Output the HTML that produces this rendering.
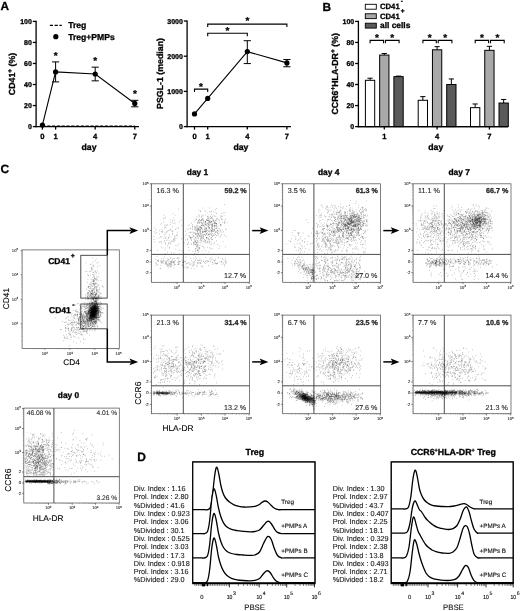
<!DOCTYPE html>
<html><head><meta charset="utf-8"><title>Figure</title>
<style>
html,body{margin:0;padding:0;background:#fff;}
svg{display:block;will-change:transform;filter:blur(0.3px);text-rendering:geometricPrecision;font-family:"Liberation Sans",sans-serif;}
</style></head>
<body>
<svg width="520" height="611" viewBox="0 0 520 611">
<defs>
<filter id="b1" x="-50%" y="-50%" width="200%" height="200%"><feGaussianBlur stdDeviation="1.1"/></filter>
<filter id="b2" x="-50%" y="-300%" width="200%" height="700%"><feGaussianBlur stdDeviation="0.6"/></filter>
<filter id="b3" x="-50%" y="-50%" width="200%" height="200%"><feGaussianBlur stdDeviation="2.2"/></filter>
</defs>
<rect width="520" height="611" fill="#fff"/>
<text x="0.60" y="10.40" font-size="11.8" text-anchor="start" fill="#000" font-weight="bold" stroke="#000" stroke-width="0.3" >A</text>
<text x="322.40" y="10.60" font-size="11.8" text-anchor="start" fill="#000" font-weight="bold" stroke="#000" stroke-width="0.3" >B</text>
<text x="0.60" y="173.20" font-size="12" text-anchor="start" fill="#000" font-weight="bold" stroke="#000" stroke-width="0.3" >C</text>
<text x="137.30" y="461.00" font-size="12" text-anchor="start" fill="#000" font-weight="bold" stroke="#000" stroke-width="0.3" >D</text>
<line x1="36.10" y1="20.80" x2="36.10" y2="127.25" stroke="#000" stroke-width="1.3" />
<line x1="35.45" y1="126.60" x2="139.00" y2="126.60" stroke="#000" stroke-width="1.3" />
<line x1="32.80" y1="126.60" x2="36.10" y2="126.60" stroke="#000" stroke-width="1.3" />
<text x="31.90" y="129.10" font-size="7" text-anchor="end" fill="#000" font-weight="bold" stroke="#000" stroke-width="0.3" >0</text>
<line x1="32.80" y1="105.56" x2="36.10" y2="105.56" stroke="#000" stroke-width="1.3" />
<text x="31.90" y="108.06" font-size="7" text-anchor="end" fill="#000" font-weight="bold" stroke="#000" stroke-width="0.3" >20</text>
<line x1="32.80" y1="84.52" x2="36.10" y2="84.52" stroke="#000" stroke-width="1.3" />
<text x="31.90" y="87.02" font-size="7" text-anchor="end" fill="#000" font-weight="bold" stroke="#000" stroke-width="0.3" >40</text>
<line x1="32.80" y1="63.48" x2="36.10" y2="63.48" stroke="#000" stroke-width="1.3" />
<text x="31.90" y="65.98" font-size="7" text-anchor="end" fill="#000" font-weight="bold" stroke="#000" stroke-width="0.3" >60</text>
<line x1="32.80" y1="42.44" x2="36.10" y2="42.44" stroke="#000" stroke-width="1.3" />
<text x="31.90" y="44.94" font-size="7" text-anchor="end" fill="#000" font-weight="bold" stroke="#000" stroke-width="0.3" >80</text>
<line x1="32.80" y1="21.40" x2="36.10" y2="21.40" stroke="#000" stroke-width="1.3" />
<text x="31.90" y="23.90" font-size="7" text-anchor="end" fill="#000" font-weight="bold" stroke="#000" stroke-width="0.3" >100</text>
<line x1="42.40" y1="126.60" x2="42.40" y2="129.60" stroke="#000" stroke-width="1.3" />
<text x="42.40" y="138.70" font-size="7.6" text-anchor="middle" fill="#000" font-weight="bold" stroke="#000" stroke-width="0.3" >0</text>
<line x1="55.60" y1="126.60" x2="55.60" y2="129.60" stroke="#000" stroke-width="1.3" />
<text x="55.60" y="138.70" font-size="7.6" text-anchor="middle" fill="#000" font-weight="bold" stroke="#000" stroke-width="0.3" >1</text>
<line x1="95.20" y1="126.60" x2="95.20" y2="129.60" stroke="#000" stroke-width="1.3" />
<text x="95.20" y="138.70" font-size="7.6" text-anchor="middle" fill="#000" font-weight="bold" stroke="#000" stroke-width="0.3" >4</text>
<line x1="134.80" y1="126.60" x2="134.80" y2="129.60" stroke="#000" stroke-width="1.3" />
<text x="134.80" y="138.70" font-size="7.6" text-anchor="middle" fill="#000" font-weight="bold" stroke="#000" stroke-width="0.3" >7</text>
<text x="89.00" y="149.80" font-size="8.7" text-anchor="middle" fill="#000" font-weight="bold" stroke="#000" stroke-width="0.3" >day</text>
<text transform="translate(14.90,74.00) rotate(-90)" font-size="8.8" text-anchor="middle" fill="#000" font-weight="bold" stroke="#000" stroke-width="0.3">CD41<tspan dy="-3" font-size="6.5">+</tspan><tspan dy="3"> (%)</tspan></text>
<line x1="42.40" y1="126.00" x2="134.80" y2="126.00" stroke="#000" stroke-width="1.2" stroke-dasharray="3.2 1.6"/>
<polyline fill="none" stroke="#000" stroke-width="1.1" points="42.40,125.02 55.60,71.90 95.20,74.00 134.80,103.46"/>
<circle cx="42.40" cy="125.02" r="2.6" fill="#000"/>
<line x1="55.60" y1="61.90" x2="55.60" y2="81.89" stroke="#000" stroke-width="1.0" />
<line x1="52.00" y1="61.90" x2="59.20" y2="61.90" stroke="#000" stroke-width="1.0" />
<line x1="52.00" y1="81.89" x2="59.20" y2="81.89" stroke="#000" stroke-width="1.0" />
<circle cx="55.60" cy="71.90" r="2.6" fill="#000"/>
<line x1="95.20" y1="67.16" x2="95.20" y2="80.84" stroke="#000" stroke-width="1.0" />
<line x1="91.60" y1="67.16" x2="98.80" y2="67.16" stroke="#000" stroke-width="1.0" />
<line x1="91.60" y1="80.84" x2="98.80" y2="80.84" stroke="#000" stroke-width="1.0" />
<circle cx="95.20" cy="74.00" r="2.6" fill="#000"/>
<line x1="134.80" y1="100.30" x2="134.80" y2="106.82" stroke="#000" stroke-width="1.0" />
<line x1="131.20" y1="100.30" x2="138.40" y2="100.30" stroke="#000" stroke-width="1.0" />
<line x1="131.20" y1="106.82" x2="138.40" y2="106.82" stroke="#000" stroke-width="1.0" />
<circle cx="134.80" cy="103.46" r="2.6" fill="#000"/>
<text x="55.60" y="58.80" font-size="10" text-anchor="middle" fill="#000" font-weight="bold" stroke="#000" stroke-width="0.3" >*</text>
<text x="95.20" y="64.30" font-size="10" text-anchor="middle" fill="#000" font-weight="bold" stroke="#000" stroke-width="0.3" >*</text>
<text x="134.90" y="97.00" font-size="10" text-anchor="middle" fill="#000" font-weight="bold" stroke="#000" stroke-width="0.3" >*</text>
<line x1="49.80" y1="25.40" x2="61.80" y2="25.40" stroke="#000" stroke-width="1.2" stroke-dasharray="3.2 1.6"/>
<text x="68.20" y="28.30" font-size="8.6" text-anchor="start" fill="#000" font-weight="bold" stroke="#000" stroke-width="0.3" >Treg</text>
<circle cx="55.8" cy="36.7" r="2.6" fill="#000"/>
<text x="68.20" y="39.60" font-size="8.6" text-anchor="start" fill="#000" font-weight="bold" stroke="#000" stroke-width="0.3" >Treg+PMPs</text>
<line x1="187.10" y1="20.40" x2="187.10" y2="127.25" stroke="#000" stroke-width="1.3" />
<line x1="186.45" y1="126.60" x2="291.00" y2="126.60" stroke="#000" stroke-width="1.3" />
<line x1="183.80" y1="126.60" x2="187.10" y2="126.60" stroke="#000" stroke-width="1.3" />
<text x="182.90" y="129.10" font-size="7" text-anchor="end" fill="#000" font-weight="bold" stroke="#000" stroke-width="0.3" >0</text>
<line x1="183.80" y1="91.40" x2="187.10" y2="91.40" stroke="#000" stroke-width="1.3" />
<text x="182.90" y="93.90" font-size="7" text-anchor="end" fill="#000" font-weight="bold" stroke="#000" stroke-width="0.3" >1000</text>
<line x1="183.80" y1="56.20" x2="187.10" y2="56.20" stroke="#000" stroke-width="1.3" />
<text x="182.90" y="58.70" font-size="7" text-anchor="end" fill="#000" font-weight="bold" stroke="#000" stroke-width="0.3" >2000</text>
<line x1="183.80" y1="21.00" x2="187.10" y2="21.00" stroke="#000" stroke-width="1.3" />
<text x="182.90" y="23.50" font-size="7" text-anchor="end" fill="#000" font-weight="bold" stroke="#000" stroke-width="0.3" >3000</text>
<line x1="194.50" y1="126.60" x2="194.50" y2="129.60" stroke="#000" stroke-width="1.3" />
<text x="194.50" y="138.70" font-size="7.6" text-anchor="middle" fill="#000" font-weight="bold" stroke="#000" stroke-width="0.3" >0</text>
<line x1="207.70" y1="126.60" x2="207.70" y2="129.60" stroke="#000" stroke-width="1.3" />
<text x="207.70" y="138.70" font-size="7.6" text-anchor="middle" fill="#000" font-weight="bold" stroke="#000" stroke-width="0.3" >1</text>
<line x1="247.30" y1="126.60" x2="247.30" y2="129.60" stroke="#000" stroke-width="1.3" />
<text x="247.30" y="138.70" font-size="7.6" text-anchor="middle" fill="#000" font-weight="bold" stroke="#000" stroke-width="0.3" >4</text>
<line x1="286.90" y1="126.60" x2="286.90" y2="129.60" stroke="#000" stroke-width="1.3" />
<text x="286.90" y="138.70" font-size="7.6" text-anchor="middle" fill="#000" font-weight="bold" stroke="#000" stroke-width="0.3" >7</text>
<text x="240.90" y="149.80" font-size="8.7" text-anchor="middle" fill="#000" font-weight="bold" stroke="#000" stroke-width="0.3" >day</text>
<text transform="translate(163.30,73.50) rotate(-90)" font-size="8.8" text-anchor="middle" fill="#000" font-weight="bold" stroke="#000" stroke-width="0.3">PSGL-1 (median)</text>
<polyline fill="none" stroke="#000" stroke-width="1.1" points="194.50,113.93 207.70,98.44 247.30,51.62 286.90,62.89"/>
<circle cx="194.50" cy="113.93" r="2.6" fill="#000"/>
<circle cx="207.70" cy="98.44" r="2.6" fill="#000"/>
<line x1="247.30" y1="40.71" x2="247.30" y2="63.59" stroke="#000" stroke-width="1.0" />
<line x1="243.70" y1="40.71" x2="250.90" y2="40.71" stroke="#000" stroke-width="1.0" />
<line x1="243.70" y1="63.59" x2="250.90" y2="63.59" stroke="#000" stroke-width="1.0" />
<circle cx="247.30" cy="51.62" r="2.6" fill="#000"/>
<line x1="286.90" y1="59.54" x2="286.90" y2="66.76" stroke="#000" stroke-width="1.0" />
<line x1="283.30" y1="59.54" x2="290.50" y2="59.54" stroke="#000" stroke-width="1.0" />
<line x1="283.30" y1="66.76" x2="290.50" y2="66.76" stroke="#000" stroke-width="1.0" />
<circle cx="286.90" cy="62.89" r="2.6" fill="#000"/>
<polyline fill="none" stroke="#000" stroke-width="1.1" points="207.70,27.10 207.70,24.10 286.90,24.10 286.90,27.10"/>
<text x="247.50" y="23.90" font-size="10" text-anchor="middle" fill="#000" font-weight="bold" stroke="#000" stroke-width="0.3" >*</text>
<polyline fill="none" stroke="#000" stroke-width="1.1" points="207.70,36.30 207.70,33.30 247.30,33.30 247.30,36.30"/>
<text x="227.50" y="33.90" font-size="10" text-anchor="middle" fill="#000" font-weight="bold" stroke="#000" stroke-width="0.3" >*</text>
<polyline fill="none" stroke="#000" stroke-width="1.1" points="194.50,91.90 194.50,89.10 207.70,89.10 207.70,91.90"/>
<text x="200.90" y="89.50" font-size="10" text-anchor="middle" fill="#000" font-weight="bold" stroke="#000" stroke-width="0.3" >*</text>
<line x1="358.40" y1="20.80" x2="358.40" y2="127.25" stroke="#000" stroke-width="1.3" />
<line x1="357.75" y1="126.60" x2="508.00" y2="126.60" stroke="#000" stroke-width="1.3" />
<line x1="355.10" y1="126.60" x2="358.40" y2="126.60" stroke="#000" stroke-width="1.3" />
<text x="354.20" y="129.10" font-size="7" text-anchor="end" fill="#000" font-weight="bold" stroke="#000" stroke-width="0.3" >0</text>
<line x1="355.10" y1="105.56" x2="358.40" y2="105.56" stroke="#000" stroke-width="1.3" />
<text x="354.20" y="108.06" font-size="7" text-anchor="end" fill="#000" font-weight="bold" stroke="#000" stroke-width="0.3" >20</text>
<line x1="355.10" y1="84.52" x2="358.40" y2="84.52" stroke="#000" stroke-width="1.3" />
<text x="354.20" y="87.02" font-size="7" text-anchor="end" fill="#000" font-weight="bold" stroke="#000" stroke-width="0.3" >40</text>
<line x1="355.10" y1="63.48" x2="358.40" y2="63.48" stroke="#000" stroke-width="1.3" />
<text x="354.20" y="65.98" font-size="7" text-anchor="end" fill="#000" font-weight="bold" stroke="#000" stroke-width="0.3" >60</text>
<line x1="355.10" y1="42.44" x2="358.40" y2="42.44" stroke="#000" stroke-width="1.3" />
<text x="354.20" y="44.94" font-size="7" text-anchor="end" fill="#000" font-weight="bold" stroke="#000" stroke-width="0.3" >80</text>
<line x1="355.10" y1="21.40" x2="358.40" y2="21.40" stroke="#000" stroke-width="1.3" />
<text x="354.20" y="23.90" font-size="7" text-anchor="end" fill="#000" font-weight="bold" stroke="#000" stroke-width="0.3" >100</text>
<text transform="translate(337.80,73.80) rotate(-90)" font-size="8.8" text-anchor="middle" fill="#000" font-weight="bold" stroke="#000" stroke-width="0.3">CCR6<tspan dy="-3" font-size="6.5">+</tspan><tspan dy="3">HLA-DR</tspan><tspan dy="-3" font-size="6.5">+</tspan><tspan dy="3"> (%)</tspan></text>
<line x1="370.05" y1="78.21" x2="370.05" y2="80.31" stroke="#000" stroke-width="1.0" />
<line x1="367.45" y1="78.21" x2="372.65" y2="78.21" stroke="#000" stroke-width="1.0" />
<rect x="365.40" y="80.31" width="9.3" height="46.29" fill="#ffffff" stroke="#000" stroke-width="1.0"/>
<line x1="384.30" y1="53.49" x2="384.30" y2="55.06" stroke="#000" stroke-width="1.0" />
<line x1="381.70" y1="53.49" x2="386.90" y2="53.49" stroke="#000" stroke-width="1.0" />
<rect x="379.65" y="55.06" width="9.3" height="71.54" fill="#a9a9a9" stroke="#000" stroke-width="1.0"/>
<line x1="398.55" y1="76.10" x2="398.55" y2="76.63" stroke="#000" stroke-width="1.0" />
<line x1="395.95" y1="76.10" x2="401.15" y2="76.10" stroke="#000" stroke-width="1.0" />
<rect x="393.90" y="76.63" width="9.3" height="49.97" fill="#5a5a5a" stroke="#000" stroke-width="1.0"/>
<line x1="384.30" y1="126.60" x2="384.30" y2="129.60" stroke="#000" stroke-width="1.3" />
<text x="384.30" y="138.70" font-size="7.6" text-anchor="middle" fill="#000" font-weight="bold" stroke="#000" stroke-width="0.3" >1</text>
<polyline fill="none" stroke="#000" stroke-width="1.1" points="370.10,43.20 370.10,40.40 383.50,40.40 383.50,43.20"/>
<polyline fill="none" stroke="#000" stroke-width="1.1" points="385.40,43.20 385.40,40.40 399.10,40.40 399.10,43.20"/>
<text x="376.90" y="40.90" font-size="10" text-anchor="middle" fill="#000" font-weight="bold" stroke="#000" stroke-width="0.3" >*</text>
<text x="392.30" y="40.90" font-size="10" text-anchor="middle" fill="#000" font-weight="bold" stroke="#000" stroke-width="0.3" >*</text>
<line x1="422.85" y1="96.62" x2="422.85" y2="100.30" stroke="#000" stroke-width="1.0" />
<line x1="420.25" y1="96.62" x2="425.45" y2="96.62" stroke="#000" stroke-width="1.0" />
<rect x="418.20" y="100.30" width="9.3" height="26.30" fill="#ffffff" stroke="#000" stroke-width="1.0"/>
<line x1="437.10" y1="46.65" x2="437.10" y2="49.80" stroke="#000" stroke-width="1.0" />
<line x1="434.50" y1="46.65" x2="439.70" y2="46.65" stroke="#000" stroke-width="1.0" />
<rect x="432.45" y="49.80" width="9.3" height="76.80" fill="#a9a9a9" stroke="#000" stroke-width="1.0"/>
<line x1="451.35" y1="78.94" x2="451.35" y2="84.52" stroke="#000" stroke-width="1.0" />
<line x1="448.75" y1="78.94" x2="453.95" y2="78.94" stroke="#000" stroke-width="1.0" />
<rect x="446.70" y="84.52" width="9.3" height="42.08" fill="#5a5a5a" stroke="#000" stroke-width="1.0"/>
<line x1="437.10" y1="126.60" x2="437.10" y2="129.60" stroke="#000" stroke-width="1.3" />
<text x="437.10" y="138.70" font-size="7.6" text-anchor="middle" fill="#000" font-weight="bold" stroke="#000" stroke-width="0.3" >4</text>
<polyline fill="none" stroke="#000" stroke-width="1.1" points="422.90,43.20 422.90,40.40 436.30,40.40 436.30,43.20"/>
<polyline fill="none" stroke="#000" stroke-width="1.1" points="438.20,43.20 438.20,40.40 451.90,40.40 451.90,43.20"/>
<text x="429.70" y="40.90" font-size="10" text-anchor="middle" fill="#000" font-weight="bold" stroke="#000" stroke-width="0.3" >*</text>
<text x="445.10" y="40.90" font-size="10" text-anchor="middle" fill="#000" font-weight="bold" stroke="#000" stroke-width="0.3" >*</text>
<line x1="475.15" y1="103.98" x2="475.15" y2="107.66" stroke="#000" stroke-width="1.0" />
<line x1="472.55" y1="103.98" x2="477.75" y2="103.98" stroke="#000" stroke-width="1.0" />
<rect x="470.50" y="107.66" width="9.3" height="18.94" fill="#ffffff" stroke="#000" stroke-width="1.0"/>
<line x1="489.40" y1="46.33" x2="489.40" y2="50.33" stroke="#000" stroke-width="1.0" />
<line x1="486.80" y1="46.33" x2="492.00" y2="46.33" stroke="#000" stroke-width="1.0" />
<rect x="484.75" y="50.33" width="9.3" height="76.27" fill="#a9a9a9" stroke="#000" stroke-width="1.0"/>
<line x1="503.65" y1="99.46" x2="503.65" y2="103.04" stroke="#000" stroke-width="1.0" />
<line x1="501.05" y1="99.46" x2="506.25" y2="99.46" stroke="#000" stroke-width="1.0" />
<rect x="499.00" y="103.04" width="9.3" height="23.56" fill="#5a5a5a" stroke="#000" stroke-width="1.0"/>
<line x1="489.40" y1="126.60" x2="489.40" y2="129.60" stroke="#000" stroke-width="1.3" />
<text x="489.40" y="138.70" font-size="7.6" text-anchor="middle" fill="#000" font-weight="bold" stroke="#000" stroke-width="0.3" >7</text>
<polyline fill="none" stroke="#000" stroke-width="1.1" points="475.20,43.20 475.20,40.40 488.60,40.40 488.60,43.20"/>
<polyline fill="none" stroke="#000" stroke-width="1.1" points="490.50,43.20 490.50,40.40 504.20,40.40 504.20,43.20"/>
<text x="482.00" y="40.90" font-size="10" text-anchor="middle" fill="#000" font-weight="bold" stroke="#000" stroke-width="0.3" >*</text>
<text x="497.40" y="40.90" font-size="10" text-anchor="middle" fill="#000" font-weight="bold" stroke="#000" stroke-width="0.3" >*</text>
<line x1="357.75" y1="126.60" x2="508.00" y2="126.60" stroke="#000" stroke-width="1.3" />
<text x="435.80" y="149.90" font-size="8.7" text-anchor="middle" fill="#000" font-weight="bold" stroke="#000" stroke-width="0.3" >day</text>
<rect x="365.3" y="4.30" width="11" height="4.9" fill="#ffffff" stroke="#000" stroke-width="0.9"/>
<text x="380.00" y="9.30" font-size="7.7" text-anchor="start" fill="#000" font-weight="bold" stroke="#000" stroke-width="0.3" >CD41<tspan dx="1.2" dy="-6.0" font-size="6.5">-</tspan></text>
<rect x="365.3" y="13.75" width="11" height="4.9" fill="#a9a9a9" stroke="#000" stroke-width="0.9"/>
<text x="380.00" y="18.75" font-size="7.7" text-anchor="start" fill="#000" font-weight="bold" stroke="#000" stroke-width="0.3" >CD41<tspan dx="1.2" dy="-6.0" font-size="6.5">+</tspan></text>
<rect x="365.3" y="23.20" width="11" height="4.9" fill="#5a5a5a" stroke="#000" stroke-width="0.9"/>
<text x="380.00" y="28.20" font-size="8.2" text-anchor="start" fill="#000" font-weight="bold" stroke="#000" stroke-width="0.3" textLength="30.3" lengthAdjust="spacingAndGlyphs">all cells</text>
<rect x="22.1" y="249.9" width="97.20" height="98.50" fill="none" stroke="#555" stroke-width="0.75"/>
<line x1="20.50" y1="250.40" x2="22.10" y2="250.40" stroke="#444" stroke-width="0.5" />
<text x="18.10" y="251.60" font-size="4.1" text-anchor="end" fill="#222" stroke="#222" stroke-width="0.1">10<tspan dy="-1.4" font-size="3.0">5</tspan></text>
<line x1="21.20" y1="267.45" x2="22.10" y2="267.45" stroke="#777" stroke-width="0.35" />
<line x1="21.20" y1="263.16" x2="22.10" y2="263.16" stroke="#777" stroke-width="0.35" />
<line x1="21.20" y1="260.11" x2="22.10" y2="260.11" stroke="#777" stroke-width="0.35" />
<line x1="21.20" y1="257.75" x2="22.10" y2="257.75" stroke="#777" stroke-width="0.35" />
<line x1="21.20" y1="255.81" x2="22.10" y2="255.81" stroke="#777" stroke-width="0.35" />
<line x1="21.20" y1="254.18" x2="22.10" y2="254.18" stroke="#777" stroke-width="0.35" />
<line x1="21.20" y1="252.76" x2="22.10" y2="252.76" stroke="#777" stroke-width="0.35" />
<line x1="21.20" y1="251.52" x2="22.10" y2="251.52" stroke="#777" stroke-width="0.35" />
<line x1="20.50" y1="274.70" x2="22.10" y2="274.70" stroke="#444" stroke-width="0.5" />
<text x="18.10" y="275.90" font-size="4.1" text-anchor="end" fill="#222" stroke="#222" stroke-width="0.1">10<tspan dy="-1.4" font-size="3.0">4</tspan></text>
<line x1="21.20" y1="291.75" x2="22.10" y2="291.75" stroke="#777" stroke-width="0.35" />
<line x1="21.20" y1="287.46" x2="22.10" y2="287.46" stroke="#777" stroke-width="0.35" />
<line x1="21.20" y1="284.41" x2="22.10" y2="284.41" stroke="#777" stroke-width="0.35" />
<line x1="21.20" y1="282.05" x2="22.10" y2="282.05" stroke="#777" stroke-width="0.35" />
<line x1="21.20" y1="280.11" x2="22.10" y2="280.11" stroke="#777" stroke-width="0.35" />
<line x1="21.20" y1="278.48" x2="22.10" y2="278.48" stroke="#777" stroke-width="0.35" />
<line x1="21.20" y1="277.06" x2="22.10" y2="277.06" stroke="#777" stroke-width="0.35" />
<line x1="21.20" y1="275.82" x2="22.10" y2="275.82" stroke="#777" stroke-width="0.35" />
<line x1="20.50" y1="299.30" x2="22.10" y2="299.30" stroke="#444" stroke-width="0.5" />
<text x="18.10" y="300.50" font-size="4.1" text-anchor="end" fill="#222" stroke="#222" stroke-width="0.1">10<tspan dy="-1.4" font-size="3.0">3</tspan></text>
<line x1="21.20" y1="316.35" x2="22.10" y2="316.35" stroke="#777" stroke-width="0.35" />
<line x1="21.20" y1="312.06" x2="22.10" y2="312.06" stroke="#777" stroke-width="0.35" />
<line x1="21.20" y1="309.01" x2="22.10" y2="309.01" stroke="#777" stroke-width="0.35" />
<line x1="21.20" y1="306.65" x2="22.10" y2="306.65" stroke="#777" stroke-width="0.35" />
<line x1="21.20" y1="304.71" x2="22.10" y2="304.71" stroke="#777" stroke-width="0.35" />
<line x1="21.20" y1="303.08" x2="22.10" y2="303.08" stroke="#777" stroke-width="0.35" />
<line x1="21.20" y1="301.66" x2="22.10" y2="301.66" stroke="#777" stroke-width="0.35" />
<line x1="21.20" y1="300.42" x2="22.10" y2="300.42" stroke="#777" stroke-width="0.35" />
<line x1="20.50" y1="323.70" x2="22.10" y2="323.70" stroke="#444" stroke-width="0.5" />
<text x="18.10" y="324.90" font-size="4.1" text-anchor="end" fill="#222" stroke="#222" stroke-width="0.1">10<tspan dy="-1.4" font-size="3.0">2</tspan></text>
<line x1="21.20" y1="340.75" x2="22.10" y2="340.75" stroke="#777" stroke-width="0.35" />
<line x1="21.20" y1="336.46" x2="22.10" y2="336.46" stroke="#777" stroke-width="0.35" />
<line x1="21.20" y1="333.41" x2="22.10" y2="333.41" stroke="#777" stroke-width="0.35" />
<line x1="21.20" y1="331.05" x2="22.10" y2="331.05" stroke="#777" stroke-width="0.35" />
<line x1="21.20" y1="329.11" x2="22.10" y2="329.11" stroke="#777" stroke-width="0.35" />
<line x1="21.20" y1="327.48" x2="22.10" y2="327.48" stroke="#777" stroke-width="0.35" />
<line x1="21.20" y1="326.06" x2="22.10" y2="326.06" stroke="#777" stroke-width="0.35" />
<line x1="21.20" y1="324.82" x2="22.10" y2="324.82" stroke="#777" stroke-width="0.35" />
<line x1="45.00" y1="348.40" x2="45.00" y2="350.00" stroke="#444" stroke-width="0.5" />
<text x="44.80" y="355.00" font-size="4.1" text-anchor="middle" fill="#222" stroke="#222" stroke-width="0.1">10<tspan dy="-1.4" font-size="3.0">2</tspan></text>
<line x1="27.88" y1="348.40" x2="27.88" y2="349.30" stroke="#777" stroke-width="0.35" />
<line x1="32.19" y1="348.40" x2="32.19" y2="349.30" stroke="#777" stroke-width="0.35" />
<line x1="35.25" y1="348.40" x2="35.25" y2="349.30" stroke="#777" stroke-width="0.35" />
<line x1="37.62" y1="348.40" x2="37.62" y2="349.30" stroke="#777" stroke-width="0.35" />
<line x1="39.56" y1="348.40" x2="39.56" y2="349.30" stroke="#777" stroke-width="0.35" />
<line x1="41.20" y1="348.40" x2="41.20" y2="349.30" stroke="#777" stroke-width="0.35" />
<line x1="42.63" y1="348.40" x2="42.63" y2="349.30" stroke="#777" stroke-width="0.35" />
<line x1="43.88" y1="348.40" x2="43.88" y2="349.30" stroke="#777" stroke-width="0.35" />
<line x1="70.00" y1="348.40" x2="70.00" y2="350.00" stroke="#444" stroke-width="0.5" />
<text x="69.80" y="355.00" font-size="4.1" text-anchor="middle" fill="#222" stroke="#222" stroke-width="0.1">10<tspan dy="-1.4" font-size="3.0">3</tspan></text>
<line x1="52.88" y1="348.40" x2="52.88" y2="349.30" stroke="#777" stroke-width="0.35" />
<line x1="57.19" y1="348.40" x2="57.19" y2="349.30" stroke="#777" stroke-width="0.35" />
<line x1="60.25" y1="348.40" x2="60.25" y2="349.30" stroke="#777" stroke-width="0.35" />
<line x1="62.62" y1="348.40" x2="62.62" y2="349.30" stroke="#777" stroke-width="0.35" />
<line x1="64.56" y1="348.40" x2="64.56" y2="349.30" stroke="#777" stroke-width="0.35" />
<line x1="66.20" y1="348.40" x2="66.20" y2="349.30" stroke="#777" stroke-width="0.35" />
<line x1="67.63" y1="348.40" x2="67.63" y2="349.30" stroke="#777" stroke-width="0.35" />
<line x1="68.88" y1="348.40" x2="68.88" y2="349.30" stroke="#777" stroke-width="0.35" />
<line x1="94.80" y1="348.40" x2="94.80" y2="350.00" stroke="#444" stroke-width="0.5" />
<text x="94.60" y="355.00" font-size="4.1" text-anchor="middle" fill="#222" stroke="#222" stroke-width="0.1">10<tspan dy="-1.4" font-size="3.0">4</tspan></text>
<line x1="77.68" y1="348.40" x2="77.68" y2="349.30" stroke="#777" stroke-width="0.35" />
<line x1="81.99" y1="348.40" x2="81.99" y2="349.30" stroke="#777" stroke-width="0.35" />
<line x1="85.05" y1="348.40" x2="85.05" y2="349.30" stroke="#777" stroke-width="0.35" />
<line x1="87.42" y1="348.40" x2="87.42" y2="349.30" stroke="#777" stroke-width="0.35" />
<line x1="89.36" y1="348.40" x2="89.36" y2="349.30" stroke="#777" stroke-width="0.35" />
<line x1="91.00" y1="348.40" x2="91.00" y2="349.30" stroke="#777" stroke-width="0.35" />
<line x1="92.43" y1="348.40" x2="92.43" y2="349.30" stroke="#777" stroke-width="0.35" />
<line x1="93.68" y1="348.40" x2="93.68" y2="349.30" stroke="#777" stroke-width="0.35" />
<line x1="118.80" y1="348.40" x2="118.80" y2="350.00" stroke="#444" stroke-width="0.5" />
<text x="118.60" y="355.00" font-size="4.1" text-anchor="middle" fill="#222" stroke="#222" stroke-width="0.1">10<tspan dy="-1.4" font-size="3.0">5</tspan></text>
<line x1="101.68" y1="348.40" x2="101.68" y2="349.30" stroke="#777" stroke-width="0.35" />
<line x1="105.99" y1="348.40" x2="105.99" y2="349.30" stroke="#777" stroke-width="0.35" />
<line x1="109.05" y1="348.40" x2="109.05" y2="349.30" stroke="#777" stroke-width="0.35" />
<line x1="111.42" y1="348.40" x2="111.42" y2="349.30" stroke="#777" stroke-width="0.35" />
<line x1="113.36" y1="348.40" x2="113.36" y2="349.30" stroke="#777" stroke-width="0.35" />
<line x1="115.00" y1="348.40" x2="115.00" y2="349.30" stroke="#777" stroke-width="0.35" />
<line x1="116.43" y1="348.40" x2="116.43" y2="349.30" stroke="#777" stroke-width="0.35" />
<line x1="117.68" y1="348.40" x2="117.68" y2="349.30" stroke="#777" stroke-width="0.35" />
<rect x="80.8" y="255.3" width="26.4" height="42.8" fill="none" stroke="#3a3a3a" stroke-width="0.9"/>
<rect x="80.8" y="304.0" width="26.4" height="24.8" fill="none" stroke="#3a3a3a" stroke-width="0.9"/>
<text x="48.20" y="264.00" font-size="8.5" text-anchor="start" fill="#000" font-weight="bold" stroke="#000" stroke-width="0.3" >CD41</text>
<text x="70.80" y="258.00" font-size="7" text-anchor="start" fill="#000" font-weight="bold" stroke="#000" stroke-width="0.3" >+</text>
<text x="49.00" y="312.50" font-size="8.5" text-anchor="start" fill="#000" font-weight="bold" stroke="#000" stroke-width="0.3" >CD41</text>
<text x="72.20" y="306.60" font-size="7" text-anchor="start" fill="#000" font-weight="bold" stroke="#000" stroke-width="0.3" >-</text>
<text transform="translate(9.40,298.60) rotate(-90)" font-size="8.3" text-anchor="middle" fill="#000" stroke="#000" stroke-width="0.12">CD41</text>
<text x="71.50" y="365.40" font-size="8.3" text-anchor="middle" fill="#000" stroke="#000" stroke-width="0.12" >CD4</text>
<polyline fill="none" stroke="#000" stroke-width="1.5" stroke-linejoin="miter" points="107.30,255.30 107.30,230.60 131.00,230.60"/>
<path d="M138.20,230.60 L129.40,227.20 L131.40,230.60 L129.40,234.00 Z" fill="#000"/>
<polyline fill="none" stroke="#000" stroke-width="1.5" stroke-linejoin="miter" points="107.30,328.80 107.30,361.90 131.00,361.90"/>
<path d="M138.20,361.90 L129.40,358.50 L131.40,361.90 L129.40,365.30 Z" fill="#000"/>
<ellipse cx="93.60" cy="311.50" rx="2.7" ry="6.2" transform="rotate(12 93.60 311.50)" fill="#000" fill-opacity="0.97" filter="url(#b1)"/>
<rect x="151.50" y="183.80" width="97.90" height="98.50" fill="none" stroke="#555" stroke-width="0.75"/>
<line x1="183.30" y1="183.80" x2="183.30" y2="282.30" stroke="#3a3a3a" stroke-width="0.9" />
<line x1="151.50" y1="254.40" x2="249.40" y2="254.40" stroke="#3a3a3a" stroke-width="0.9" />
<line x1="149.70" y1="183.80" x2="151.50" y2="183.80" stroke="#333" stroke-width="0.6" />
<text x="148.70" y="185.10" font-size="4.1" text-anchor="end" fill="#222" stroke="#222" stroke-width="0.1">10<tspan dy="-1.4" font-size="3.0">5</tspan></text>
<line x1="149.70" y1="206.00" x2="151.50" y2="206.00" stroke="#333" stroke-width="0.6" />
<text x="148.70" y="207.30" font-size="4.1" text-anchor="end" fill="#222" stroke="#222" stroke-width="0.1">10<tspan dy="-1.4" font-size="3.0">4</tspan></text>
<line x1="149.70" y1="230.40" x2="151.50" y2="230.40" stroke="#333" stroke-width="0.6" />
<text x="148.70" y="231.70" font-size="4.1" text-anchor="end" fill="#222" stroke="#222" stroke-width="0.1">10<tspan dy="-1.4" font-size="3.0">3</tspan></text>
<line x1="149.70" y1="250.60" x2="151.50" y2="250.60" stroke="#333" stroke-width="0.6" />
<text x="148.70" y="251.90" font-size="4.2" text-anchor="end" fill="#222" stroke="#222" stroke-width="0.1">2</text>
<line x1="149.70" y1="262.00" x2="151.50" y2="262.00" stroke="#333" stroke-width="0.6" />
<text x="148.70" y="263.30" font-size="4.2" text-anchor="end" fill="#222" stroke="#222" stroke-width="0.1">0</text>
<line x1="149.70" y1="272.70" x2="151.50" y2="272.70" stroke="#333" stroke-width="0.6" />
<text x="148.70" y="274.00" font-size="4.2" text-anchor="end" fill="#222" stroke="#222" stroke-width="0.1">-2</text>
<line x1="150.50" y1="199.32" x2="151.50" y2="199.32" stroke="#666" stroke-width="0.4" />
<line x1="150.50" y1="195.41" x2="151.50" y2="195.41" stroke="#666" stroke-width="0.4" />
<line x1="150.50" y1="192.63" x2="151.50" y2="192.63" stroke="#666" stroke-width="0.4" />
<line x1="150.50" y1="190.48" x2="151.50" y2="190.48" stroke="#666" stroke-width="0.4" />
<line x1="150.50" y1="188.73" x2="151.50" y2="188.73" stroke="#666" stroke-width="0.4" />
<line x1="150.50" y1="187.24" x2="151.50" y2="187.24" stroke="#666" stroke-width="0.4" />
<line x1="150.50" y1="185.95" x2="151.50" y2="185.95" stroke="#666" stroke-width="0.4" />
<line x1="150.50" y1="184.82" x2="151.50" y2="184.82" stroke="#666" stroke-width="0.4" />
<line x1="150.50" y1="223.05" x2="151.50" y2="223.05" stroke="#666" stroke-width="0.4" />
<line x1="150.50" y1="218.76" x2="151.50" y2="218.76" stroke="#666" stroke-width="0.4" />
<line x1="150.50" y1="215.71" x2="151.50" y2="215.71" stroke="#666" stroke-width="0.4" />
<line x1="150.50" y1="213.35" x2="151.50" y2="213.35" stroke="#666" stroke-width="0.4" />
<line x1="150.50" y1="211.41" x2="151.50" y2="211.41" stroke="#666" stroke-width="0.4" />
<line x1="150.50" y1="209.78" x2="151.50" y2="209.78" stroke="#666" stroke-width="0.4" />
<line x1="150.50" y1="208.36" x2="151.50" y2="208.36" stroke="#666" stroke-width="0.4" />
<line x1="150.50" y1="207.12" x2="151.50" y2="207.12" stroke="#666" stroke-width="0.4" />
<line x1="150.50" y1="233.40" x2="151.50" y2="233.40" stroke="#666" stroke-width="0.4" />
<line x1="150.50" y1="236.00" x2="151.50" y2="236.00" stroke="#666" stroke-width="0.4" />
<line x1="150.50" y1="238.60" x2="151.50" y2="238.60" stroke="#666" stroke-width="0.4" />
<line x1="150.50" y1="241.20" x2="151.50" y2="241.20" stroke="#666" stroke-width="0.4" />
<line x1="150.50" y1="243.80" x2="151.50" y2="243.80" stroke="#666" stroke-width="0.4" />
<line x1="150.50" y1="246.40" x2="151.50" y2="246.40" stroke="#666" stroke-width="0.4" />
<line x1="150.50" y1="249.00" x2="151.50" y2="249.00" stroke="#666" stroke-width="0.4" />
<line x1="150.50" y1="254.20" x2="151.50" y2="254.20" stroke="#666" stroke-width="0.4" />
<line x1="150.50" y1="256.80" x2="151.50" y2="256.80" stroke="#666" stroke-width="0.4" />
<line x1="150.50" y1="259.40" x2="151.50" y2="259.40" stroke="#666" stroke-width="0.4" />
<line x1="150.50" y1="264.60" x2="151.50" y2="264.60" stroke="#666" stroke-width="0.4" />
<line x1="150.50" y1="267.20" x2="151.50" y2="267.20" stroke="#666" stroke-width="0.4" />
<line x1="150.50" y1="269.80" x2="151.50" y2="269.80" stroke="#666" stroke-width="0.4" />
<line x1="150.50" y1="275.00" x2="151.50" y2="275.00" stroke="#666" stroke-width="0.4" />
<line x1="150.50" y1="277.60" x2="151.50" y2="277.60" stroke="#666" stroke-width="0.4" />
<line x1="150.50" y1="280.20" x2="151.50" y2="280.20" stroke="#666" stroke-width="0.4" />
<line x1="177.10" y1="282.30" x2="177.10" y2="284.10" stroke="#333" stroke-width="0.6" />
<text x="176.90" y="288.70" font-size="4.1" text-anchor="middle" fill="#222" stroke="#222" stroke-width="0.1">10<tspan dy="-1.4" font-size="3.0">2</tspan></text>
<line x1="201.40" y1="282.30" x2="201.40" y2="284.10" stroke="#333" stroke-width="0.6" />
<text x="201.20" y="288.70" font-size="4.1" text-anchor="middle" fill="#222" stroke="#222" stroke-width="0.1">10<tspan dy="-1.4" font-size="3.0">3</tspan></text>
<line x1="225.00" y1="282.30" x2="225.00" y2="284.10" stroke="#333" stroke-width="0.6" />
<text x="224.80" y="288.70" font-size="4.1" text-anchor="middle" fill="#222" stroke="#222" stroke-width="0.1">10<tspan dy="-1.4" font-size="3.0">4</tspan></text>
<line x1="249.10" y1="282.30" x2="249.10" y2="284.10" stroke="#333" stroke-width="0.6" />
<text x="248.90" y="288.70" font-size="4.1" text-anchor="middle" fill="#222" stroke="#222" stroke-width="0.1">10<tspan dy="-1.4" font-size="3.0">5</tspan></text>
<line x1="160.12" y1="282.30" x2="160.12" y2="283.30" stroke="#666" stroke-width="0.4" />
<line x1="164.39" y1="282.30" x2="164.39" y2="283.30" stroke="#666" stroke-width="0.4" />
<line x1="167.43" y1="282.30" x2="167.43" y2="283.30" stroke="#666" stroke-width="0.4" />
<line x1="169.78" y1="282.30" x2="169.78" y2="283.30" stroke="#666" stroke-width="0.4" />
<line x1="171.71" y1="282.30" x2="171.71" y2="283.30" stroke="#666" stroke-width="0.4" />
<line x1="173.34" y1="282.30" x2="173.34" y2="283.30" stroke="#666" stroke-width="0.4" />
<line x1="174.75" y1="282.30" x2="174.75" y2="283.30" stroke="#666" stroke-width="0.4" />
<line x1="175.99" y1="282.30" x2="175.99" y2="283.30" stroke="#666" stroke-width="0.4" />
<line x1="184.42" y1="282.30" x2="184.42" y2="283.30" stroke="#666" stroke-width="0.4" />
<line x1="188.69" y1="282.30" x2="188.69" y2="283.30" stroke="#666" stroke-width="0.4" />
<line x1="191.73" y1="282.30" x2="191.73" y2="283.30" stroke="#666" stroke-width="0.4" />
<line x1="194.08" y1="282.30" x2="194.08" y2="283.30" stroke="#666" stroke-width="0.4" />
<line x1="196.01" y1="282.30" x2="196.01" y2="283.30" stroke="#666" stroke-width="0.4" />
<line x1="197.64" y1="282.30" x2="197.64" y2="283.30" stroke="#666" stroke-width="0.4" />
<line x1="199.05" y1="282.30" x2="199.05" y2="283.30" stroke="#666" stroke-width="0.4" />
<line x1="200.29" y1="282.30" x2="200.29" y2="283.30" stroke="#666" stroke-width="0.4" />
<line x1="208.02" y1="282.30" x2="208.02" y2="283.30" stroke="#666" stroke-width="0.4" />
<line x1="212.29" y1="282.30" x2="212.29" y2="283.30" stroke="#666" stroke-width="0.4" />
<line x1="215.33" y1="282.30" x2="215.33" y2="283.30" stroke="#666" stroke-width="0.4" />
<line x1="217.68" y1="282.30" x2="217.68" y2="283.30" stroke="#666" stroke-width="0.4" />
<line x1="219.61" y1="282.30" x2="219.61" y2="283.30" stroke="#666" stroke-width="0.4" />
<line x1="221.24" y1="282.30" x2="221.24" y2="283.30" stroke="#666" stroke-width="0.4" />
<line x1="222.65" y1="282.30" x2="222.65" y2="283.30" stroke="#666" stroke-width="0.4" />
<line x1="223.89" y1="282.30" x2="223.89" y2="283.30" stroke="#666" stroke-width="0.4" />
<line x1="232.12" y1="282.30" x2="232.12" y2="283.30" stroke="#666" stroke-width="0.4" />
<line x1="236.39" y1="282.30" x2="236.39" y2="283.30" stroke="#666" stroke-width="0.4" />
<line x1="239.43" y1="282.30" x2="239.43" y2="283.30" stroke="#666" stroke-width="0.4" />
<line x1="241.78" y1="282.30" x2="241.78" y2="283.30" stroke="#666" stroke-width="0.4" />
<line x1="243.71" y1="282.30" x2="243.71" y2="283.30" stroke="#666" stroke-width="0.4" />
<line x1="245.34" y1="282.30" x2="245.34" y2="283.30" stroke="#666" stroke-width="0.4" />
<line x1="246.75" y1="282.30" x2="246.75" y2="283.30" stroke="#666" stroke-width="0.4" />
<line x1="247.99" y1="282.30" x2="247.99" y2="283.30" stroke="#666" stroke-width="0.4" />
<text x="197.50" y="175.20" font-size="8.4" text-anchor="middle" fill="#000" font-weight="bold" stroke="#000" stroke-width="0.3" >day 1</text>
<text x="156.50" y="193.15" font-size="7.15" text-anchor="start" fill="#2a2a2a" stroke="#2a2a2a" stroke-width="0.12" >16.3 %</text>
<text x="246.70" y="193.15" font-size="7.15" text-anchor="end" fill="#2a2a2a" font-weight="bold" stroke="#2a2a2a" stroke-width="0.3" >59.2 %</text>
<text x="246.20" y="278.10" font-size="7.15" text-anchor="end" fill="#2a2a2a" stroke="#2a2a2a" stroke-width="0.12" >12.7 %</text>
<rect x="282.70" y="183.80" width="97.90" height="98.50" fill="none" stroke="#555" stroke-width="0.75"/>
<line x1="313.90" y1="183.80" x2="313.90" y2="282.30" stroke="#3a3a3a" stroke-width="0.9" />
<line x1="282.70" y1="254.40" x2="380.60" y2="254.40" stroke="#3a3a3a" stroke-width="0.9" />
<line x1="280.90" y1="183.80" x2="282.70" y2="183.80" stroke="#333" stroke-width="0.6" />
<text x="279.90" y="185.10" font-size="4.1" text-anchor="end" fill="#222" stroke="#222" stroke-width="0.1">10<tspan dy="-1.4" font-size="3.0">5</tspan></text>
<line x1="280.90" y1="206.00" x2="282.70" y2="206.00" stroke="#333" stroke-width="0.6" />
<text x="279.90" y="207.30" font-size="4.1" text-anchor="end" fill="#222" stroke="#222" stroke-width="0.1">10<tspan dy="-1.4" font-size="3.0">4</tspan></text>
<line x1="280.90" y1="230.40" x2="282.70" y2="230.40" stroke="#333" stroke-width="0.6" />
<text x="279.90" y="231.70" font-size="4.1" text-anchor="end" fill="#222" stroke="#222" stroke-width="0.1">10<tspan dy="-1.4" font-size="3.0">3</tspan></text>
<line x1="280.90" y1="250.60" x2="282.70" y2="250.60" stroke="#333" stroke-width="0.6" />
<text x="279.90" y="251.90" font-size="4.2" text-anchor="end" fill="#222" stroke="#222" stroke-width="0.1">2</text>
<line x1="280.90" y1="262.00" x2="282.70" y2="262.00" stroke="#333" stroke-width="0.6" />
<text x="279.90" y="263.30" font-size="4.2" text-anchor="end" fill="#222" stroke="#222" stroke-width="0.1">0</text>
<line x1="280.90" y1="272.70" x2="282.70" y2="272.70" stroke="#333" stroke-width="0.6" />
<text x="279.90" y="274.00" font-size="4.2" text-anchor="end" fill="#222" stroke="#222" stroke-width="0.1">-2</text>
<line x1="281.70" y1="199.32" x2="282.70" y2="199.32" stroke="#666" stroke-width="0.4" />
<line x1="281.70" y1="195.41" x2="282.70" y2="195.41" stroke="#666" stroke-width="0.4" />
<line x1="281.70" y1="192.63" x2="282.70" y2="192.63" stroke="#666" stroke-width="0.4" />
<line x1="281.70" y1="190.48" x2="282.70" y2="190.48" stroke="#666" stroke-width="0.4" />
<line x1="281.70" y1="188.73" x2="282.70" y2="188.73" stroke="#666" stroke-width="0.4" />
<line x1="281.70" y1="187.24" x2="282.70" y2="187.24" stroke="#666" stroke-width="0.4" />
<line x1="281.70" y1="185.95" x2="282.70" y2="185.95" stroke="#666" stroke-width="0.4" />
<line x1="281.70" y1="184.82" x2="282.70" y2="184.82" stroke="#666" stroke-width="0.4" />
<line x1="281.70" y1="223.05" x2="282.70" y2="223.05" stroke="#666" stroke-width="0.4" />
<line x1="281.70" y1="218.76" x2="282.70" y2="218.76" stroke="#666" stroke-width="0.4" />
<line x1="281.70" y1="215.71" x2="282.70" y2="215.71" stroke="#666" stroke-width="0.4" />
<line x1="281.70" y1="213.35" x2="282.70" y2="213.35" stroke="#666" stroke-width="0.4" />
<line x1="281.70" y1="211.41" x2="282.70" y2="211.41" stroke="#666" stroke-width="0.4" />
<line x1="281.70" y1="209.78" x2="282.70" y2="209.78" stroke="#666" stroke-width="0.4" />
<line x1="281.70" y1="208.36" x2="282.70" y2="208.36" stroke="#666" stroke-width="0.4" />
<line x1="281.70" y1="207.12" x2="282.70" y2="207.12" stroke="#666" stroke-width="0.4" />
<line x1="281.70" y1="233.40" x2="282.70" y2="233.40" stroke="#666" stroke-width="0.4" />
<line x1="281.70" y1="236.00" x2="282.70" y2="236.00" stroke="#666" stroke-width="0.4" />
<line x1="281.70" y1="238.60" x2="282.70" y2="238.60" stroke="#666" stroke-width="0.4" />
<line x1="281.70" y1="241.20" x2="282.70" y2="241.20" stroke="#666" stroke-width="0.4" />
<line x1="281.70" y1="243.80" x2="282.70" y2="243.80" stroke="#666" stroke-width="0.4" />
<line x1="281.70" y1="246.40" x2="282.70" y2="246.40" stroke="#666" stroke-width="0.4" />
<line x1="281.70" y1="249.00" x2="282.70" y2="249.00" stroke="#666" stroke-width="0.4" />
<line x1="281.70" y1="254.20" x2="282.70" y2="254.20" stroke="#666" stroke-width="0.4" />
<line x1="281.70" y1="256.80" x2="282.70" y2="256.80" stroke="#666" stroke-width="0.4" />
<line x1="281.70" y1="259.40" x2="282.70" y2="259.40" stroke="#666" stroke-width="0.4" />
<line x1="281.70" y1="264.60" x2="282.70" y2="264.60" stroke="#666" stroke-width="0.4" />
<line x1="281.70" y1="267.20" x2="282.70" y2="267.20" stroke="#666" stroke-width="0.4" />
<line x1="281.70" y1="269.80" x2="282.70" y2="269.80" stroke="#666" stroke-width="0.4" />
<line x1="281.70" y1="275.00" x2="282.70" y2="275.00" stroke="#666" stroke-width="0.4" />
<line x1="281.70" y1="277.60" x2="282.70" y2="277.60" stroke="#666" stroke-width="0.4" />
<line x1="281.70" y1="280.20" x2="282.70" y2="280.20" stroke="#666" stroke-width="0.4" />
<line x1="308.30" y1="282.30" x2="308.30" y2="284.10" stroke="#333" stroke-width="0.6" />
<text x="308.10" y="288.70" font-size="4.1" text-anchor="middle" fill="#222" stroke="#222" stroke-width="0.1">10<tspan dy="-1.4" font-size="3.0">2</tspan></text>
<line x1="332.60" y1="282.30" x2="332.60" y2="284.10" stroke="#333" stroke-width="0.6" />
<text x="332.40" y="288.70" font-size="4.1" text-anchor="middle" fill="#222" stroke="#222" stroke-width="0.1">10<tspan dy="-1.4" font-size="3.0">3</tspan></text>
<line x1="356.20" y1="282.30" x2="356.20" y2="284.10" stroke="#333" stroke-width="0.6" />
<text x="356.00" y="288.70" font-size="4.1" text-anchor="middle" fill="#222" stroke="#222" stroke-width="0.1">10<tspan dy="-1.4" font-size="3.0">4</tspan></text>
<line x1="380.30" y1="282.30" x2="380.30" y2="284.10" stroke="#333" stroke-width="0.6" />
<text x="380.10" y="288.70" font-size="4.1" text-anchor="middle" fill="#222" stroke="#222" stroke-width="0.1">10<tspan dy="-1.4" font-size="3.0">5</tspan></text>
<line x1="291.32" y1="282.30" x2="291.32" y2="283.30" stroke="#666" stroke-width="0.4" />
<line x1="295.59" y1="282.30" x2="295.59" y2="283.30" stroke="#666" stroke-width="0.4" />
<line x1="298.63" y1="282.30" x2="298.63" y2="283.30" stroke="#666" stroke-width="0.4" />
<line x1="300.98" y1="282.30" x2="300.98" y2="283.30" stroke="#666" stroke-width="0.4" />
<line x1="302.91" y1="282.30" x2="302.91" y2="283.30" stroke="#666" stroke-width="0.4" />
<line x1="304.54" y1="282.30" x2="304.54" y2="283.30" stroke="#666" stroke-width="0.4" />
<line x1="305.95" y1="282.30" x2="305.95" y2="283.30" stroke="#666" stroke-width="0.4" />
<line x1="307.19" y1="282.30" x2="307.19" y2="283.30" stroke="#666" stroke-width="0.4" />
<line x1="315.62" y1="282.30" x2="315.62" y2="283.30" stroke="#666" stroke-width="0.4" />
<line x1="319.89" y1="282.30" x2="319.89" y2="283.30" stroke="#666" stroke-width="0.4" />
<line x1="322.93" y1="282.30" x2="322.93" y2="283.30" stroke="#666" stroke-width="0.4" />
<line x1="325.28" y1="282.30" x2="325.28" y2="283.30" stroke="#666" stroke-width="0.4" />
<line x1="327.21" y1="282.30" x2="327.21" y2="283.30" stroke="#666" stroke-width="0.4" />
<line x1="328.84" y1="282.30" x2="328.84" y2="283.30" stroke="#666" stroke-width="0.4" />
<line x1="330.25" y1="282.30" x2="330.25" y2="283.30" stroke="#666" stroke-width="0.4" />
<line x1="331.49" y1="282.30" x2="331.49" y2="283.30" stroke="#666" stroke-width="0.4" />
<line x1="339.22" y1="282.30" x2="339.22" y2="283.30" stroke="#666" stroke-width="0.4" />
<line x1="343.49" y1="282.30" x2="343.49" y2="283.30" stroke="#666" stroke-width="0.4" />
<line x1="346.53" y1="282.30" x2="346.53" y2="283.30" stroke="#666" stroke-width="0.4" />
<line x1="348.88" y1="282.30" x2="348.88" y2="283.30" stroke="#666" stroke-width="0.4" />
<line x1="350.81" y1="282.30" x2="350.81" y2="283.30" stroke="#666" stroke-width="0.4" />
<line x1="352.44" y1="282.30" x2="352.44" y2="283.30" stroke="#666" stroke-width="0.4" />
<line x1="353.85" y1="282.30" x2="353.85" y2="283.30" stroke="#666" stroke-width="0.4" />
<line x1="355.09" y1="282.30" x2="355.09" y2="283.30" stroke="#666" stroke-width="0.4" />
<line x1="363.32" y1="282.30" x2="363.32" y2="283.30" stroke="#666" stroke-width="0.4" />
<line x1="367.59" y1="282.30" x2="367.59" y2="283.30" stroke="#666" stroke-width="0.4" />
<line x1="370.63" y1="282.30" x2="370.63" y2="283.30" stroke="#666" stroke-width="0.4" />
<line x1="372.98" y1="282.30" x2="372.98" y2="283.30" stroke="#666" stroke-width="0.4" />
<line x1="374.91" y1="282.30" x2="374.91" y2="283.30" stroke="#666" stroke-width="0.4" />
<line x1="376.54" y1="282.30" x2="376.54" y2="283.30" stroke="#666" stroke-width="0.4" />
<line x1="377.95" y1="282.30" x2="377.95" y2="283.30" stroke="#666" stroke-width="0.4" />
<line x1="379.19" y1="282.30" x2="379.19" y2="283.30" stroke="#666" stroke-width="0.4" />
<text x="328.70" y="175.20" font-size="8.4" text-anchor="middle" fill="#000" font-weight="bold" stroke="#000" stroke-width="0.3" >day 4</text>
<text x="287.70" y="193.15" font-size="7.15" text-anchor="start" fill="#2a2a2a" stroke="#2a2a2a" stroke-width="0.12" >3.5 %</text>
<text x="377.90" y="193.15" font-size="7.15" text-anchor="end" fill="#2a2a2a" font-weight="bold" stroke="#2a2a2a" stroke-width="0.3" >61.3 %</text>
<text x="377.40" y="278.10" font-size="7.15" text-anchor="end" fill="#2a2a2a" stroke="#2a2a2a" stroke-width="0.12" >27.0 %</text>
<rect x="413.10" y="183.80" width="97.90" height="98.50" fill="none" stroke="#555" stroke-width="0.75"/>
<line x1="444.30" y1="183.80" x2="444.30" y2="282.30" stroke="#3a3a3a" stroke-width="0.9" />
<line x1="413.10" y1="254.40" x2="511.00" y2="254.40" stroke="#3a3a3a" stroke-width="0.9" />
<line x1="411.30" y1="183.80" x2="413.10" y2="183.80" stroke="#333" stroke-width="0.6" />
<text x="410.30" y="185.10" font-size="4.1" text-anchor="end" fill="#222" stroke="#222" stroke-width="0.1">10<tspan dy="-1.4" font-size="3.0">5</tspan></text>
<line x1="411.30" y1="206.00" x2="413.10" y2="206.00" stroke="#333" stroke-width="0.6" />
<text x="410.30" y="207.30" font-size="4.1" text-anchor="end" fill="#222" stroke="#222" stroke-width="0.1">10<tspan dy="-1.4" font-size="3.0">4</tspan></text>
<line x1="411.30" y1="230.40" x2="413.10" y2="230.40" stroke="#333" stroke-width="0.6" />
<text x="410.30" y="231.70" font-size="4.1" text-anchor="end" fill="#222" stroke="#222" stroke-width="0.1">10<tspan dy="-1.4" font-size="3.0">3</tspan></text>
<line x1="411.30" y1="250.60" x2="413.10" y2="250.60" stroke="#333" stroke-width="0.6" />
<text x="410.30" y="251.90" font-size="4.2" text-anchor="end" fill="#222" stroke="#222" stroke-width="0.1">2</text>
<line x1="411.30" y1="262.00" x2="413.10" y2="262.00" stroke="#333" stroke-width="0.6" />
<text x="410.30" y="263.30" font-size="4.2" text-anchor="end" fill="#222" stroke="#222" stroke-width="0.1">0</text>
<line x1="411.30" y1="272.70" x2="413.10" y2="272.70" stroke="#333" stroke-width="0.6" />
<text x="410.30" y="274.00" font-size="4.2" text-anchor="end" fill="#222" stroke="#222" stroke-width="0.1">-2</text>
<line x1="412.10" y1="199.32" x2="413.10" y2="199.32" stroke="#666" stroke-width="0.4" />
<line x1="412.10" y1="195.41" x2="413.10" y2="195.41" stroke="#666" stroke-width="0.4" />
<line x1="412.10" y1="192.63" x2="413.10" y2="192.63" stroke="#666" stroke-width="0.4" />
<line x1="412.10" y1="190.48" x2="413.10" y2="190.48" stroke="#666" stroke-width="0.4" />
<line x1="412.10" y1="188.73" x2="413.10" y2="188.73" stroke="#666" stroke-width="0.4" />
<line x1="412.10" y1="187.24" x2="413.10" y2="187.24" stroke="#666" stroke-width="0.4" />
<line x1="412.10" y1="185.95" x2="413.10" y2="185.95" stroke="#666" stroke-width="0.4" />
<line x1="412.10" y1="184.82" x2="413.10" y2="184.82" stroke="#666" stroke-width="0.4" />
<line x1="412.10" y1="223.05" x2="413.10" y2="223.05" stroke="#666" stroke-width="0.4" />
<line x1="412.10" y1="218.76" x2="413.10" y2="218.76" stroke="#666" stroke-width="0.4" />
<line x1="412.10" y1="215.71" x2="413.10" y2="215.71" stroke="#666" stroke-width="0.4" />
<line x1="412.10" y1="213.35" x2="413.10" y2="213.35" stroke="#666" stroke-width="0.4" />
<line x1="412.10" y1="211.41" x2="413.10" y2="211.41" stroke="#666" stroke-width="0.4" />
<line x1="412.10" y1="209.78" x2="413.10" y2="209.78" stroke="#666" stroke-width="0.4" />
<line x1="412.10" y1="208.36" x2="413.10" y2="208.36" stroke="#666" stroke-width="0.4" />
<line x1="412.10" y1="207.12" x2="413.10" y2="207.12" stroke="#666" stroke-width="0.4" />
<line x1="412.10" y1="233.40" x2="413.10" y2="233.40" stroke="#666" stroke-width="0.4" />
<line x1="412.10" y1="236.00" x2="413.10" y2="236.00" stroke="#666" stroke-width="0.4" />
<line x1="412.10" y1="238.60" x2="413.10" y2="238.60" stroke="#666" stroke-width="0.4" />
<line x1="412.10" y1="241.20" x2="413.10" y2="241.20" stroke="#666" stroke-width="0.4" />
<line x1="412.10" y1="243.80" x2="413.10" y2="243.80" stroke="#666" stroke-width="0.4" />
<line x1="412.10" y1="246.40" x2="413.10" y2="246.40" stroke="#666" stroke-width="0.4" />
<line x1="412.10" y1="249.00" x2="413.10" y2="249.00" stroke="#666" stroke-width="0.4" />
<line x1="412.10" y1="254.20" x2="413.10" y2="254.20" stroke="#666" stroke-width="0.4" />
<line x1="412.10" y1="256.80" x2="413.10" y2="256.80" stroke="#666" stroke-width="0.4" />
<line x1="412.10" y1="259.40" x2="413.10" y2="259.40" stroke="#666" stroke-width="0.4" />
<line x1="412.10" y1="264.60" x2="413.10" y2="264.60" stroke="#666" stroke-width="0.4" />
<line x1="412.10" y1="267.20" x2="413.10" y2="267.20" stroke="#666" stroke-width="0.4" />
<line x1="412.10" y1="269.80" x2="413.10" y2="269.80" stroke="#666" stroke-width="0.4" />
<line x1="412.10" y1="275.00" x2="413.10" y2="275.00" stroke="#666" stroke-width="0.4" />
<line x1="412.10" y1="277.60" x2="413.10" y2="277.60" stroke="#666" stroke-width="0.4" />
<line x1="412.10" y1="280.20" x2="413.10" y2="280.20" stroke="#666" stroke-width="0.4" />
<line x1="438.70" y1="282.30" x2="438.70" y2="284.10" stroke="#333" stroke-width="0.6" />
<text x="438.50" y="288.70" font-size="4.1" text-anchor="middle" fill="#222" stroke="#222" stroke-width="0.1">10<tspan dy="-1.4" font-size="3.0">2</tspan></text>
<line x1="463.00" y1="282.30" x2="463.00" y2="284.10" stroke="#333" stroke-width="0.6" />
<text x="462.80" y="288.70" font-size="4.1" text-anchor="middle" fill="#222" stroke="#222" stroke-width="0.1">10<tspan dy="-1.4" font-size="3.0">3</tspan></text>
<line x1="486.60" y1="282.30" x2="486.60" y2="284.10" stroke="#333" stroke-width="0.6" />
<text x="486.40" y="288.70" font-size="4.1" text-anchor="middle" fill="#222" stroke="#222" stroke-width="0.1">10<tspan dy="-1.4" font-size="3.0">4</tspan></text>
<line x1="510.70" y1="282.30" x2="510.70" y2="284.10" stroke="#333" stroke-width="0.6" />
<text x="510.50" y="288.70" font-size="4.1" text-anchor="middle" fill="#222" stroke="#222" stroke-width="0.1">10<tspan dy="-1.4" font-size="3.0">5</tspan></text>
<line x1="421.72" y1="282.30" x2="421.72" y2="283.30" stroke="#666" stroke-width="0.4" />
<line x1="425.99" y1="282.30" x2="425.99" y2="283.30" stroke="#666" stroke-width="0.4" />
<line x1="429.03" y1="282.30" x2="429.03" y2="283.30" stroke="#666" stroke-width="0.4" />
<line x1="431.38" y1="282.30" x2="431.38" y2="283.30" stroke="#666" stroke-width="0.4" />
<line x1="433.31" y1="282.30" x2="433.31" y2="283.30" stroke="#666" stroke-width="0.4" />
<line x1="434.94" y1="282.30" x2="434.94" y2="283.30" stroke="#666" stroke-width="0.4" />
<line x1="436.35" y1="282.30" x2="436.35" y2="283.30" stroke="#666" stroke-width="0.4" />
<line x1="437.59" y1="282.30" x2="437.59" y2="283.30" stroke="#666" stroke-width="0.4" />
<line x1="446.02" y1="282.30" x2="446.02" y2="283.30" stroke="#666" stroke-width="0.4" />
<line x1="450.29" y1="282.30" x2="450.29" y2="283.30" stroke="#666" stroke-width="0.4" />
<line x1="453.33" y1="282.30" x2="453.33" y2="283.30" stroke="#666" stroke-width="0.4" />
<line x1="455.68" y1="282.30" x2="455.68" y2="283.30" stroke="#666" stroke-width="0.4" />
<line x1="457.61" y1="282.30" x2="457.61" y2="283.30" stroke="#666" stroke-width="0.4" />
<line x1="459.24" y1="282.30" x2="459.24" y2="283.30" stroke="#666" stroke-width="0.4" />
<line x1="460.65" y1="282.30" x2="460.65" y2="283.30" stroke="#666" stroke-width="0.4" />
<line x1="461.89" y1="282.30" x2="461.89" y2="283.30" stroke="#666" stroke-width="0.4" />
<line x1="469.62" y1="282.30" x2="469.62" y2="283.30" stroke="#666" stroke-width="0.4" />
<line x1="473.89" y1="282.30" x2="473.89" y2="283.30" stroke="#666" stroke-width="0.4" />
<line x1="476.93" y1="282.30" x2="476.93" y2="283.30" stroke="#666" stroke-width="0.4" />
<line x1="479.28" y1="282.30" x2="479.28" y2="283.30" stroke="#666" stroke-width="0.4" />
<line x1="481.21" y1="282.30" x2="481.21" y2="283.30" stroke="#666" stroke-width="0.4" />
<line x1="482.84" y1="282.30" x2="482.84" y2="283.30" stroke="#666" stroke-width="0.4" />
<line x1="484.25" y1="282.30" x2="484.25" y2="283.30" stroke="#666" stroke-width="0.4" />
<line x1="485.49" y1="282.30" x2="485.49" y2="283.30" stroke="#666" stroke-width="0.4" />
<line x1="493.72" y1="282.30" x2="493.72" y2="283.30" stroke="#666" stroke-width="0.4" />
<line x1="497.99" y1="282.30" x2="497.99" y2="283.30" stroke="#666" stroke-width="0.4" />
<line x1="501.03" y1="282.30" x2="501.03" y2="283.30" stroke="#666" stroke-width="0.4" />
<line x1="503.38" y1="282.30" x2="503.38" y2="283.30" stroke="#666" stroke-width="0.4" />
<line x1="505.31" y1="282.30" x2="505.31" y2="283.30" stroke="#666" stroke-width="0.4" />
<line x1="506.94" y1="282.30" x2="506.94" y2="283.30" stroke="#666" stroke-width="0.4" />
<line x1="508.35" y1="282.30" x2="508.35" y2="283.30" stroke="#666" stroke-width="0.4" />
<line x1="509.59" y1="282.30" x2="509.59" y2="283.30" stroke="#666" stroke-width="0.4" />
<text x="459.10" y="175.20" font-size="8.4" text-anchor="middle" fill="#000" font-weight="bold" stroke="#000" stroke-width="0.3" >day 7</text>
<text x="418.10" y="193.15" font-size="7.15" text-anchor="start" fill="#2a2a2a" stroke="#2a2a2a" stroke-width="0.12" >11.1 %</text>
<text x="508.30" y="193.15" font-size="7.15" text-anchor="end" fill="#2a2a2a" font-weight="bold" stroke="#2a2a2a" stroke-width="0.3" >66.7 %</text>
<text x="507.80" y="278.10" font-size="7.15" text-anchor="end" fill="#2a2a2a" stroke="#2a2a2a" stroke-width="0.12" >14.4 %</text>
<rect x="151.50" y="315.10" width="97.90" height="98.60" fill="none" stroke="#555" stroke-width="0.75"/>
<line x1="183.30" y1="315.10" x2="183.30" y2="413.70" stroke="#3a3a3a" stroke-width="0.9" />
<line x1="151.50" y1="385.80" x2="249.40" y2="385.80" stroke="#3a3a3a" stroke-width="0.9" />
<line x1="149.70" y1="315.10" x2="151.50" y2="315.10" stroke="#333" stroke-width="0.6" />
<text x="148.70" y="316.40" font-size="4.1" text-anchor="end" fill="#222" stroke="#222" stroke-width="0.1">10<tspan dy="-1.4" font-size="3.0">5</tspan></text>
<line x1="149.70" y1="337.30" x2="151.50" y2="337.30" stroke="#333" stroke-width="0.6" />
<text x="148.70" y="338.60" font-size="4.1" text-anchor="end" fill="#222" stroke="#222" stroke-width="0.1">10<tspan dy="-1.4" font-size="3.0">4</tspan></text>
<line x1="149.70" y1="361.70" x2="151.50" y2="361.70" stroke="#333" stroke-width="0.6" />
<text x="148.70" y="363.00" font-size="4.1" text-anchor="end" fill="#222" stroke="#222" stroke-width="0.1">10<tspan dy="-1.4" font-size="3.0">3</tspan></text>
<line x1="149.70" y1="382.00" x2="151.50" y2="382.00" stroke="#333" stroke-width="0.6" />
<text x="148.70" y="383.30" font-size="4.2" text-anchor="end" fill="#222" stroke="#222" stroke-width="0.1">2</text>
<line x1="149.70" y1="393.10" x2="151.50" y2="393.10" stroke="#333" stroke-width="0.6" />
<text x="148.70" y="394.40" font-size="4.2" text-anchor="end" fill="#222" stroke="#222" stroke-width="0.1">0</text>
<line x1="149.70" y1="404.30" x2="151.50" y2="404.30" stroke="#333" stroke-width="0.6" />
<text x="148.70" y="405.60" font-size="4.2" text-anchor="end" fill="#222" stroke="#222" stroke-width="0.1">-2</text>
<line x1="150.50" y1="330.62" x2="151.50" y2="330.62" stroke="#666" stroke-width="0.4" />
<line x1="150.50" y1="326.71" x2="151.50" y2="326.71" stroke="#666" stroke-width="0.4" />
<line x1="150.50" y1="323.93" x2="151.50" y2="323.93" stroke="#666" stroke-width="0.4" />
<line x1="150.50" y1="321.78" x2="151.50" y2="321.78" stroke="#666" stroke-width="0.4" />
<line x1="150.50" y1="320.03" x2="151.50" y2="320.03" stroke="#666" stroke-width="0.4" />
<line x1="150.50" y1="318.54" x2="151.50" y2="318.54" stroke="#666" stroke-width="0.4" />
<line x1="150.50" y1="317.25" x2="151.50" y2="317.25" stroke="#666" stroke-width="0.4" />
<line x1="150.50" y1="316.12" x2="151.50" y2="316.12" stroke="#666" stroke-width="0.4" />
<line x1="150.50" y1="354.35" x2="151.50" y2="354.35" stroke="#666" stroke-width="0.4" />
<line x1="150.50" y1="350.06" x2="151.50" y2="350.06" stroke="#666" stroke-width="0.4" />
<line x1="150.50" y1="347.01" x2="151.50" y2="347.01" stroke="#666" stroke-width="0.4" />
<line x1="150.50" y1="344.65" x2="151.50" y2="344.65" stroke="#666" stroke-width="0.4" />
<line x1="150.50" y1="342.71" x2="151.50" y2="342.71" stroke="#666" stroke-width="0.4" />
<line x1="150.50" y1="341.08" x2="151.50" y2="341.08" stroke="#666" stroke-width="0.4" />
<line x1="150.50" y1="339.66" x2="151.50" y2="339.66" stroke="#666" stroke-width="0.4" />
<line x1="150.50" y1="338.42" x2="151.50" y2="338.42" stroke="#666" stroke-width="0.4" />
<line x1="150.50" y1="364.70" x2="151.50" y2="364.70" stroke="#666" stroke-width="0.4" />
<line x1="150.50" y1="367.30" x2="151.50" y2="367.30" stroke="#666" stroke-width="0.4" />
<line x1="150.50" y1="369.90" x2="151.50" y2="369.90" stroke="#666" stroke-width="0.4" />
<line x1="150.50" y1="372.50" x2="151.50" y2="372.50" stroke="#666" stroke-width="0.4" />
<line x1="150.50" y1="375.10" x2="151.50" y2="375.10" stroke="#666" stroke-width="0.4" />
<line x1="150.50" y1="377.70" x2="151.50" y2="377.70" stroke="#666" stroke-width="0.4" />
<line x1="150.50" y1="380.30" x2="151.50" y2="380.30" stroke="#666" stroke-width="0.4" />
<line x1="150.50" y1="385.50" x2="151.50" y2="385.50" stroke="#666" stroke-width="0.4" />
<line x1="150.50" y1="388.10" x2="151.50" y2="388.10" stroke="#666" stroke-width="0.4" />
<line x1="150.50" y1="390.70" x2="151.50" y2="390.70" stroke="#666" stroke-width="0.4" />
<line x1="150.50" y1="395.90" x2="151.50" y2="395.90" stroke="#666" stroke-width="0.4" />
<line x1="150.50" y1="398.50" x2="151.50" y2="398.50" stroke="#666" stroke-width="0.4" />
<line x1="150.50" y1="401.10" x2="151.50" y2="401.10" stroke="#666" stroke-width="0.4" />
<line x1="150.50" y1="406.30" x2="151.50" y2="406.30" stroke="#666" stroke-width="0.4" />
<line x1="150.50" y1="408.90" x2="151.50" y2="408.90" stroke="#666" stroke-width="0.4" />
<line x1="150.50" y1="411.50" x2="151.50" y2="411.50" stroke="#666" stroke-width="0.4" />
<line x1="177.10" y1="413.70" x2="177.10" y2="415.50" stroke="#333" stroke-width="0.6" />
<text x="176.90" y="420.10" font-size="4.1" text-anchor="middle" fill="#222" stroke="#222" stroke-width="0.1">10<tspan dy="-1.4" font-size="3.0">2</tspan></text>
<line x1="201.40" y1="413.70" x2="201.40" y2="415.50" stroke="#333" stroke-width="0.6" />
<text x="201.20" y="420.10" font-size="4.1" text-anchor="middle" fill="#222" stroke="#222" stroke-width="0.1">10<tspan dy="-1.4" font-size="3.0">3</tspan></text>
<line x1="225.00" y1="413.70" x2="225.00" y2="415.50" stroke="#333" stroke-width="0.6" />
<text x="224.80" y="420.10" font-size="4.1" text-anchor="middle" fill="#222" stroke="#222" stroke-width="0.1">10<tspan dy="-1.4" font-size="3.0">4</tspan></text>
<line x1="249.10" y1="413.70" x2="249.10" y2="415.50" stroke="#333" stroke-width="0.6" />
<text x="248.90" y="420.10" font-size="4.1" text-anchor="middle" fill="#222" stroke="#222" stroke-width="0.1">10<tspan dy="-1.4" font-size="3.0">5</tspan></text>
<line x1="160.12" y1="413.70" x2="160.12" y2="414.70" stroke="#666" stroke-width="0.4" />
<line x1="164.39" y1="413.70" x2="164.39" y2="414.70" stroke="#666" stroke-width="0.4" />
<line x1="167.43" y1="413.70" x2="167.43" y2="414.70" stroke="#666" stroke-width="0.4" />
<line x1="169.78" y1="413.70" x2="169.78" y2="414.70" stroke="#666" stroke-width="0.4" />
<line x1="171.71" y1="413.70" x2="171.71" y2="414.70" stroke="#666" stroke-width="0.4" />
<line x1="173.34" y1="413.70" x2="173.34" y2="414.70" stroke="#666" stroke-width="0.4" />
<line x1="174.75" y1="413.70" x2="174.75" y2="414.70" stroke="#666" stroke-width="0.4" />
<line x1="175.99" y1="413.70" x2="175.99" y2="414.70" stroke="#666" stroke-width="0.4" />
<line x1="184.42" y1="413.70" x2="184.42" y2="414.70" stroke="#666" stroke-width="0.4" />
<line x1="188.69" y1="413.70" x2="188.69" y2="414.70" stroke="#666" stroke-width="0.4" />
<line x1="191.73" y1="413.70" x2="191.73" y2="414.70" stroke="#666" stroke-width="0.4" />
<line x1="194.08" y1="413.70" x2="194.08" y2="414.70" stroke="#666" stroke-width="0.4" />
<line x1="196.01" y1="413.70" x2="196.01" y2="414.70" stroke="#666" stroke-width="0.4" />
<line x1="197.64" y1="413.70" x2="197.64" y2="414.70" stroke="#666" stroke-width="0.4" />
<line x1="199.05" y1="413.70" x2="199.05" y2="414.70" stroke="#666" stroke-width="0.4" />
<line x1="200.29" y1="413.70" x2="200.29" y2="414.70" stroke="#666" stroke-width="0.4" />
<line x1="208.02" y1="413.70" x2="208.02" y2="414.70" stroke="#666" stroke-width="0.4" />
<line x1="212.29" y1="413.70" x2="212.29" y2="414.70" stroke="#666" stroke-width="0.4" />
<line x1="215.33" y1="413.70" x2="215.33" y2="414.70" stroke="#666" stroke-width="0.4" />
<line x1="217.68" y1="413.70" x2="217.68" y2="414.70" stroke="#666" stroke-width="0.4" />
<line x1="219.61" y1="413.70" x2="219.61" y2="414.70" stroke="#666" stroke-width="0.4" />
<line x1="221.24" y1="413.70" x2="221.24" y2="414.70" stroke="#666" stroke-width="0.4" />
<line x1="222.65" y1="413.70" x2="222.65" y2="414.70" stroke="#666" stroke-width="0.4" />
<line x1="223.89" y1="413.70" x2="223.89" y2="414.70" stroke="#666" stroke-width="0.4" />
<line x1="232.12" y1="413.70" x2="232.12" y2="414.70" stroke="#666" stroke-width="0.4" />
<line x1="236.39" y1="413.70" x2="236.39" y2="414.70" stroke="#666" stroke-width="0.4" />
<line x1="239.43" y1="413.70" x2="239.43" y2="414.70" stroke="#666" stroke-width="0.4" />
<line x1="241.78" y1="413.70" x2="241.78" y2="414.70" stroke="#666" stroke-width="0.4" />
<line x1="243.71" y1="413.70" x2="243.71" y2="414.70" stroke="#666" stroke-width="0.4" />
<line x1="245.34" y1="413.70" x2="245.34" y2="414.70" stroke="#666" stroke-width="0.4" />
<line x1="246.75" y1="413.70" x2="246.75" y2="414.70" stroke="#666" stroke-width="0.4" />
<line x1="247.99" y1="413.70" x2="247.99" y2="414.70" stroke="#666" stroke-width="0.4" />
<text x="156.50" y="324.55" font-size="7.15" text-anchor="start" fill="#2a2a2a" stroke="#2a2a2a" stroke-width="0.12" >21.3 %</text>
<text x="246.70" y="324.55" font-size="7.15" text-anchor="end" fill="#2a2a2a" font-weight="bold" stroke="#2a2a2a" stroke-width="0.3" >31.4 %</text>
<text x="246.20" y="409.60" font-size="7.15" text-anchor="end" fill="#2a2a2a" stroke="#2a2a2a" stroke-width="0.12" >13.2 %</text>
<rect x="282.70" y="315.10" width="97.90" height="98.60" fill="none" stroke="#555" stroke-width="0.75"/>
<line x1="313.90" y1="315.10" x2="313.90" y2="413.70" stroke="#3a3a3a" stroke-width="0.9" />
<line x1="282.70" y1="385.80" x2="380.60" y2="385.80" stroke="#3a3a3a" stroke-width="0.9" />
<line x1="280.90" y1="315.10" x2="282.70" y2="315.10" stroke="#333" stroke-width="0.6" />
<text x="279.90" y="316.40" font-size="4.1" text-anchor="end" fill="#222" stroke="#222" stroke-width="0.1">10<tspan dy="-1.4" font-size="3.0">5</tspan></text>
<line x1="280.90" y1="337.30" x2="282.70" y2="337.30" stroke="#333" stroke-width="0.6" />
<text x="279.90" y="338.60" font-size="4.1" text-anchor="end" fill="#222" stroke="#222" stroke-width="0.1">10<tspan dy="-1.4" font-size="3.0">4</tspan></text>
<line x1="280.90" y1="361.70" x2="282.70" y2="361.70" stroke="#333" stroke-width="0.6" />
<text x="279.90" y="363.00" font-size="4.1" text-anchor="end" fill="#222" stroke="#222" stroke-width="0.1">10<tspan dy="-1.4" font-size="3.0">3</tspan></text>
<line x1="280.90" y1="382.00" x2="282.70" y2="382.00" stroke="#333" stroke-width="0.6" />
<text x="279.90" y="383.30" font-size="4.2" text-anchor="end" fill="#222" stroke="#222" stroke-width="0.1">2</text>
<line x1="280.90" y1="393.10" x2="282.70" y2="393.10" stroke="#333" stroke-width="0.6" />
<text x="279.90" y="394.40" font-size="4.2" text-anchor="end" fill="#222" stroke="#222" stroke-width="0.1">0</text>
<line x1="280.90" y1="404.30" x2="282.70" y2="404.30" stroke="#333" stroke-width="0.6" />
<text x="279.90" y="405.60" font-size="4.2" text-anchor="end" fill="#222" stroke="#222" stroke-width="0.1">-2</text>
<line x1="281.70" y1="330.62" x2="282.70" y2="330.62" stroke="#666" stroke-width="0.4" />
<line x1="281.70" y1="326.71" x2="282.70" y2="326.71" stroke="#666" stroke-width="0.4" />
<line x1="281.70" y1="323.93" x2="282.70" y2="323.93" stroke="#666" stroke-width="0.4" />
<line x1="281.70" y1="321.78" x2="282.70" y2="321.78" stroke="#666" stroke-width="0.4" />
<line x1="281.70" y1="320.03" x2="282.70" y2="320.03" stroke="#666" stroke-width="0.4" />
<line x1="281.70" y1="318.54" x2="282.70" y2="318.54" stroke="#666" stroke-width="0.4" />
<line x1="281.70" y1="317.25" x2="282.70" y2="317.25" stroke="#666" stroke-width="0.4" />
<line x1="281.70" y1="316.12" x2="282.70" y2="316.12" stroke="#666" stroke-width="0.4" />
<line x1="281.70" y1="354.35" x2="282.70" y2="354.35" stroke="#666" stroke-width="0.4" />
<line x1="281.70" y1="350.06" x2="282.70" y2="350.06" stroke="#666" stroke-width="0.4" />
<line x1="281.70" y1="347.01" x2="282.70" y2="347.01" stroke="#666" stroke-width="0.4" />
<line x1="281.70" y1="344.65" x2="282.70" y2="344.65" stroke="#666" stroke-width="0.4" />
<line x1="281.70" y1="342.71" x2="282.70" y2="342.71" stroke="#666" stroke-width="0.4" />
<line x1="281.70" y1="341.08" x2="282.70" y2="341.08" stroke="#666" stroke-width="0.4" />
<line x1="281.70" y1="339.66" x2="282.70" y2="339.66" stroke="#666" stroke-width="0.4" />
<line x1="281.70" y1="338.42" x2="282.70" y2="338.42" stroke="#666" stroke-width="0.4" />
<line x1="281.70" y1="364.70" x2="282.70" y2="364.70" stroke="#666" stroke-width="0.4" />
<line x1="281.70" y1="367.30" x2="282.70" y2="367.30" stroke="#666" stroke-width="0.4" />
<line x1="281.70" y1="369.90" x2="282.70" y2="369.90" stroke="#666" stroke-width="0.4" />
<line x1="281.70" y1="372.50" x2="282.70" y2="372.50" stroke="#666" stroke-width="0.4" />
<line x1="281.70" y1="375.10" x2="282.70" y2="375.10" stroke="#666" stroke-width="0.4" />
<line x1="281.70" y1="377.70" x2="282.70" y2="377.70" stroke="#666" stroke-width="0.4" />
<line x1="281.70" y1="380.30" x2="282.70" y2="380.30" stroke="#666" stroke-width="0.4" />
<line x1="281.70" y1="385.50" x2="282.70" y2="385.50" stroke="#666" stroke-width="0.4" />
<line x1="281.70" y1="388.10" x2="282.70" y2="388.10" stroke="#666" stroke-width="0.4" />
<line x1="281.70" y1="390.70" x2="282.70" y2="390.70" stroke="#666" stroke-width="0.4" />
<line x1="281.70" y1="395.90" x2="282.70" y2="395.90" stroke="#666" stroke-width="0.4" />
<line x1="281.70" y1="398.50" x2="282.70" y2="398.50" stroke="#666" stroke-width="0.4" />
<line x1="281.70" y1="401.10" x2="282.70" y2="401.10" stroke="#666" stroke-width="0.4" />
<line x1="281.70" y1="406.30" x2="282.70" y2="406.30" stroke="#666" stroke-width="0.4" />
<line x1="281.70" y1="408.90" x2="282.70" y2="408.90" stroke="#666" stroke-width="0.4" />
<line x1="281.70" y1="411.50" x2="282.70" y2="411.50" stroke="#666" stroke-width="0.4" />
<line x1="308.30" y1="413.70" x2="308.30" y2="415.50" stroke="#333" stroke-width="0.6" />
<text x="308.10" y="420.10" font-size="4.1" text-anchor="middle" fill="#222" stroke="#222" stroke-width="0.1">10<tspan dy="-1.4" font-size="3.0">2</tspan></text>
<line x1="332.60" y1="413.70" x2="332.60" y2="415.50" stroke="#333" stroke-width="0.6" />
<text x="332.40" y="420.10" font-size="4.1" text-anchor="middle" fill="#222" stroke="#222" stroke-width="0.1">10<tspan dy="-1.4" font-size="3.0">3</tspan></text>
<line x1="356.20" y1="413.70" x2="356.20" y2="415.50" stroke="#333" stroke-width="0.6" />
<text x="356.00" y="420.10" font-size="4.1" text-anchor="middle" fill="#222" stroke="#222" stroke-width="0.1">10<tspan dy="-1.4" font-size="3.0">4</tspan></text>
<line x1="380.30" y1="413.70" x2="380.30" y2="415.50" stroke="#333" stroke-width="0.6" />
<text x="380.10" y="420.10" font-size="4.1" text-anchor="middle" fill="#222" stroke="#222" stroke-width="0.1">10<tspan dy="-1.4" font-size="3.0">5</tspan></text>
<line x1="291.32" y1="413.70" x2="291.32" y2="414.70" stroke="#666" stroke-width="0.4" />
<line x1="295.59" y1="413.70" x2="295.59" y2="414.70" stroke="#666" stroke-width="0.4" />
<line x1="298.63" y1="413.70" x2="298.63" y2="414.70" stroke="#666" stroke-width="0.4" />
<line x1="300.98" y1="413.70" x2="300.98" y2="414.70" stroke="#666" stroke-width="0.4" />
<line x1="302.91" y1="413.70" x2="302.91" y2="414.70" stroke="#666" stroke-width="0.4" />
<line x1="304.54" y1="413.70" x2="304.54" y2="414.70" stroke="#666" stroke-width="0.4" />
<line x1="305.95" y1="413.70" x2="305.95" y2="414.70" stroke="#666" stroke-width="0.4" />
<line x1="307.19" y1="413.70" x2="307.19" y2="414.70" stroke="#666" stroke-width="0.4" />
<line x1="315.62" y1="413.70" x2="315.62" y2="414.70" stroke="#666" stroke-width="0.4" />
<line x1="319.89" y1="413.70" x2="319.89" y2="414.70" stroke="#666" stroke-width="0.4" />
<line x1="322.93" y1="413.70" x2="322.93" y2="414.70" stroke="#666" stroke-width="0.4" />
<line x1="325.28" y1="413.70" x2="325.28" y2="414.70" stroke="#666" stroke-width="0.4" />
<line x1="327.21" y1="413.70" x2="327.21" y2="414.70" stroke="#666" stroke-width="0.4" />
<line x1="328.84" y1="413.70" x2="328.84" y2="414.70" stroke="#666" stroke-width="0.4" />
<line x1="330.25" y1="413.70" x2="330.25" y2="414.70" stroke="#666" stroke-width="0.4" />
<line x1="331.49" y1="413.70" x2="331.49" y2="414.70" stroke="#666" stroke-width="0.4" />
<line x1="339.22" y1="413.70" x2="339.22" y2="414.70" stroke="#666" stroke-width="0.4" />
<line x1="343.49" y1="413.70" x2="343.49" y2="414.70" stroke="#666" stroke-width="0.4" />
<line x1="346.53" y1="413.70" x2="346.53" y2="414.70" stroke="#666" stroke-width="0.4" />
<line x1="348.88" y1="413.70" x2="348.88" y2="414.70" stroke="#666" stroke-width="0.4" />
<line x1="350.81" y1="413.70" x2="350.81" y2="414.70" stroke="#666" stroke-width="0.4" />
<line x1="352.44" y1="413.70" x2="352.44" y2="414.70" stroke="#666" stroke-width="0.4" />
<line x1="353.85" y1="413.70" x2="353.85" y2="414.70" stroke="#666" stroke-width="0.4" />
<line x1="355.09" y1="413.70" x2="355.09" y2="414.70" stroke="#666" stroke-width="0.4" />
<line x1="363.32" y1="413.70" x2="363.32" y2="414.70" stroke="#666" stroke-width="0.4" />
<line x1="367.59" y1="413.70" x2="367.59" y2="414.70" stroke="#666" stroke-width="0.4" />
<line x1="370.63" y1="413.70" x2="370.63" y2="414.70" stroke="#666" stroke-width="0.4" />
<line x1="372.98" y1="413.70" x2="372.98" y2="414.70" stroke="#666" stroke-width="0.4" />
<line x1="374.91" y1="413.70" x2="374.91" y2="414.70" stroke="#666" stroke-width="0.4" />
<line x1="376.54" y1="413.70" x2="376.54" y2="414.70" stroke="#666" stroke-width="0.4" />
<line x1="377.95" y1="413.70" x2="377.95" y2="414.70" stroke="#666" stroke-width="0.4" />
<line x1="379.19" y1="413.70" x2="379.19" y2="414.70" stroke="#666" stroke-width="0.4" />
<text x="287.70" y="324.55" font-size="7.15" text-anchor="start" fill="#2a2a2a" stroke="#2a2a2a" stroke-width="0.12" >6.7 %</text>
<text x="377.90" y="324.55" font-size="7.15" text-anchor="end" fill="#2a2a2a" font-weight="bold" stroke="#2a2a2a" stroke-width="0.3" >23.5 %</text>
<text x="377.40" y="409.60" font-size="7.15" text-anchor="end" fill="#2a2a2a" stroke="#2a2a2a" stroke-width="0.12" >27.6 %</text>
<rect x="413.10" y="315.10" width="97.90" height="98.60" fill="none" stroke="#555" stroke-width="0.75"/>
<line x1="444.30" y1="315.10" x2="444.30" y2="413.70" stroke="#3a3a3a" stroke-width="0.9" />
<line x1="413.10" y1="385.80" x2="511.00" y2="385.80" stroke="#3a3a3a" stroke-width="0.9" />
<line x1="411.30" y1="315.10" x2="413.10" y2="315.10" stroke="#333" stroke-width="0.6" />
<text x="410.30" y="316.40" font-size="4.1" text-anchor="end" fill="#222" stroke="#222" stroke-width="0.1">10<tspan dy="-1.4" font-size="3.0">5</tspan></text>
<line x1="411.30" y1="337.30" x2="413.10" y2="337.30" stroke="#333" stroke-width="0.6" />
<text x="410.30" y="338.60" font-size="4.1" text-anchor="end" fill="#222" stroke="#222" stroke-width="0.1">10<tspan dy="-1.4" font-size="3.0">4</tspan></text>
<line x1="411.30" y1="361.70" x2="413.10" y2="361.70" stroke="#333" stroke-width="0.6" />
<text x="410.30" y="363.00" font-size="4.1" text-anchor="end" fill="#222" stroke="#222" stroke-width="0.1">10<tspan dy="-1.4" font-size="3.0">3</tspan></text>
<line x1="411.30" y1="382.00" x2="413.10" y2="382.00" stroke="#333" stroke-width="0.6" />
<text x="410.30" y="383.30" font-size="4.2" text-anchor="end" fill="#222" stroke="#222" stroke-width="0.1">2</text>
<line x1="411.30" y1="393.10" x2="413.10" y2="393.10" stroke="#333" stroke-width="0.6" />
<text x="410.30" y="394.40" font-size="4.2" text-anchor="end" fill="#222" stroke="#222" stroke-width="0.1">0</text>
<line x1="411.30" y1="404.30" x2="413.10" y2="404.30" stroke="#333" stroke-width="0.6" />
<text x="410.30" y="405.60" font-size="4.2" text-anchor="end" fill="#222" stroke="#222" stroke-width="0.1">-2</text>
<line x1="412.10" y1="330.62" x2="413.10" y2="330.62" stroke="#666" stroke-width="0.4" />
<line x1="412.10" y1="326.71" x2="413.10" y2="326.71" stroke="#666" stroke-width="0.4" />
<line x1="412.10" y1="323.93" x2="413.10" y2="323.93" stroke="#666" stroke-width="0.4" />
<line x1="412.10" y1="321.78" x2="413.10" y2="321.78" stroke="#666" stroke-width="0.4" />
<line x1="412.10" y1="320.03" x2="413.10" y2="320.03" stroke="#666" stroke-width="0.4" />
<line x1="412.10" y1="318.54" x2="413.10" y2="318.54" stroke="#666" stroke-width="0.4" />
<line x1="412.10" y1="317.25" x2="413.10" y2="317.25" stroke="#666" stroke-width="0.4" />
<line x1="412.10" y1="316.12" x2="413.10" y2="316.12" stroke="#666" stroke-width="0.4" />
<line x1="412.10" y1="354.35" x2="413.10" y2="354.35" stroke="#666" stroke-width="0.4" />
<line x1="412.10" y1="350.06" x2="413.10" y2="350.06" stroke="#666" stroke-width="0.4" />
<line x1="412.10" y1="347.01" x2="413.10" y2="347.01" stroke="#666" stroke-width="0.4" />
<line x1="412.10" y1="344.65" x2="413.10" y2="344.65" stroke="#666" stroke-width="0.4" />
<line x1="412.10" y1="342.71" x2="413.10" y2="342.71" stroke="#666" stroke-width="0.4" />
<line x1="412.10" y1="341.08" x2="413.10" y2="341.08" stroke="#666" stroke-width="0.4" />
<line x1="412.10" y1="339.66" x2="413.10" y2="339.66" stroke="#666" stroke-width="0.4" />
<line x1="412.10" y1="338.42" x2="413.10" y2="338.42" stroke="#666" stroke-width="0.4" />
<line x1="412.10" y1="364.70" x2="413.10" y2="364.70" stroke="#666" stroke-width="0.4" />
<line x1="412.10" y1="367.30" x2="413.10" y2="367.30" stroke="#666" stroke-width="0.4" />
<line x1="412.10" y1="369.90" x2="413.10" y2="369.90" stroke="#666" stroke-width="0.4" />
<line x1="412.10" y1="372.50" x2="413.10" y2="372.50" stroke="#666" stroke-width="0.4" />
<line x1="412.10" y1="375.10" x2="413.10" y2="375.10" stroke="#666" stroke-width="0.4" />
<line x1="412.10" y1="377.70" x2="413.10" y2="377.70" stroke="#666" stroke-width="0.4" />
<line x1="412.10" y1="380.30" x2="413.10" y2="380.30" stroke="#666" stroke-width="0.4" />
<line x1="412.10" y1="385.50" x2="413.10" y2="385.50" stroke="#666" stroke-width="0.4" />
<line x1="412.10" y1="388.10" x2="413.10" y2="388.10" stroke="#666" stroke-width="0.4" />
<line x1="412.10" y1="390.70" x2="413.10" y2="390.70" stroke="#666" stroke-width="0.4" />
<line x1="412.10" y1="395.90" x2="413.10" y2="395.90" stroke="#666" stroke-width="0.4" />
<line x1="412.10" y1="398.50" x2="413.10" y2="398.50" stroke="#666" stroke-width="0.4" />
<line x1="412.10" y1="401.10" x2="413.10" y2="401.10" stroke="#666" stroke-width="0.4" />
<line x1="412.10" y1="406.30" x2="413.10" y2="406.30" stroke="#666" stroke-width="0.4" />
<line x1="412.10" y1="408.90" x2="413.10" y2="408.90" stroke="#666" stroke-width="0.4" />
<line x1="412.10" y1="411.50" x2="413.10" y2="411.50" stroke="#666" stroke-width="0.4" />
<line x1="438.70" y1="413.70" x2="438.70" y2="415.50" stroke="#333" stroke-width="0.6" />
<text x="438.50" y="420.10" font-size="4.1" text-anchor="middle" fill="#222" stroke="#222" stroke-width="0.1">10<tspan dy="-1.4" font-size="3.0">2</tspan></text>
<line x1="463.00" y1="413.70" x2="463.00" y2="415.50" stroke="#333" stroke-width="0.6" />
<text x="462.80" y="420.10" font-size="4.1" text-anchor="middle" fill="#222" stroke="#222" stroke-width="0.1">10<tspan dy="-1.4" font-size="3.0">3</tspan></text>
<line x1="486.60" y1="413.70" x2="486.60" y2="415.50" stroke="#333" stroke-width="0.6" />
<text x="486.40" y="420.10" font-size="4.1" text-anchor="middle" fill="#222" stroke="#222" stroke-width="0.1">10<tspan dy="-1.4" font-size="3.0">4</tspan></text>
<line x1="510.70" y1="413.70" x2="510.70" y2="415.50" stroke="#333" stroke-width="0.6" />
<text x="510.50" y="420.10" font-size="4.1" text-anchor="middle" fill="#222" stroke="#222" stroke-width="0.1">10<tspan dy="-1.4" font-size="3.0">5</tspan></text>
<line x1="421.72" y1="413.70" x2="421.72" y2="414.70" stroke="#666" stroke-width="0.4" />
<line x1="425.99" y1="413.70" x2="425.99" y2="414.70" stroke="#666" stroke-width="0.4" />
<line x1="429.03" y1="413.70" x2="429.03" y2="414.70" stroke="#666" stroke-width="0.4" />
<line x1="431.38" y1="413.70" x2="431.38" y2="414.70" stroke="#666" stroke-width="0.4" />
<line x1="433.31" y1="413.70" x2="433.31" y2="414.70" stroke="#666" stroke-width="0.4" />
<line x1="434.94" y1="413.70" x2="434.94" y2="414.70" stroke="#666" stroke-width="0.4" />
<line x1="436.35" y1="413.70" x2="436.35" y2="414.70" stroke="#666" stroke-width="0.4" />
<line x1="437.59" y1="413.70" x2="437.59" y2="414.70" stroke="#666" stroke-width="0.4" />
<line x1="446.02" y1="413.70" x2="446.02" y2="414.70" stroke="#666" stroke-width="0.4" />
<line x1="450.29" y1="413.70" x2="450.29" y2="414.70" stroke="#666" stroke-width="0.4" />
<line x1="453.33" y1="413.70" x2="453.33" y2="414.70" stroke="#666" stroke-width="0.4" />
<line x1="455.68" y1="413.70" x2="455.68" y2="414.70" stroke="#666" stroke-width="0.4" />
<line x1="457.61" y1="413.70" x2="457.61" y2="414.70" stroke="#666" stroke-width="0.4" />
<line x1="459.24" y1="413.70" x2="459.24" y2="414.70" stroke="#666" stroke-width="0.4" />
<line x1="460.65" y1="413.70" x2="460.65" y2="414.70" stroke="#666" stroke-width="0.4" />
<line x1="461.89" y1="413.70" x2="461.89" y2="414.70" stroke="#666" stroke-width="0.4" />
<line x1="469.62" y1="413.70" x2="469.62" y2="414.70" stroke="#666" stroke-width="0.4" />
<line x1="473.89" y1="413.70" x2="473.89" y2="414.70" stroke="#666" stroke-width="0.4" />
<line x1="476.93" y1="413.70" x2="476.93" y2="414.70" stroke="#666" stroke-width="0.4" />
<line x1="479.28" y1="413.70" x2="479.28" y2="414.70" stroke="#666" stroke-width="0.4" />
<line x1="481.21" y1="413.70" x2="481.21" y2="414.70" stroke="#666" stroke-width="0.4" />
<line x1="482.84" y1="413.70" x2="482.84" y2="414.70" stroke="#666" stroke-width="0.4" />
<line x1="484.25" y1="413.70" x2="484.25" y2="414.70" stroke="#666" stroke-width="0.4" />
<line x1="485.49" y1="413.70" x2="485.49" y2="414.70" stroke="#666" stroke-width="0.4" />
<line x1="493.72" y1="413.70" x2="493.72" y2="414.70" stroke="#666" stroke-width="0.4" />
<line x1="497.99" y1="413.70" x2="497.99" y2="414.70" stroke="#666" stroke-width="0.4" />
<line x1="501.03" y1="413.70" x2="501.03" y2="414.70" stroke="#666" stroke-width="0.4" />
<line x1="503.38" y1="413.70" x2="503.38" y2="414.70" stroke="#666" stroke-width="0.4" />
<line x1="505.31" y1="413.70" x2="505.31" y2="414.70" stroke="#666" stroke-width="0.4" />
<line x1="506.94" y1="413.70" x2="506.94" y2="414.70" stroke="#666" stroke-width="0.4" />
<line x1="508.35" y1="413.70" x2="508.35" y2="414.70" stroke="#666" stroke-width="0.4" />
<line x1="509.59" y1="413.70" x2="509.59" y2="414.70" stroke="#666" stroke-width="0.4" />
<text x="418.10" y="324.55" font-size="7.15" text-anchor="start" fill="#2a2a2a" stroke="#2a2a2a" stroke-width="0.12" >7.7 %</text>
<text x="508.30" y="324.55" font-size="7.15" text-anchor="end" fill="#2a2a2a" font-weight="bold" stroke="#2a2a2a" stroke-width="0.3" >10.6 %</text>
<text x="507.80" y="409.60" font-size="7.15" text-anchor="end" fill="#2a2a2a" stroke="#2a2a2a" stroke-width="0.12" >21.3 %</text>
<text transform="translate(140.50,393.20) rotate(-90)" font-size="8.5" text-anchor="middle" fill="#000" stroke="#000" stroke-width="0.12">CCR6</text>
<text x="178.00" y="430.90" font-size="8.4" text-anchor="middle" fill="#000" stroke="#000" stroke-width="0.12" >HLA-DR</text>
<line x1="252.20" y1="230.60" x2="262.20" y2="230.60" stroke="#000" stroke-width="1.5" />
<path d="M268.40,230.60 L259.60,227.20 L261.60,230.60 L259.60,234.00 Z" fill="#000"/>
<line x1="383.30" y1="230.60" x2="393.30" y2="230.60" stroke="#000" stroke-width="1.5" />
<path d="M399.50,230.60 L390.70,227.20 L392.70,230.60 L390.70,234.00 Z" fill="#000"/>
<line x1="252.20" y1="361.90" x2="262.20" y2="361.90" stroke="#000" stroke-width="1.5" />
<path d="M268.40,361.90 L259.60,358.50 L261.60,361.90 L259.60,365.30 Z" fill="#000"/>
<line x1="383.30" y1="361.90" x2="393.30" y2="361.90" stroke="#000" stroke-width="1.5" />
<path d="M399.50,361.90 L390.70,358.50 L392.70,361.90 L390.70,365.30 Z" fill="#000"/>
<rect x="23.80" y="408.10" width="95.50" height="94.90" fill="none" stroke="#555" stroke-width="0.75"/>
<line x1="53.90" y1="408.10" x2="53.90" y2="503.00" stroke="#3a3a3a" stroke-width="0.9" />
<line x1="23.80" y1="476.70" x2="119.30" y2="476.70" stroke="#3a3a3a" stroke-width="0.9" />
<line x1="22.00" y1="408.50" x2="23.80" y2="408.50" stroke="#333" stroke-width="0.6" />
<text x="21.00" y="409.80" font-size="4.1" text-anchor="end" fill="#222" stroke="#222" stroke-width="0.1">10<tspan dy="-1.4" font-size="3.0">5</tspan></text>
<line x1="22.00" y1="428.50" x2="23.80" y2="428.50" stroke="#333" stroke-width="0.6" />
<text x="21.00" y="429.80" font-size="4.1" text-anchor="end" fill="#222" stroke="#222" stroke-width="0.1">10<tspan dy="-1.4" font-size="3.0">4</tspan></text>
<line x1="22.00" y1="452.50" x2="23.80" y2="452.50" stroke="#333" stroke-width="0.6" />
<text x="21.00" y="453.80" font-size="4.1" text-anchor="end" fill="#222" stroke="#222" stroke-width="0.1">10<tspan dy="-1.4" font-size="3.0">3</tspan></text>
<line x1="22.00" y1="472.00" x2="23.80" y2="472.00" stroke="#333" stroke-width="0.6" />
<text x="21.00" y="473.30" font-size="4.2" text-anchor="end" fill="#222" stroke="#222" stroke-width="0.1">2</text>
<line x1="22.00" y1="483.00" x2="23.80" y2="483.00" stroke="#333" stroke-width="0.6" />
<text x="21.00" y="484.30" font-size="4.2" text-anchor="end" fill="#222" stroke="#222" stroke-width="0.1">0</text>
<line x1="22.00" y1="493.70" x2="23.80" y2="493.70" stroke="#333" stroke-width="0.6" />
<text x="21.00" y="495.00" font-size="4.2" text-anchor="end" fill="#222" stroke="#222" stroke-width="0.1">-2</text>
<line x1="22.80" y1="422.48" x2="23.80" y2="422.48" stroke="#666" stroke-width="0.4" />
<line x1="22.80" y1="418.96" x2="23.80" y2="418.96" stroke="#666" stroke-width="0.4" />
<line x1="22.80" y1="416.46" x2="23.80" y2="416.46" stroke="#666" stroke-width="0.4" />
<line x1="22.80" y1="414.52" x2="23.80" y2="414.52" stroke="#666" stroke-width="0.4" />
<line x1="22.80" y1="412.94" x2="23.80" y2="412.94" stroke="#666" stroke-width="0.4" />
<line x1="22.80" y1="411.60" x2="23.80" y2="411.60" stroke="#666" stroke-width="0.4" />
<line x1="22.80" y1="410.44" x2="23.80" y2="410.44" stroke="#666" stroke-width="0.4" />
<line x1="22.80" y1="409.42" x2="23.80" y2="409.42" stroke="#666" stroke-width="0.4" />
<line x1="22.80" y1="445.28" x2="23.80" y2="445.28" stroke="#666" stroke-width="0.4" />
<line x1="22.80" y1="441.05" x2="23.80" y2="441.05" stroke="#666" stroke-width="0.4" />
<line x1="22.80" y1="438.05" x2="23.80" y2="438.05" stroke="#666" stroke-width="0.4" />
<line x1="22.80" y1="435.72" x2="23.80" y2="435.72" stroke="#666" stroke-width="0.4" />
<line x1="22.80" y1="433.82" x2="23.80" y2="433.82" stroke="#666" stroke-width="0.4" />
<line x1="22.80" y1="432.22" x2="23.80" y2="432.22" stroke="#666" stroke-width="0.4" />
<line x1="22.80" y1="430.83" x2="23.80" y2="430.83" stroke="#666" stroke-width="0.4" />
<line x1="22.80" y1="429.60" x2="23.80" y2="429.60" stroke="#666" stroke-width="0.4" />
<line x1="22.80" y1="455.50" x2="23.80" y2="455.50" stroke="#666" stroke-width="0.4" />
<line x1="22.80" y1="458.10" x2="23.80" y2="458.10" stroke="#666" stroke-width="0.4" />
<line x1="22.80" y1="460.70" x2="23.80" y2="460.70" stroke="#666" stroke-width="0.4" />
<line x1="22.80" y1="463.30" x2="23.80" y2="463.30" stroke="#666" stroke-width="0.4" />
<line x1="22.80" y1="465.90" x2="23.80" y2="465.90" stroke="#666" stroke-width="0.4" />
<line x1="22.80" y1="468.50" x2="23.80" y2="468.50" stroke="#666" stroke-width="0.4" />
<line x1="22.80" y1="473.70" x2="23.80" y2="473.70" stroke="#666" stroke-width="0.4" />
<line x1="22.80" y1="476.30" x2="23.80" y2="476.30" stroke="#666" stroke-width="0.4" />
<line x1="22.80" y1="478.90" x2="23.80" y2="478.90" stroke="#666" stroke-width="0.4" />
<line x1="22.80" y1="481.50" x2="23.80" y2="481.50" stroke="#666" stroke-width="0.4" />
<line x1="22.80" y1="484.10" x2="23.80" y2="484.10" stroke="#666" stroke-width="0.4" />
<line x1="22.80" y1="486.70" x2="23.80" y2="486.70" stroke="#666" stroke-width="0.4" />
<line x1="22.80" y1="489.30" x2="23.80" y2="489.30" stroke="#666" stroke-width="0.4" />
<line x1="22.80" y1="491.90" x2="23.80" y2="491.90" stroke="#666" stroke-width="0.4" />
<line x1="22.80" y1="497.10" x2="23.80" y2="497.10" stroke="#666" stroke-width="0.4" />
<line x1="22.80" y1="499.70" x2="23.80" y2="499.70" stroke="#666" stroke-width="0.4" />
<line x1="48.50" y1="503.00" x2="48.50" y2="504.80" stroke="#333" stroke-width="0.6" />
<text x="48.30" y="509.40" font-size="4.1" text-anchor="middle" fill="#222" stroke="#222" stroke-width="0.1">10<tspan dy="-1.4" font-size="3.0">2</tspan></text>
<line x1="72.20" y1="503.00" x2="72.20" y2="504.80" stroke="#333" stroke-width="0.6" />
<text x="72.00" y="509.40" font-size="4.1" text-anchor="middle" fill="#222" stroke="#222" stroke-width="0.1">10<tspan dy="-1.4" font-size="3.0">3</tspan></text>
<line x1="95.60" y1="503.00" x2="95.60" y2="504.80" stroke="#333" stroke-width="0.6" />
<text x="95.40" y="509.40" font-size="4.1" text-anchor="middle" fill="#222" stroke="#222" stroke-width="0.1">10<tspan dy="-1.4" font-size="3.0">4</tspan></text>
<line x1="119.00" y1="503.00" x2="119.00" y2="504.80" stroke="#333" stroke-width="0.6" />
<text x="118.80" y="509.40" font-size="4.1" text-anchor="middle" fill="#222" stroke="#222" stroke-width="0.1">10<tspan dy="-1.4" font-size="3.0">5</tspan></text>
<line x1="31.93" y1="503.00" x2="31.93" y2="504.00" stroke="#666" stroke-width="0.4" />
<line x1="36.11" y1="503.00" x2="36.11" y2="504.00" stroke="#666" stroke-width="0.4" />
<line x1="39.07" y1="503.00" x2="39.07" y2="504.00" stroke="#666" stroke-width="0.4" />
<line x1="41.37" y1="503.00" x2="41.37" y2="504.00" stroke="#666" stroke-width="0.4" />
<line x1="43.24" y1="503.00" x2="43.24" y2="504.00" stroke="#666" stroke-width="0.4" />
<line x1="44.83" y1="503.00" x2="44.83" y2="504.00" stroke="#666" stroke-width="0.4" />
<line x1="46.20" y1="503.00" x2="46.20" y2="504.00" stroke="#666" stroke-width="0.4" />
<line x1="47.42" y1="503.00" x2="47.42" y2="504.00" stroke="#666" stroke-width="0.4" />
<line x1="55.63" y1="503.00" x2="55.63" y2="504.00" stroke="#666" stroke-width="0.4" />
<line x1="59.81" y1="503.00" x2="59.81" y2="504.00" stroke="#666" stroke-width="0.4" />
<line x1="62.77" y1="503.00" x2="62.77" y2="504.00" stroke="#666" stroke-width="0.4" />
<line x1="65.07" y1="503.00" x2="65.07" y2="504.00" stroke="#666" stroke-width="0.4" />
<line x1="66.94" y1="503.00" x2="66.94" y2="504.00" stroke="#666" stroke-width="0.4" />
<line x1="68.53" y1="503.00" x2="68.53" y2="504.00" stroke="#666" stroke-width="0.4" />
<line x1="69.90" y1="503.00" x2="69.90" y2="504.00" stroke="#666" stroke-width="0.4" />
<line x1="71.12" y1="503.00" x2="71.12" y2="504.00" stroke="#666" stroke-width="0.4" />
<line x1="79.03" y1="503.00" x2="79.03" y2="504.00" stroke="#666" stroke-width="0.4" />
<line x1="83.21" y1="503.00" x2="83.21" y2="504.00" stroke="#666" stroke-width="0.4" />
<line x1="86.17" y1="503.00" x2="86.17" y2="504.00" stroke="#666" stroke-width="0.4" />
<line x1="88.47" y1="503.00" x2="88.47" y2="504.00" stroke="#666" stroke-width="0.4" />
<line x1="90.34" y1="503.00" x2="90.34" y2="504.00" stroke="#666" stroke-width="0.4" />
<line x1="91.93" y1="503.00" x2="91.93" y2="504.00" stroke="#666" stroke-width="0.4" />
<line x1="93.30" y1="503.00" x2="93.30" y2="504.00" stroke="#666" stroke-width="0.4" />
<line x1="94.52" y1="503.00" x2="94.52" y2="504.00" stroke="#666" stroke-width="0.4" />
<line x1="102.43" y1="503.00" x2="102.43" y2="504.00" stroke="#666" stroke-width="0.4" />
<line x1="106.61" y1="503.00" x2="106.61" y2="504.00" stroke="#666" stroke-width="0.4" />
<line x1="109.57" y1="503.00" x2="109.57" y2="504.00" stroke="#666" stroke-width="0.4" />
<line x1="111.87" y1="503.00" x2="111.87" y2="504.00" stroke="#666" stroke-width="0.4" />
<line x1="113.74" y1="503.00" x2="113.74" y2="504.00" stroke="#666" stroke-width="0.4" />
<line x1="115.33" y1="503.00" x2="115.33" y2="504.00" stroke="#666" stroke-width="0.4" />
<line x1="116.70" y1="503.00" x2="116.70" y2="504.00" stroke="#666" stroke-width="0.4" />
<line x1="117.92" y1="503.00" x2="117.92" y2="504.00" stroke="#666" stroke-width="0.4" />
<text x="68.50" y="397.60" font-size="8.4" text-anchor="middle" fill="#000" font-weight="bold" stroke="#000" stroke-width="0.3" >day 0</text>
<text x="26.80" y="414.90" font-size="6.65" text-anchor="start" fill="#2a2a2a" stroke="#2a2a2a" stroke-width="0.12" >46.08 %</text>
<text x="117.20" y="414.90" font-size="6.65" text-anchor="end" fill="#2a2a2a" stroke="#2a2a2a" stroke-width="0.12" >4.01 %</text>
<text x="117.20" y="500.40" font-size="6.65" text-anchor="end" fill="#2a2a2a" stroke="#2a2a2a" stroke-width="0.12" >3.26 %</text>
<text transform="translate(10.50,480.20) rotate(-90)" font-size="8.5" text-anchor="middle" fill="#000" stroke="#000" stroke-width="0.12">CCR6</text>
<text x="48.10" y="520.90" font-size="8.3" text-anchor="middle" fill="#000" stroke="#000" stroke-width="0.12" >HLA-DR</text>
<rect x="153.5" y="392.6" width="17" height="1.0" fill="#000" fill-opacity="0.55" filter="url(#b2)"/>
<ellipse cx="305.90" cy="398.00" rx="5.0" ry="1.9" transform="rotate(30 305.90 398.00)" fill="#000" fill-opacity="0.9" filter="url(#b1)"/>
<rect x="415.1" y="391.6" width="42" height="1.7" fill="#000" fill-opacity="0.5" filter="url(#b2)"/>
<rect x="415.1" y="391.4" width="32" height="2.3" fill="#000" fill-opacity="0.55" filter="url(#b2)"/>
<rect x="25.5" y="480.6" width="22.5" height="1.6" fill="#000" fill-opacity="0.9" filter="url(#b2)"/>
<path transform="scale(0.25)" d="m1400 802h3m62 2h3m-45 1h3m-529 13h3m459-3h3m60-1h3m406 5h3m53 0h3m3 0h3m6 0h3m8 4h3m-12 1h3m-13 3h3m-88-3h3m-67 0h3m-14 0h3m-303-3h3m-40-1h3m-4 2h3m-15 3h3m-34 1h3m-17-2h3m-4-3h3m-11 2h3m-9-3h3m-6 8h3m-15-2h3m-6-3h3m-23 0h3m-5-3h3m-575 16h3m95-4h3m24 0h3m25 2h3m422-5h3m8 4h3m0-4h3m3 1h3m15-1h3m3 4h3m3-2h3m2 2h3m13-4h3m2 0h3m1 5h3m0-6h3m6 8h3m11 0h3m0-5h3m5 2h3m23-2h3m10-2h3m-2 2h3m-1 0h3m-1 0h3m7 4h3m270-1h3m1 0h3m65-3h3m22-1h3m10 0h3m27 4h3m19-1h3m17-5h3m24 3h3m0 2h3m5 2h3m8 9h3m-28-7h3m-4 4h3m-5 0h3m-12 2h3m-4-1h3m-8 0h3m-11-5h3m-11 7h3m-7 0h3m-5-1h3m-17-7h3m-8 7h3m-3-4h3m-12-1h3m-5 2h3m-6 0h3m-24-2h3m-10 5h3m-7-6h3m-8 6h3m-11-6h3m-6 5h3m-13-3h3m-38 3h3m-54-2h3m-52 3h3m-213 0h3m-3-5h3m-5 6h3m-7-4h3m-3-3h3m-9 5h3m-6-5h3m-10 1h3m-5-1h3m-7 5h3m-16-3h3m-16 2h3m-4 2h3m-11 0h3m-4-5h3m-5 5h3m-6-2h3m-36 0h3m-3-2h3m-6 5h3m-7 0h3m-11-3h3m-13-2h3m-17 1h3m-7 1h3m-11 2h3m-4-4h3m-7-2h3m-34 0h3m-6 6h3m-416-5h3m-43 2h3m-22 4h3m-9-2h3m4 4h3m18 0h3m11 0h3m4 2h3m-1-3h3m5 2h3m6 2h3m26 3h3m5-2h3m372-1h3m32 2h3m-2-1h3m-1-5h3m18 2h3m-2 1h3m5 0h3m0 3h3m-2 1h3m-2-4h3m1 1h3m-3 2h3m1-1h3m-1-1h3m-2-2h3m2 1h3m11 3h3m-2-5h3m-1 3h3m-2 1h3m5-3h3m6-3h3m-2 3h3m4 5h3m0-3h3m-1 2h3m-1-5h3m-2 5h3m-1-2h3m4-1h3m10-2h3m2 4h3m-1 0h3m-2-2h3m2-3h3m-2 1h3m-2 1h3m-3 4h3m245-7h3m6 8h3m15-6h3m2-2h3m3 7h3m7-6h3m6 6h3m55-4h3m-2 4h3m6-3h3m12-1h3m18-1h3m-2 1h3m0 3h3m-1-3h3m-3 2h3m-2 0h3m4 3h3m1-6h3m-3 4h3m7-3h3m-3 1h3m-1-3h3m4 3h3m-3 4h3m-1-7h3m5 0h3m-2 3h3m-1-1h3m2 4h3m-1-5h3m1 5h3m2-2h3m-2 2h3m-2-3h3m-1 1h3m-2 3h3m-2-2h3m2-2h3m-2 0h3m-1 1h3m0 1h3m-1-1h3m0 2h3m4 1h3m1 5h3m-11 1h3m-7-3h3m-13 3h3m-5 0h3m-5-1h3m-6 3h3m-4-7h3m-4 6h3m-3-5h3m-5 3h3m-3-2h3m-7 4h3m-4-2h3m-5 2h3m-3-1h3m-5 1h3m-4-4h3m-4 4h3m-4-1h3m-3-5h3m-6 6h3m-3-3h3m-4 3h3m-4 0h3m-5-7h3m-7 7h3m-8 0h3m-5-4h3m-5 3h3m-3-1h3m-5-2h3m-6 4h3m-7-6h3m-5 1h3m-5 5h3m-8-6h3m-5 2h3m-12-1h3m-14 2h3m-7 3h3m-7-1h3m-6 1h3m-7 0h3m-7-2h3m-5-3h3m-4 3h3m-3-3h3m-5 0h3m-7-2h3m-5 6h3m-8-5h3m-7 5h3m-16 0h3m-35-4h3m-7 2h3m-14 3h3m-11-3h3m-3-2h3m-3-1h3m-11 7h3m-6-3h3m-11-5h3m-5 7h3m-6-5h3m-28-2h3m-14 3h3m-237 3h3m-12 0h3m-3-4h3m-6 1h3m-14 4h3m-3-5h3m-5-1h3m-4 6h3m-4-1h3m-7 1h3m-4-1h3m-7 1h3m-3-2h3m-6-3h3m-6 2h3m-7 1h3m-3-4h3m-7 4h3m-4-3h3m-8 1h3m-4 4h3m-10-7h3m-11 8h3m-3-3h3m-6-4h3m-5 0h3m-15 3h3m-4 1h3m-5 3h3m-5-4h3m-7 3h3m-4-7h3m-11 5h3m-4 0h3m-10 0h3m-7-1h3m-10 3h3m-3-3h3m-6 2h3m-10-1h3m-35-2h3m-9 3h3m-398-4h3m-22 0h3m-24 4h3m-17-5h3m-40 6h3m-106-4h3m-39 6h3m42 0h3m84 6h3m6 0h3m-2-4h3m5 1h3m-3 3h3m3-7h3m-2 4h3m7-4h3m4 5h3m-2 2h3m1-2h3m3-1h3m-1 3h3m5-1h3m2-5h3m1 4h3m1 0h3m17-2h3m-2 2h3m1 1h3m5-5h3m367 1h3m9 2h3m0-1h3m2 0h3m9 0h3m2 4h3m9 0h3m1 0h3m1-6h3m1 6h3m1-7h3m-1 7h3m0 0h3m13-3h3m-3 1h3m2-2h3m0 4h3m0-1h3m-2-3h3m-2 3h3m-2-2h3m-3 3h3m0-5h3m-1 5h3m0-4h3m-2 3h3m-2-5h3m-3 2h3m-2 2h3m1-4h3m-3 2h3m0 3h3m-2-5h3m-2 4h3m-1-3h3m-1-1h3m3 4h3m1 2h3m-3 1h3m-1-6h3m-2 0h3m-3 2h3m-2 2h3m-3 2h3m-1-6h3m-1 1h3m-2-1h3m-3 1h3m-1-3h3m-2 5h3m-3 2h3m-3 1h3m-2-5h3m-3 1h3m-2 2h3m-2 0h3m-2-6h3m-1 0h3m-3 4h3m-3 4h3m-2-6h3m-3 5h3m-2 0h3m-2-2h3m-3 3h3m0 0h3m-2-3h3m-2-2h3m-3 4h3m-1-6h3m-3 6h3m0 0h3m-1-2h3m-3 2h3m-2-5h3m-1 0h3m-1-1h3m-2 6h3m2-5h3m-1 4h3m4-5h3m-3 6h3m-2 1h3m1-6h3m-1-2h3m-1 1h3m2 5h3m-1-5h3m211 4h3m0-4h3m13 4h3m-2-1h3m4-1h3m-3 3h3m0-6h3m16 6h3m3-5h3m-1 0h3m-1 6h3m2 0h3m3-3h3m3 3h3m6-3h3m2 0h3m13-4h3m-1 5h3m2 1h3m0 2h3m5-5h3m1 3h3m1 0h3m2-5h3m4 0h3m8 5h3m-1 0h3m2-3h3m0-2h3m-3 4h3m-1-2h3m2 3h3m-2 1h3m1-2h3m-3 1h3m-3 1h3m0-4h3m-2 0h3m0 4h3m3-6h3m0 0h3m-3 3h3m-2 2h3m-2-3h3m-2 2h3m-2-3h3m-3 5h3m2-6h3m-3 6h3m0-6h3m-3 4h3m0-1h3m-3 2h3m1 1h3m-2-2h3m-3 2h3m-1-6h3m-3 2h3m-1 3h3m-2-5h3m-1 5h3m-2 0h3m-1 1h3m-2-7h3m-2 4h3m-2-3h3m-3 1h3m-3 1h3m-2 2h3m0-4h3m-3 1h3m-3 4h3m-3 1h3m-2-6h3m-1 5h3m-1-2h3m-2 1h3m-1 2h3m-1-4h3m-2 3h3m-2-2h3m0 0h3m-3 1h3m-2 0h3m1-2h3m-2 4h3m0-6h3m-3 4h3m-2 1h3m0-5h3m-2 0h3m-2 0h3m-2 2h3m-3 1h3m2-2h3m-1 4h3m4-2h3m1 0h3m1 8h3m-12 3h3m-5-7h3m-4 1h3m-5 0h3m-6 6h3m-8-3h3m-5 4h3m-3-4h3m-5 2h3m-5-1h3m-5 1h3m-4-3h3m-4 5h3m-3-3h3m-4 0h3m-4 3h3m-3-8h3m-4 7h3m-3-4h3m-6 5h3m-3-2h3m-4 2h3m-4-6h3m-4 0h3m-3-1h3m-6 6h3m-3-3h3m-3-4h3m-4 2h3m-4 4h3m-4 0h3m-3-2h3m-3-1h3m-3-1h3m-3-1h3m-4 5h3m-4 0h3m-3-2h3m-3-2h3m-4 6h3m-3-2h3m-4 2h3m-3-2h3m-3-1h3m-4 1h3m-4 1h3m-3-4h3m-4 1h3m-3-1h3m-4 1h3m-4 4h3m-4-1h3m-3-1h3m-4-2h3m-4 4h3m-3-1h3m-3-1h3m-3-5h3m-4 2h3m-3-2h3m-5 6h3m-4-6h3m-4 5h3m-3-3h3m-3-1h3m-4 6h3m-3-2h3m-3-5h3m-4 1h3m-5 4h3m-4 1h3m-3-3h3m-4-2h3m-7-1h3m-4 5h3m-4 1h3m-3-4h3m-4-1h3m-4 5h3m-6-2h3m-6-1h3m-3-2h3m-4 4h3m-3-1h3m-5-2h3m-4-3h3m-5 6h3m-3-3h3m-5 2h3m-5 0h3m-5 2h3m-3-2h3m-3-3h3m-3-1h3m-6 3h3m-9 0h3m-4 4h3m-4-4h3m-8-3h3m-4 7h3m-8 0h3m-7-1h3m-3-1h3m-4-4h3m-5-1h3m-4 0h3m-4 3h3m-4 4h3m-4-2h3m-7-4h3m-4 1h3m-5-1h3m-6 5h3m-7 0h3m-6-2h3m-4 3h3m-4-2h3m-18-2h3m-28 4h3m-10-3h3m-18-2h3m-4-3h3m-6 7h3m-7-4h3m-6 2h3m-4-4h3m-5 7h3m-8-2h3m-3-5h3m-5 3h3m-7 4h3m-5-2h3m-18-2h3m-5 4h3m-5-4h3m-9-1h3m-8 2h3m-19-3h3m-4 3h3m-228-2h3m-6 1h3m-9 1h3m-5-2h3m-5 4h3m-4-1h3m-4 1h3m-4 0h3m-5-2h3m-4-5h3m-4 1h3m-4 3h3m-4 4h3m-3-6h3m-4-1h3m-4 3h3m-5 1h3m-3-2h3m-4 1h3m-5 3h3m-4 0h3m-5 1h3m-4-8h3m-5 3h3m-3-2h3m-5-1h3m-4 8h3m-4-4h3m-4-3h3m-6 5h3m-4-4h3m-4 2h3m-5-2h3m-4 6h3m-3-2h3m-6-4h3m-4 6h3m-3-1h3m-3-6h3m-4 6h3m-3-7h3m-4 3h3m-3-1h3m-4 5h3m-3-1h3m-5 1h3m-4-1h3m-3-2h3m-6 3h3m-4 0h3m-5 0h3m-5-1h3m-3-1h3m-3-1h3m-3-3h3m-6 0h3m-5 2h3m-5-1h3m-4-1h3m-8 3h3m-5 0h3m-3-1h3m-4 3h3m-4-2h3m-4 4h3m-5-2h3m-7 2h3m-4-2h3m-4 0h3m-3-6h3m-5 4h3m-5-1h3m-6 2h3m-8-4h3m-4 1h3m-4 5h3m-3-4h3m-5 4h3m-10-5h3m-5 2h3m-4-1h3m-4 4h3m-5-7h3m-14 2h3m-28-2h3m-20 2h3m-11 2h3m-393 3h3m-5-5h3m-16 3h3m-8 3h3m-17-2h3m-7-1h3m-4-4h3m-4 3h3m-7 3h3m-3-2h3m-9-1h3m-4 1h3m-5 1h3m-5-1h3m-22 2h3m-6 1h3m-4-5h3m-26 5h3m-92-4h3m-37-1h3m-6 1h3m-7 2h3m26 5h3m4 2h3m5 1h3m25-2h3m51 0h3m3-3h3m4 5h3m-3 1h3m0-2h3m-2-2h3m-2-2h3m0 7h3m-1-2h3m-1-2h3m-2 0h3m-3 3h3m-1-4h3m1-1h3m-3 2h3m-2 4h3m-1 0h3m8-6h3m-3 2h3m-2 2h3m-2 0h3m-1-2h3m-3 2h3m-2-1h3m-1 0h3m-3 1h3m2-1h3m10-3h3m-2 4h3m-1-2h3m-3 4h3m3-3h3m-1 1h3m2-4h3m3 1h3m2 2h3m5-3h3m2-1h3m6 4h3m-2-4h3m321 2h3m55 3h3m5-4h3m15 1h3m1-1h3m0 0h3m2-1h3m3 6h3m-3 1h3m6-1h3m-1-1h3m0-4h3m-2 1h3m2 1h3m1-3h3m0 5h3m2-6h3m-2 1h3m-2 4h3m0 3h3m0-3h3m5-1h3m1-4h3m-3 5h3m-3 1h3m-2-6h3m-3 1h3m-3 3h3m-1-3h3m-3 2h3m-1 2h3m-2-5h3m-2 7h3m-2-1h3m-1-4h3m-1 4h3m-2-2h3m-1-4h3m-2 1h3m-2 1h3m-3 5h3m-1-7h3m-3 3h3m-3 2h3m-3 3h3m-2-6h3m-3 4h3m-2-5h3m-3 2h3m-3 4h3m-1 1h3m-2-2h3m-1-5h3m-2 1h3m-3 3h3m-3 1h3m-3 1h3m-3 1h3m-2-4h3m-3 2h3m-2-2h3m-1 4h3m-2-5h3m-1 2h3m-1 2h3m0-4h3m-3 4h3m-1-4h3m-2 4h3m-2-5h3m-1 2h3m-2 1h3m-1 0h3m-2-2h3m-2 2h3m-3 3h3m0-6h3m-3 1h3m-3 3h3m-1-3h3m-2 4h3m-2-2h3m-2-3h3m-2-2h3m-1 1h3m-3 4h3m-1 1h3m0-1h3m-1 3h3m5-2h3m-2-1h3m5-2h3m-2 0h3m3 0h3m201 3h3m2 0h3m0 1h3m2-3h3m4 3h3m1-1h3m1-1h3m10-4h3m4 2h3m0-3h3m0 7h3m-2 0h3m-1 0h3m-2-3h3m-2 3h3m1 0h3m1 1h3m1-5h3m-3 4h3m3 0h3m0-1h3m-1 0h3m5 1h3m-2 1h3m19-1h3m1-6h3m-2 6h3m2-5h3m-2 3h3m0-1h3m3-1h3m-3 3h3m5-6h3m-2 2h3m-2-2h3m0 2h3m-3 5h3m-1-3h3m-2 3h3m-2 0h3m-2-4h3m-1 5h3m0-6h3m-1 6h3m-2-4h3m-2 1h3m-3 1h3m1 0h3m-2-6h3m-1 0h3m-2 7h3m0-7h3m-3 6h3m-2-6h3m-3 5h3m1-3h3m-2 0h3m-3 1h3m-2 4h3m-1-6h3m-2 4h3m1-5h3m-2 7h3m2-6h3m0 2h3m-2 3h3m-2 0h3m0-3h3m-3 1h3m-2 4h3m-2-5h3m-1 2h3m-3 1h3m-2-6h3m-2 5h3m-1-5h3m-3 7h3m-2 0h3m0-5h3m-3 4h3m-3 2h3m-2-6h3m-2 0h3m-3 1h3m-3 1h3m-2-3h3m-3 2h3m-3 3h3m-2-2h3m-3 1h3m-2-2h3m-2-1h3m-3 1h3m-3 5h3m-2-3h3m0-5h3m-3 1h3m-3 6h3m-2-5h3m-3 4h3m-2-1h3m-1-4h3m-3 1h3m-3 2h3m-2-3h3m-3 7h3m-2-4h3m-3 1h3m-3 1h3m-3 1h3m-2-7h3m-3 6h3m-3 1h3m-2-2h3m-3 1h3m-2-6h3m-3 1h3m-2 1h3m-3 1h3m-3 5h3m-2-6h3m-3 5h3m-3 1h3m-2-4h3m-2-1h3m-3 3h3m-2-6h3m-3 5h3m-2-4h3m-3 1h3m-3 1h3m-3 1h3m-3 3h3m-2-4h3m-3 2h3m-2 0h3m-1-3h3m-3 5h3m-2-1h3m-2-6h3m-2 2h3m-3 1h3m-3 2h3m-3 3h3m-1-1h3m0-7h3m-3 3h3m-3 3h3m-2-3h3m-3 2h3m-3 2h3m-2-6h3m-3 2h3m-3 5h3m-2-7h3m-3 3h3m-2-3h3m-2 0h3m-1 7h3m-2-4h3m-3 4h3m-1-7h3m-3 3h3m-1-1h3m-3 2h3m-1-2h3m-2-3h3m-3 3h3m-2 1h3m-2-4h3m-3 2h3m-2-1h3m-2 3h3m-3 3h3m-2 0h3m0-6h3m-1 1h3m-3 1h3m4 1h3m-1 0h3m0-2h3m-2 4h3m-2-1h3m3 5h3m-7 1h3m-5-1h3m-6-1h3m-8 2h3m-4 5h3m-3-3h3m-9 0h3m-7-3h3m-4 3h3m-5-1h3m-3-3h3m-5 4h3m-3-2h3m-4 3h3m-3-3h3m-4-1h3m-5 2h3m-4-2h3m-5 0h3m-5 0h3m-5 3h3m-3-3h3m-4 6h3m-3-2h3m-3-1h3m-5 0h3m-4-2h3m-4 1h3m-3-2h3m-3-1h3m-4 5h3m-3-1h3m-3-2h3m-3-1h3m-4 5h3m-3-5h3m-4 1h3m-3-2h3m-4 0h3m-4 2h3m-3-1h3m-4 4h3m-3-2h3m-3-1h3m-4 1h3m-3-4h3m-4 3h3m-4 1h3m-3-2h3m-4 6h3m-3-8h3m-4 4h3m-4 1h3m-4 3h3m-3-1h3m-3-1h3m-3-3h3m-4 4h3m-3-6h3m-3-1h3m-4 6h3m-3-2h3m-4 2h3m-4-4h3m-4 2h3m-4 0h3m-4 1h3m-3-2h3m-4 3h3m-3-1h3m-4 1h3m-3-6h3m-5 3h3m-3-1h3m-4-1h3m-4 2h3m-3-2h3m-4 4h3m-5 3h3m-3-2h3m-3-6h3m-5 5h3m-3-1h3m-4 3h3m-3-5h3m-4 5h3m-3-4h3m-3-1h3m-4 6h3m-6-6h3m-4-1h3m-5 0h3m-4 5h3m-3-3h3m-3-1h3m-3-2h3m-5 3h3m-5 3h3m-3-4h3m-4 3h3m-4-1h3m-5-3h3m-4 0h3m-4 4h3m-4 1h3m-5-1h3m-3-2h3m-5-2h3m-4 0h3m-5 6h3m-3-4h3m-3-1h3m-4 2h3m-7-4h3m-5 6h3m-9 1h3m-3-1h3m-4-4h3m-5-1h3m-5 5h3m-4 0h3m-3-2h3m-5 2h3m-7-4h3m-5 1h3m-7-1h3m-5 2h3m-6 3h3m-3-4h3m-3-1h3m-4-2h3m-4 0h3m-6 8h3m-5-4h3m-6 4h3m-3-6h3m-5 5h3m-3-5h3m-4 6h3m-3-2h3m-3-4h3m-5 1h3m-6 0h3m-7 1h3m-10 2h3m-4 1h3m-5-4h3m-35 4h3m-4-5h3m-11 6h3m-4-2h3m-5 1h3m-3-6h3m-11 0h3m-6-1h3m-4 4h3m-11 1h3m-4 1h3m-5 2h3m-4-3h3m-6 1h3m-18 1h3m-4-1h3m-3-3h3m-11-1h3m-5-1h3m-7 5h3m-14-3h3m-218 1h3m-3-4h3m-5 2h3m-3-2h3m-12 2h3m-8 2h3m-4-2h3m-4 4h3m-9-6h3m-4 7h3m-3-2h3m-5 2h3m-4-1h3m-5-3h3m-3-3h3m-4 3h3m-4-1h3m-4 4h3m-3-5h3m-3-1h3m-6 5h3m-3-3h3m-6 1h3m-4-3h3m-5 1h3m-3-1h3m-4 1h3m-4 5h3m-5 2h3m-4-6h3m-4 6h3m-3-1h3m-4-2h3m-4 0h3m-4-4h3m-4 6h3m-3-6h3m-4-1h3m-4 3h3m-3-1h3m-4 5h3m-3-4h3m-4 3h3m-4 0h3m-3-5h3m-4 4h3m-3-1h3m-4 2h3m-3-4h3m-4 5h3m-3-4h3m-4 3h3m-4 2h3m-4 0h3m-3-2h3m-3-3h3m-3-3h3m-4 4h3m-3-1h3m-3-1h3m-4 1h3m-4 1h3m-3-1h3m-5 3h3m-3-5h3m-4 1h3m-6 4h3m-4 1h3m-4-2h3m-3-1h3m-3-4h3m-6 4h3m-4 4h3m-3-1h3m-4 1h3m-4-6h3m-4 1h3m-4 4h3m-5-2h3m-4 0h3m-8-2h3m-3-2h3m-6 6h3m-5-2h3m-3-2h3m-7 4h3m-5-2h3m-3-2h3m-3-2h3m-4 3h3m-3-3h3m-8-1h3m-5 6h3m-4-1h3m-4 0h3m-4 1h3m-4 0h3m-4 1h3m-5-5h3m-11 0h3m-7-1h3m-9 6h3m-28-6h3m-35 0h3m-48 5h3m-327 0h3m-11 2h3m-6-6h3m-4 5h3m-10-2h3m-25-5h3m-10 7h3m-3-4h3m-5 4h3m-3-1h3m-5-4h3m-8-2h3m-7 3h3m-4 1h3m-3-2h3m-4 2h3m-5-3h3m-4 4h3m-4 3h3m-3-4h3m-5-3h3m-4 4h3m-3-4h3m-5 6h3m-4-6h3m-3-1h3m-5 6h3m-13-1h3m-4-1h3m-4 1h3m-3-2h3m-3-1h3m-4 0h3m-8 4h3m-7 2h3m-9-3h3m-4 2h3m-8-2h3m-4 2h3m-6-1h3m-3-3h3m-7 3h3m-5-1h3m-14-1h3m-63 0h3m-31 1h3m-10 2h3m-31-2h3m-15 8h3m-1-4h3m15 7h3m4-1h3m8 0h3m11-5h3m2-2h3m63 1h3m0 5h3m18-4h3m3 0h3m5 5h3m1-7h3m-3 2h3m-1 2h3m5-1h3m-1 4h3m-1-3h3m-3 4h3m-2-3h3m-2-1h3m2-3h3m-2 1h3m-2 6h3m-1-5h3m-3 5h3m-2-1h3m-2-2h3m0-5h3m-1 6h3m1 2h3m0-3h3m-3 2h3m0-3h3m-3 3h3m-2-5h3m2 0h3m-2 3h3m-1-4h3m-2-1h3m-1 2h3m-1-1h3m-3 2h3m-2 0h3m-2-1h3m-2 6h3m7-8h3m1 6h3m-2 1h3m-1 0h3m10-7h3m365 2h3m0 3h3m3 2h3m7-7h3m5 7h3m2-7h3m5 7h3m-1-4h3m10 4h3m-2-2h3m-1-2h3m-3 2h3m-1 1h3m2-4h3m-1-1h3m-1 2h3m-1-1h3m1 6h3m-1-7h3m0 1h3m-3 2h3m0 3h3m-1-2h3m-2-1h3m-2 0h3m-2 0h3m-3 4h3m0-6h3m0 1h3m2-1h3m-2 6h3m-2-2h3m-1-4h3m-3 5h3m-2-4h3m1 1h3m-2-2h3m-3 4h3m-2-2h3m-2 1h3m-1 0h3m-2-2h3m-3 1h3m-3 4h3m-2-2h3m-3 1h3m-2 0h3m-2-5h3m-3 3h3m-2 1h3m-1 2h3m-2-3h3m-1-2h3m-2-2h3m-3 6h3m-1-7h3m-3 2h3m-3 2h3m-2 0h3m-2-2h3m-3 1h3m-3 1h3m-3 1h3m-3 1h3m-2-2h3m-2-2h3m-2 5h3m-2-2h3m-3 1h3m-2 0h3m-2-4h3m-3 3h3m-2-4h3m-3 2h3m-3 1h3m-2 2h3m-2-4h3m-2-1h3m-3 1h3m-3 1h3m0-2h3m-3 7h3m-1-5h3m0-2h3m-2 4h3m0-4h3m-2 3h3m-1 1h3m-3 1h3m-2 2h3m-2-3h3m-3 2h3m-1 0h3m-2-1h3m-2 0h3m-2-5h3m-2 3h3m-1-4h3m-2 6h3m-2-4h3m-2 2h3m-2 0h3m-2-2h3m-3 4h3m-2-1h3m-2 2h3m0-4h3m-3 2h3m-2 1h3m-2-2h3m-2-1h3m3 4h3m0-1h3m-2-6h3m-1 8h3m-2-7h3m-3 1h3m-2 0h3m-2-1h3m3 2h3m1 5h3m2-4h3m190-1h3m17 3h3m-1-4h3m-2 5h3m3-6h3m-3 6h3m4-6h3m12 2h3m-1 1h3m-2 0h3m1-4h3m-3 2h3m-1 3h3m-2-1h3m-2-2h3m-1 3h3m-3 1h3m6-4h3m-3 5h3m4-5h3m-1 5h3m2-4h3m0-1h3m-1 5h3m-2 1h3m-2-3h3m3-1h3m-2-2h3m-1 3h3m-2 0h3m7-4h3m-3 4h3m1-1h3m-2 2h3m-2-4h3m0 3h3m3-4h3m-3 1h3m1 0h3m0 2h3m-3 3h3m-2-6h3m-2 1h3m1 4h3m0-5h3m-1 4h3m1-4h3m0 0h3m1 6h3m-2-2h3m-2-4h3m-1 7h3m-1-2h3m0 0h3m-3 2h3m-1-7h3m-1 1h3m-2 2h3m0 4h3m-1-5h3m-2 3h3m1 0h3m-1-4h3m-2-1h3m-3 4h3m-1-4h3m-3 2h3m-2-1h3m-1 2h3m-1 0h3m-3 4h3m-2-6h3m-2 4h3m-3 1h3m-2 0h3m0-4h3m-2 2h3m-2 1h3m-3 1h3m-2-6h3m-1 1h3m-3 1h3m-3 3h3m-1-1h3m0-2h3m-2 2h3m3 2h3m-2-2h3m-1-3h3m-3 1h3m-1 0h3m-3 1h3m-2 3h3m-3 1h3m0-2h3m-3 1h3m-1-2h3m-2 0h3m-1-5h3m-3 2h3m-2-1h3m-3 1h3m-3 1h3m-3 3h3m-2 1h3m-1-4h3m-2-1h3m-3 4h3m-2-1h3m-3 1h3m-3 2h3m-2-2h3m-2-4h3m-3 5h3m-2-6h3m-2-1h3m-3 1h3m-2 0h3m-3 2h3m-3 4h3m-2-6h3m-3 2h3m-2 0h3m-2-2h3m-3 4h3m-3 2h3m-2-7h3m-3 5h3m-2-4h3m-2-1h3m-2 3h3m0 4h3m-2-4h3m-3 4h3m-1-7h3m-3 4h3m-2-4h3m-3 1h3m-3 5h3m-2-1h3m-2 0h3m-2-5h3m-3 1h3m-3 1h3m-3 2h3m-2-1h3m0 1h3m1-1h3m-2 3h3m-1-4h3m-3 2h3m-3 1h3m-1-3h3m-3 1h3m1-3h3m-2 3h3m-2-2h3m-3 1h3m-1 5h3m-2-6h3m-1 3h3m-2-2h3m-2 2h3m-2-4h3m0 5h3m-1-1h3m4-1h3m-2-3h3m-3 2h3m3 2h3m-2-3h3m-7 12h3m-8-1h3m-3-2h3m-5 5h3m-4-1h3m-6-2h3m-8 0h3m-11 3h3m-3-5h3m-7 3h3m-4-5h3m-6 1h3m-5 1h3m-8 4h3m-4-4h3m-4 2h3m-4 0h3m-3-2h3m-3-2h3m-4 6h3m-4 0h3m-3-5h3m-3-1h3m-4 8h3m-4-5h3m-4 4h3m-3-1h3m-3-4h3m-3-1h3m-4 4h3m-3-3h3m-3-1h3m-3-1h3m-4 3h3m-4 1h3m-4-2h3m-6 5h3m-3-5h3m-4 1h3m-3-2h3m-4 6h3m-3-5h3m-5 2h3m-4 0h3m-3-3h3m-5 3h3m-3-2h3m-5 3h3m-4 2h3m-3-7h3m-4 4h3m-5 3h3m-3-1h3m-3-2h3m-3-2h3m-4 6h3m-3-2h3m-3-5h3m-5 2h3m-5 3h3m-3-1h3m-3-5h3m-4 0h3m-4 2h3m-4 6h3m-3-3h3m-6 1h3m-4-1h3m-5-2h3m-7-2h3m-7 6h3m-3-7h3m-4 1h3m-8-1h3m-4 7h3m-3-1h3m-3-5h3m-6 7h3m-3-1h3m-3-4h3m-4-1h3m-8 2h3m-3-1h3m-6 4h3m-3-3h3m-3-2h3m-3-1h3m-6 0h3m-4 6h3m-3-5h3m-6 6h3m-4-2h3m-3-4h3m-5 1h3m-4 4h3m-3-2h3m-4 0h3m-5-5h3m-4 8h3m-5-5h3m-5-1h3m-4 6h3m-6-2h3m-4-5h3m-4 0h3m-4 3h3m-5-1h3m-3-1h3m-6-1h3m-5 7h3m-3-7h3m-8-1h3m-4 5h3m-3-3h3m-7 6h3m-9-5h3m-4-1h3m-4 2h3m-4 3h3m-16-6h3m-4 3h3m-6-1h3m-17 1h3m-3-3h3m-6 7h3m-9-6h3m-13-1h3m-10 1h3m-5 4h3m-6-5h3m-11 1h3m-8 5h3m-3-1h3m-3-2h3m-3-1h3m-4 3h3m-4-2h3m-6 4h3m-5-2h3m-3-1h3m-9-1h3m-7 0h3m-5 1h3m-13 1h3m-4 1h3m-6-4h3m-10 0h3m-5-3h3m-5 2h3m-24-1h3m-197 2h3m-8 1h3m-6-2h3m-10-2h3m-6 3h3m-3-2h3m-4 2h3m-6 2h3m-5 1h3m-4 0h3m-6 1h3m-3-5h3m-3-1h3m-9 0h3m-4 4h3m-6 2h3m-3-5h3m-4-2h3m-4 2h3m-4 4h3m-3-6h3m-5 7h3m-4 0h3m-3-6h3m-6 1h3m-4 4h3m-3-4h3m-4 2h3m-3-2h3m-3-1h3m-4 4h3m-4 2h3m-3-2h3m-3-1h3m-3-1h3m-5 3h3m-4-3h3m-3-1h3m-4 3h3m-4 2h3m-3-3h3m-3-3h3m-4 4h3m-3-3h3m-4 1h3m-4 0h3m-4 2h3m-4 2h3m-3-3h3m-6-3h3m-5-1h3m-4 4h3m-3-1h3m-3-2h3m-8 7h3m-3-7h3m-5 3h3m-4 2h3m-5 1h3m-5-2h3m-4 1h3m-3-2h3m-5-2h3m-3-2h3m-4 7h3m-3-5h3m-4 2h3m-4-3h3m-5 2h3m-4 2h3m-3-3h3m-3-1h3m-4 7h3m-3-3h3m-4 2h3m-3-5h3m-5 3h3m-3-3h3m-4 1h3m-4 2h3m-4 0h3m-5 0h3m-4 3h3m-5-6h3m-5 5h3m-7-4h3m-4 5h3m-10-7h3m-5 1h3m-6 1h3m-4 1h3m-5 4h3m-4-1h3m-3-4h3m-16 0h3m-7 1h3m-9 2h3m-11-2h3m-6 0h3m-5 0h3m-5 3h3m-3-4h3m-3-1h3m-4 3h3m-3-4h3m-5 3h3m-11 0h3m-7 2h3m-8-3h3m-9 4h3m-7-1h3m-13-1h3m-3-2h3m-388 0h3m-5-1h3m-14 5h3m-8-6h3m-4 6h3m-5 0h3m-3-5h3m-6 0h3m-6 3h3m-3-1h3m-3-2h3m-7 2h3m-6 2h3m-3-5h3m-4 1h3m-5-1h3m-4 4h3m-12-4h3m-6 6h3m-4 0h3m-5 0h3m-7-5h3m-4-2h3m-11 7h3m-6-2h3m-3-4h3m-5-1h3m-4 3h3m-5-3h3m-5 3h3m-4-1h3m-4 0h3m-7 6h3m-6-3h3m-11-1h3m-6 0h3m-4-3h3m-4 6h3m-7 0h3m-7-2h3m-11 2h3m-4-3h3m-14-3h3m-9 0h3m-28 0h3m-41 7h3m-26-6h3m-11-1h3m-42 11h3m36 0h3m-1-3h3m-1 2h3m39 4h3m4-3h3m0 0h3m31 4h3m11-3h3m-3 1h3m4-2h3m6-1h3m-2 0h3m0 4h3m-2-3h3m1 2h3m1-2h3m-3 1h3m0 2h3m-2-4h3m-2-3h3m0 0h3m-2 5h3m-1-5h3m-3 1h3m-1 5h3m-2 2h3m-2-6h3m-3 5h3m-2-4h3m-2 2h3m9-4h3m-2 6h3m-2 0h3m-1-4h3m-1 1h3m-3 2h3m6-1h3m-2-4h3m-3 4h3m-1-4h3m-3 2h3m-3 2h3m4-3h3m-3 5h3m0-7h3m-3 1h3m-3 5h3m7-5h3m-1 5h3m2-1h3m-1 0h3m2 0h3m4 3h3m20 0h3m344-2h3m17-4h3m18 6h3m0-2h3m0 1h3m-1-1h3m8-5h3m5 3h3m7 0h3m-1-1h3m4 3h3m-3 1h3m6-4h3m-2-1h3m-1 2h3m-2 0h3m-3 2h3m-2-6h3m0 2h3m-1 2h3m-1-2h3m-3 4h3m-1 2h3m-2-3h3m-1-4h3m3 6h3m0-3h3m-1-1h3m0 2h3m1 0h3m-2-1h3m-3 1h3m-2 2h3m1-2h3m-2 0h3m-3 3h3m-2-1h3m-1-4h3m-3 1h3m-3 3h3m-2-1h3m-2-1h3m-3 1h3m-3 1h3m-2-4h3m-3 1h3m-2-4h3m-3 3h3m-2 1h3m1-3h3m-2 1h3m-1 5h3m0-5h3m-3 2h3m-2 3h3m0-1h3m2 1h3m-2-3h3m-3 3h3m3-6h3m1-1h3m-3 5h3m-1 3h3m-1-1h3m0-4h3m-3 4h3m-2-4h3m-3 2h3m-3 3h3m-2-6h3m-2 4h3m2-4h3m-2 4h3m-2-1h3m-2 3h3m-1-4h3m222 1h3m16-2h3m2 5h3m-1-5h3m-2 2h3m2 2h3m-2-3h3m-1 3h3m-1-7h3m0 2h3m-1 4h3m1-4h3m-2 5h3m-1-6h3m3 2h3m-2-3h3m-1 6h3m-1-3h3m0-1h3m-2-2h3m-2 7h3m-1-4h3m-1-1h3m-3 6h3m-2-5h3m-2 3h3m5-4h3m-3 1h3m-2 2h3m-3 1h3m-2-5h3m0 2h3m1 4h3m-1-2h3m7-1h3m10 2h3m-1-2h3m-2 1h3m3-1h3m1 0h3m-3 3h3m-2-1h3m2 1h3m0-3h3m-3 3h3m1-4h3m0-2h3m-1 2h3m-2 0h3m1-1h3m0 0h3m1 1h3m-1 4h3m-1-1h3m1 0h3m-2 1h3m-2 0h3m-1-1h3m-1-2h3m-1 0h3m-3 1h3m0-2h3m-3 4h3m-1-6h3m-3 3h3m-3 2h3m-1-2h3m-3 2h3m-1-2h3m-2-1h3m-2 2h3m-2-2h3m3-1h3m-2-2h3m-3 1h3m-3 3h3m-3 4h3m-1-4h3m0-3h3m-1 6h3m-2-3h3m-2-4h3m-2 7h3m-3 1h3m-2-8h3m3 0h3m-3 5h3m-2-5h3m-3 4h3m-2-3h3m-2 6h3m-3 1h3m-2-3h3m-1-2h3m-3 3h3m-2-4h3m0 5h3m1-6h3m-3 5h3m-2-5h3m-3 2h3m-1 2h3m-3 1h3m-1-2h3m-3 2h3m-2 1h3m0-7h3m-2 5h3m-2-1h3m0-3h3m-3 3h3m-3 3h3m-1-6h3m-3 1h3m-2 0h3m-1 0h3m-3 1h3m2 0h3m-3 2h3m1-2h3m-2-2h3m-3 7h3m2-5h3m0 4h3m-2-2h3m-3 1h3m-2-2h3m0 2h3m0-2h3m7 0h3m-2 1h3m-1 0h3m0 0h3m3 1h3m2-3h3m0 3h3m-2-2h3m-3 10h3m-15-4h3m-3-2h3m-4 5h3m-4 3h3m-4-2h3m-6-5h3m-8 3h3m-3-1h3m-5 3h3m-15-1h3m-10 2h3m-6-1h3m-5-2h3m-3-3h3m-5 0h3m-5 5h3m-3-4h3m-6-1h3m-13 1h3m-4-2h3m-4 2h3m-4 6h3m-10-7h3m-9 1h3m-5 5h3m-4-5h3m-4 4h3m-5-1h3m-3-1h3m-6-2h3m-5 6h3m-4-4h3m-3-2h3m-4-2h3m-5 1h3m-6-1h3m-10 2h3m-7 5h3m-3-3h3m-6 0h3m-8 0h3m-3-2h3m-9 4h3m-4 0h3m-3-5h3m-4 0h3m-3-1h3m-4 7h3m-3-5h3m-6 5h3m-4 0h3m-7-1h3m-5 1h3m-3-1h3m-5 2h3m-6-4h3m-9-3h3m-4 5h3m-4 0h3m-3-4h3m-4-1h3m-15 4h3m-6 2h3m-8-5h3m-5-1h3m-10 1h3m-6 3h3m-9-1h3m-17 2h3m-8-4h3m-6 4h3m-7 2h3m-3-6h3m-4 0h3m-4-1h3m-6 5h3m-4 0h3m-12 1h3m-3-3h3m-4 4h3m-6-6h3m-10-1h3m-12 0h3m-5 4h3m-5-4h3m-6 0h3m-5 2h3m-6-2h3m-5-1h3m-13 1h3m-8 1h3m-12 3h3m-211-2h3m-11 2h3m-11 0h3m-13-3h3m-6-2h3m-5 1h3m-6 4h3m-3-3h3m-4 2h3m-4 2h3m-3-2h3m-6 2h3m-3-1h3m-6-2h3m-4 4h3m-5-4h3m-6 1h3m-5-3h3m-5 4h3m-3-2h3m-5 3h3m-3-3h3m-6 2h3m-4-2h3m-3-1h3m-4 3h3m-4-3h3m-5-1h3m-6 2h3m-3-1h3m-3-1h3m-4 2h3m-3-3h3m-4 6h3m-3-5h3m-4 6h3m-3-3h3m-5 1h3m-5-3h3m-5 4h3m-4-4h3m-4 4h3m-3-4h3m-5 6h3m-6 0h3m-5-2h3m-4 1h3m-4-2h3m-7-4h3m-5 3h3m-4 4h3m-7-7h3m-4 1h3m-4 0h3m-4-2h3m-5 2h3m-7 1h3m-4 3h3m-3-1h3m-3-1h3m-5 0h3m-3-3h3m-4 2h3m-5-1h3m-4 3h3m-3-4h3m-6 4h3m-4-2h3m-4-1h3m-4 6h3m-3-8h3m-5 8h3m-3-1h3m-3-2h3m-4-3h3m-4 2h3m-6-4h3m-7 2h3m-6 6h3m-3-1h3m-9-3h3m-6 1h3m-9 0h3m-5-1h3m-7 1h3m-4 1h3m-7-4h3m-7 3h3m-4-5h3m-7 3h3m-14 5h3m-4-6h3m-4 2h3m-3-3h3m-26 5h3m-90 0h3m-9-1h3m-274-3h3m-19 2h3m-10 1h3m-4 2h3m-13-2h3m-4 1h3m-13-4h3m-5 3h3m-3-4h3m-5 3h3m-7 3h3m-3-3h3m-3-1h3m-5-2h3m-3-1h3m-6 8h3m-3-1h3m-4 1h3m-3-1h3m-5-3h3m-7-2h3m-4 5h3m-6 0h3m-10-1h3m-3-5h3m-6 7h3m-3-1h3m-3-6h3m-5 6h3m-7-7h3m-4 3h3m-4-2h3m-9 2h3m-5 5h3m-10-6h3m-4 3h3m-4 2h3m-4-4h3m-4 2h3m-6-2h3m-3-2h3m-3-1h3m-4 3h3m-4 3h3m-6-3h3m-3-3h3m-4 8h3m-4 0h3m-4-6h3m-4 2h3m-6 2h3m-3-1h3m-9-3h3m-10 0h3m-21-1h3m-53 1h3m-16 6h3m-8 0h3m-4-5h3m-3-2h3m-9 3h3m-7 2h3m-7 2h3m-25-6h3m-13 5h3m-16-4h3m-9 8h3m4 3h3m16-3h3m0 0h3m-1 2h3m-2-5h3m6 7h3m3-3h3m-1 0h3m21-2h3m16 3h3m29-4h3m11 6h3m3-2h3m-2 1h3m2-2h3m2 4h3m-1-1h3m2-1h3m6-2h3m-2-3h3m5 4h3m-1-3h3m-2 1h3m-3 2h3m4-2h3m-2 0h3m-2 3h3m1-5h3m-2 2h3m-3 3h3m-2-4h3m-2 0h3m0 0h3m-1-2h3m-3 2h3m-3 3h3m-1-4h3m2 6h3m2-5h3m1 2h3m0-1h3m2 4h3m-1-5h3m-1-2h3m1 2h3m0-2h3m1 3h3m-2 3h3m-1-5h3m-2 3h3m1 2h3m-1-6h3m-2 1h3m5 3h3m4 1h3m4-2h3m271 4h3m27 0h3m11 1h3m51-6h3m-2 2h3m-2 3h3m-1-4h3m10 1h3m-1 1h3m2 1h3m-3 1h3m18-1h3m3-1h3m5-1h3m-2-2h3m-3 3h3m-1-2h3m2-2h3m-3 1h3m-3 5h3m-2-5h3m-3 3h3m-2 1h3m1-6h3m-3 1h3m-3 3h3m-3 4h3m1-1h3m0-7h3m-3 4h3m-1-1h3m-2 3h3m2-4h3m-1-1h3m-1 0h3m1 4h3m-2-2h3m0-2h3m-1 7h3m-2-6h3m0 6h3m-2-3h3m-3 2h3m0-7h3m1 3h3m2 3h3m-2 2h3m-2-8h3m-3 2h3m-3 4h3m4 1h3m-2 0h3m-3 1h3m3-1h3m-3 1h3m1-3h3m-2 2h3m-1-5h3m-3 1h3m-3 4h3m-2-4h3m-2-2h3m-2 3h3m-1 0h3m-1-3h3m3 5h3m-1-2h3m1-2h3m-2 3h3m0 2h3m-2-2h3m-2-3h3m-2 4h3m-2 0h3m20-1h3m1-4h3m-3 3h3m200 0h3m30-3h3m-3 5h3m3-4h3m14 1h3m-2 2h3m0-5h3m-3 1h3m2-1h3m-3 7h3m1-5h3m2-2h3m-3 4h3m-1 0h3m-1-4h3m-2 3h3m-2 2h3m11-4h3m-1 5h3m2-2h3m2-1h3m18 1h3m-3 1h3m-1-4h3m-3 5h3m-3 1h3m3 0h3m2-1h3m-2-4h3m-2-2h3m7 3h3m2 5h3m-1-7h3m-2 7h3m1-4h3m-3 1h3m-2-3h3m3-1h3m-1 0h3m-2 4h3m-1-4h3m-1 2h3m-2 1h3m1-1h3m-3 5h3m0-4h3m-1 1h3m0-4h3m-1 0h3m-2 0h3m-3 3h3m-2 1h3m-2 3h3m1-8h3m-1 3h3m4-1h3m-2 0h3m1 4h3m-3 1h3m2-3h3m2-1h3m-3 2h3m-1-2h3m-2 2h3m-2 0h3m-2-3h3m-3 2h3m-3 1h3m0-4h3m-2 6h3m0-2h3m2 0h3m-2-2h3m-2-2h3m-1 1h3m-2 1h3m4 3h3m0-3h3m1 4h3m3-2h3m3-4h3m10 7h3m1-4h3m-24 6h3m-12 0h3m-6 2h3m-5-1h3m-4 3h3m-11-1h3m-7-2h3m-7-3h3m-11 6h3m-8 0h3m-6-1h3m-3-1h3m-10 1h3m-3-5h3m-6 3h3m-3-2h3m-8 1h3m-4 5h3m-5-1h3m-4-1h3m-4-3h3m-4-1h3m-4 4h3m-8 3h3m-8 0h3m-6-4h3m-5 0h3m-7-1h3m-3-2h3m-20 2h3m-9-3h3m-7 7h3m-4-1h3m-12 2h3m-8-2h3m-4-5h3m-4 6h3m-4-6h3m-4 3h3m-17-1h3m-15-2h3m-15 1h3m-4 0h3m-5 2h3m-7 0h3m-6-3h3m-5 0h3m-7 6h3m-12-4h3m-6 0h3m-11 1h3m-9-4h3m-10 6h3m-4-6h3m-7 7h3m-5-2h3m-14-3h3m-14 4h3m-5-5h3m-11 7h3m-220-7h3m-6 1h3m-10 1h3m-16 2h3m-3-3h3m-5 4h3m-3-4h3m-8 6h3m-3-7h3m-10 6h3m-15-6h3m-4 6h3m-3-4h3m-5 5h3m-5-7h3m-4 0h3m-4 1h3m-4 6h3m-7-6h3m-4 2h3m-4-1h3m-3-1h3m-8 1h3m-16-1h3m-5 2h3m-4 1h3m-5-2h3m-17 5h3m-4-7h3m-19 0h3m-4 6h3m-5-2h3m-3-5h3m-11 0h3m-8 7h3m-5-1h3m-5-2h3m-3-2h3m-7 3h3m-8-3h3m-11-1h3m-5 5h3m-5-4h3m-4 5h3m-4-7h3m-5 5h3m-8-4h3m-4 1h3m-13-2h3m-8 4h3m-6-1h3m-4-2h3m-4 4h3m-7-2h3m-3-2h3m-21-1h3m-55 0h3m-4 3h3m-3-2h3m-7-1h3m-307 6h3m-13-1h3m-6-3h3m-5-1h3m-10 6h3m-5-2h3m-6-4h3m-7 7h3m-7-6h3m-7 5h3m-3-2h3m-8-3h3m-4 5h3m-6-2h3m-5-1h3m-4 2h3m-4-2h3m-9 0h3m-4 0h3m-4-2h3m-5 2h3m-9 2h3m-4-1h3m-7 1h3m-5-6h3m-8 7h3m-4-6h3m-4 3h3m-5-1h3m-5 1h3m-7 1h3m-4 2h3m-3-5h3m-4-1h3m-4 7h3m-5-8h3m-4 7h3m-5-4h3m-3-1h3m-6 4h3m-6-1h3m-3-2h3m-5 0h3m-37 1h3m-41 1h3m-20-2h3m-4 2h3m-15 2h3m-17-3h3m-10 2h3m-21-2h3m-21-2h3m-8 12h3m25 0h3m-2 2h3m12-2h3m17 1h3m15-3h3m0 3h3m2-5h3m2 2h3m28-3h3m10 3h3m0-1h3m-1 5h3m8-8h3m0 1h3m-1 4h3m-3 1h3m6-2h3m1 1h3m-2 1h3m-1-2h3m3 2h3m-1-4h3m-3 1h3m-3 2h3m1-1h3m-3 3h3m-1-2h3m1-4h3m-1 4h3m-2-2h3m-2 5h3m-2-4h3m4-2h3m-3 1h3m4-3h3m2 1h3m2 4h3m3-3h3m2 1h3m-3 3h3m2-5h3m0 0h3m5 1h3m4 0h3m5 6h3m-1-3h3m13-5h3m3 6h3m264-5h3m6 6h3m11-6h3m4 5h3m28-3h3m1 2h3m15-2h3m11 1h3m-2 1h3m-2 0h3m17 0h3m-1 2h3m-2-7h3m5 5h3m3 2h3m6-3h3m-2-2h3m-1 4h3m6-5h3m1-1h3m-3 1h3m-2 4h3m0-1h3m1-2h3m-2-2h3m9 4h3m1-1h3m-3 3h3m-2-2h3m8-4h3m-3 4h3m-2-3h3m-2 3h3m-3 1h3m-3 3h3m-2-3h3m-1-1h3m-2 0h3m4-4h3m1 1h3m-2 4h3m1-3h3m2 1h3m-2 0h3m-2 3h3m-1-5h3m-2 1h3m-1-2h3m-1 0h3m-2 0h3m-2 1h3m0 4h3m-2-4h3m-1 6h3m-1-5h3m-2 4h3m6-3h3m0-2h3m2 2h3m1-2h3m-2 1h3m3 1h3m1 3h3m-2 0h3m242-5h3m-3 5h3m-2-3h3m4 0h3m3 3h3m-1 2h3m-2-4h3m-1 2h3m4 0h3m0-3h3m-2 5h3m12-7h3m2 7h3m3-5h3m1-2h3m-1 6h3m4-6h3m2 2h3m23-2h3m13 0h3m1 3h3m5 2h3m1-5h3m-3 6h3m-1 0h3m4-5h3m-3 6h3m0-5h3m1 0h3m6 0h3m-2-2h3m2 7h3m1-6h3m-2-1h3m14 4h3m0 1h3m-1-6h3m1 1h3m-2 2h3m-3 2h3m0 2h3m5-3h3m-2-4h3m-1 5h3m-2 2h3m5-4h3m7-1h3m-3 1h3m-3 1h3m-1-2h3m-2 5h3m-2-6h3m4 1h3m4 3h3m-2-4h3m8 7h3m8 2h3m-20-1h3m-15 4h3m-4 2h3m-3-2h3m-3-1h3m-7-3h3m-8 1h3m-4 0h3m-16-1h3m-11 3h3m-5 1h3m-7 0h3m-8 2h3m-4-7h3m-6 3h3m-5-2h3m-4 2h3m-10-1h3m-4 1h3m-4-1h3m-4 4h3m-9-6h3m-6 0h3m-5 3h3m-6-1h3m-8 0h3m-5-1h3m-4 3h3m-14 4h3m-8-7h3m-9 7h3m-6-7h3m-9 1h3m-4 0h3m-4 3h3m-4 2h3m-3-7h3m-11 1h3m-9 2h3m-4 0h3m-6 2h3m-8 3h3m-15-6h3m-18 5h3m-10-4h3m-10 1h3m-5 0h3m-22-3h3m-4 1h3m-23-1h3m-17 1h3m-16 3h3m-11-5h3m-216 2h3m-13 3h3m-5 2h3m-3-2h3m-3-5h3m-6 1h3m-5 1h3m-9 0h3m-9 4h3m-17-4h3m-5 0h3m-3-2h3m-8 5h3m-3-1h3m-4-1h3m-9 3h3m-3-4h3m-9 0h3m-9-1h3m-5 3h3m-4 0h3m-5 0h3m-4 2h3m-4 0h3m-3-3h3m-5 4h3m-4-5h3m-7 4h3m-5-5h3m-9 1h3m-10 3h3m-8 3h3m-4-6h3m-3-1h3m-5 3h3m-9-1h3m-3-1h3m-7-1h3m-4 6h3m-6-5h3m-17 3h3m-7-1h3m-7 3h3m-9-3h3m-4 4h3m-9-4h3m-3-3h3m-9 6h3m-4-5h3m-4 1h3m-6-2h3m-7 7h3m-5-2h3m-7-1h3m-15 2h3m-3-3h3m-12 2h3m-4-1h3m-50 2h3m-20 0h3m-23 0h3m-324-5h3m-19 0h3m-4 2h3m-7-3h3m-10 7h3m-4-4h3m-7-2h3m-4 6h3m-3-4h3m-4 0h3m-3-2h3m-4 0h3m-15 4h3m-4-3h3m-6 4h3m-4-5h3m-6 1h3m-5 5h3m-3-1h3m-3-3h3m-13 1h3m-4 2h3m-4-5h3m-11 3h3m-3-1h3m-5-2h3m-16 0h3m-3-1h3m-6 0h3m-4 6h3m-5-2h3m-3-1h3m-3-2h3m-6-1h3m-35 6h3m-26-2h3m-8 0h3m-4 3h3m-6-3h3m-25-1h3m-3-2h3m-12 2h3m-6 1h3m-9 0h3m-22-1h3m-24 6h3m40 4h3m4-1h3m3-1h3m5 4h3m9-1h3m-1-5h3m0 2h3m0 1h3m39-1h3m6-4h3m-3 3h3m11-1h3m-2 4h3m8-6h3m-1 3h3m-2 5h3m-1 0h3m0-4h3m1 3h3m0 0h3m6-2h3m0-5h3m-2 6h3m0 2h3m7-6h3m0 3h3m-3 1h3m9 2h3m-2-8h3m1 4h3m-1-3h3m4 0h3m-2 2h3m-1-1h3m13 5h3m287 0h3m8-7h3m14 3h3m5 3h3m1-5h3m11 5h3m53 1h3m1-4h3m17-1h3m-2 3h3m-2 3h3m-1-3h3m0-4h3m-1 6h3m4-4h3m0 0h3m-3 2h3m-2-5h3m-3 8h3m0-5h3m-3 2h3m-1 2h3m-2-2h3m2 2h3m-2 0h3m2-5h3m1 3h3m0-1h3m-1-1h3m4 3h3m-2-5h3m0 4h3m-2-5h3m1 2h3m-2 4h3m2-3h3m2-2h3m-3 7h3m2-1h3m-1-4h3m3-3h3m-1 4h3m12-3h3m0 1h3m5 1h3m-3 2h3m-1-4h3m3 6h3m0-3h3m2 0h3m-3 1h3m4 0h3m8-3h3m6 4h3m13 2h3m205-6h3m12 4h3m15 0h3m-2-2h3m7 2h3m5-2h3m-1 0h3m-3 2h3m3-2h3m8-1h3m-1 1h3m2-3h3m6 2h3m0 4h3m-2-2h3m8 1h3m0-6h3m11 3h3m11 2h3m4 1h3m1 1h3m-2 0h3m-2-2h3m3 2h3m2-2h3m0-5h3m-2 7h3m5 0h3m-1-6h3m7-1h3m-3 4h3m1-2h3m-1-2h3m4 1h3m14 3h3m1-1h3m-1-2h3m5 5h3m2-6h3m2 3h3m-3 4h3m-1-5h3m-3 1h3m18 4h3m26 4h3m-9 1h3m-3-2h3m-17 0h3m-7-1h3m-14 3h3m-7 2h3m-13 0h3m-10-3h3m-8-1h3m-10 4h3m-16-4h3m-6 3h3m-5-1h3m-6-1h3m-7 2h3m-10-3h3m-7 4h3m-4-5h3m-6 0h3m-4-1h3m-6 5h3m-5 0h3m-11-3h3m-10 4h3m-9 1h3m-8-4h3m-32-1h3m-22-2h3m-8 1h3m-7 0h3m-23 3h3m-8-2h3m-16 3h3m-4-3h3m-15-2h3m-14 2h3m-8 4h3m-18-2h3m-14 0h3m-211-3h3m-20 4h3m-23 2h3m-20-5h3m-16-2h3m-6 2h3m-4 2h3m-3-2h3m-6 3h3m-10 0h3m-11-1h3m-6 1h3m-7-3h3m-10 3h3m-5 3h3m-5-3h3m-3-3h3m-7 5h3m-5-4h3m-5-3h3m-4 6h3m-3-3h3m-10 4h3m-3-2h3m-7 0h3m-12-2h3m-3-2h3m-8 5h3m-4-5h3m-8 1h3m-6-1h3m-10 4h3m-5 0h3m-4 2h3m-5-5h3m-8 3h3m-8-4h3m-23 3h3m-41-1h3m-14 2h3m-3-2h3m-13 0h3m-50 0h3m-3-1h3m-272 1h3m-37 4h3m-17-4h3m-9 2h3m-4-2h3m-5 5h3m-9-1h3m-3-3h3m-4-3h3m-8 6h3m-4-2h3m-4-5h3m-6 3h3m-8-2h3m-10-1h3m-7 6h3m-10-2h3m-9 0h3m-4 1h3m-4 3h3m-5-2h3m-6-3h3m-4-2h3m-4 6h3m-6-3h3m-6 2h3m-3-2h3m-24 1h3m-20 2h3m-44-5h3m-7 0h3m-9-2h3m-7 7h3m-11 0h3m-14-1h3m-9-4h3m-13 1h3m-9 0h3m-7 3h3m-21-3h3m24 6h3m13 2h3m-1 2h3m7-1h3m3-3h3m1 3h3m29-1h3m30 3h3m-2-1h3m2-5h3m7 2h3m-1 4h3m5 1h3m-2-7h3m-3 3h3m-1 2h3m0 1h3m-2-1h3m2-4h3m-2 6h3m-2 0h3m1-4h3m17-2h3m28 5h3m1-3h3m5 0h3m12 3h3m271-2h3m30 3h3m8-4h3m6-3h3m2 4h3m25 2h3m10-5h3m-3 4h3m3-5h3m16 8h3m-1-5h3m0 2h3m-1-4h3m10 6h3m8-3h3m-1-2h3m-1 3h3m-2-3h3m-3 3h3m12-3h3m0 0h3m-3 4h3m-3 1h3m6 1h3m10-6h3m1 0h3m-1 6h3m-1-7h3m0 2h3m1-1h3m5 5h3m6-3h3m16-1h3m-2 4h3m-2 0h3m7 1h3m20-7h3m9 5h3m4-1h3m2 0h3m5-1h3m202-3h3m9-1h3m-1 7h3m41-3h3m-2 3h3m0-1h3m8-2h3m7 0h3m-2 2h3m-2 0h3m9-2h3m20-4h3m19 0h3m-1 4h3m5-3h3m14 2h3m2-2h3m7 3h3m-2 1h3m-1 0h3m-2-3h3m-2-1h3m1 6h3m0-7h3m-2 0h3m3 1h3m-1 2h3m3-1h3m4 2h3m38 3h3m23-6h3m6 5h3m-29 5h3m-5 3h3m-34 0h3m-4-5h3m-4 5h3m-10-3h3m-6 2h3m-4-1h3m-9-1h3m-6 0h3m-11 4h3m-6-2h3m-14-1h3m-4-2h3m-5 5h3m-5-6h3m-8 7h3m-16-7h3m-4 6h3m-39-5h3m-13 2h3m-41 3h3m-25 1h3m-9-7h3m-39 2h3m-241-3h3m-29 6h3m-24-6h3m-4 4h3m-26-2h3m-27 3h3m-6-5h3m-15 5h3m-10-4h3m-4 5h3m-8-4h3m-5 0h3m-4 5h3m-5 1h3m-15-7h3m-6 0h3m-5 3h3m-4-3h3m-4 6h3m-17 1h3m-5-3h3m-10-1h3m-5 3h3m-7 0h3m-4-6h3m-4 0h3m-57 6h3m-12-2h3m-3-4h3m-31 6h3m-281 1h3m-26-4h3m-69 1h3m-5 0h3m-13-5h3m-8 1h3m-7 7h3m-5-7h3m-4 6h3m-3-5h3m-6 5h3m-3-2h3m-5-5h3m-77 3h3m-9-2h3m-36 3h3m-29 4h3m4 4h3m8 0h3m12-3h3m-2 4h3m72-3h3m26 4h3m-2 0h3m6 0h3m-1-5h3m0 1h3m-3 2h3m-2 2h3m13-3h3m2 1h3m8-3h3m4 2h3m8 3h3m25 0h3m301-4h3m12 1h3m3 3h3m5-1h3m10 1h3m42-5h3m3 2h3m6 5h3m18-7h3m2-1h3m4 2h3m-3 5h3m-1-3h3m2 3h3m0-6h3m26-1h3m-3 4h3m3-4h3m11 4h3m14-2h3m17 5h3m5-3h3m4 0h3m2 4h3m17-5h3m7 4h3m228-5h3m18-1h3m2 1h3m4 4h3m2-3h3m-2 4h3m3-3h3m0 2h3m2-1h3m6-1h3m-1 4h3m36-7h3m43 3h3m-2-4h3m14 5h3m3-4h3m4 6h3m8-1h3m1 0h3m1-6h3m0 3h3m3 0h3m-3 1h3m-1 4h3m32 0h3m29 0h3m-37 2h3m-23-2h3m-8 7h3m-22-2h3m-7-2h3m-3-3h3m-10 4h3m-14-2h3m-14 1h3m-10 1h3m-13-3h3m-14 7h3m-23-4h3m-9 3h3m-14-1h3m-5 0h3m-24-5h3m-6 4h3m-26 1h3m-26 0h3m-12-3h3m-8 0h3m-40 2h3m-241 0h3m-14-5h3m-13 0h3m-26 7h3m-4-6h3m-4 5h3m-20-1h3m-20-3h3m-8 4h3m-8 1h3m-4-4h3m-9 4h3m-14-2h3m-3-2h3m-3-1h3m-6 2h3m-9-1h3m-9 5h3m-6-6h3m-17 5h3m-17-4h3m-11-1h3m-37 1h3m-33 2h3m-9-5h3m-8 3h3m-6 4h3m-11-1h3m-346-6h3m-21 7h3m-15 0h3m-15-5h3m-10 4h3m-3-3h3m-5 3h3m-4-2h3m-4 3h3m-11-4h3m-27 3h3m-31 0h3m-13 0h3m-18-4h3m-47 3h3m-32 1h3m36 7h3m14 2h3m45 0h3m34-5h3m6-1h3m-1 1h3m7 2h3m-1 0h3m38-1h3m364 1h3m12-1h3m49 4h3m14-7h3m36 5h3m1 1h3m5-3h3m27-1h3m17 1h3m21 3h3m40-3h3m-2 3h3m1-5h3m-2 5h3m283 1h3m136-4h3m26-1h3m-2-2h3m26 3h3m-74 5h3m-150 4h3m-15-1h3m-15-3h3m-271 4h3m-127-2h3m-16 0h3m-101-1h3m-408 6h3m-13-3h3m-9-2h3m-6 6h3m-83-8h3m-38 3h3m-35 11h3m150 2h3m408-1h3m12 1h3m51-1h3m3-1h3m16-1h3m10 0h3m27 3h3m18-2h3m-2-2h3m14 1h3m7 2h3m2 0h3m20-2h3m33 0h3m312 0h3m2-2h3m74 5h3m71-4h3m1 7h3m-4 3h3m-8 1h3m-8-3h3m-4 2h3m-15 1h3m-15-4h3m-14-1h3m-3-2h3m-11 2h3m-10 3h3m-5 3h3m-6-4h3m-11-1h3m-30 1h3m-34 2h3m-18 2h3m-5-6h3m-8 4h3m-4 2h3m-5-6h3m-12 2h3m-8 2h3m-20 0h3m-5 0h3m-7 1h3m-7-5h3m-282 0h3m-15 2h3m-22-1h3m-12 0h3m-7 3h3m-12-2h3m-10-2h3m-6 2h3m-6-2h3m-5 3h3m-6 0h3m-8 3h3m-13-4h3m-8 3h3m-10-4h3m-14 1h3m-9-1h3m-4 2h3m-22-4h3m-4 4h3m-10-3h3m-4 1h3m-12-3h3m-19 5h3m-4 2h3m-7-5h3m-7 4h3m-66-5h3m-11 1h3m-19 2h3m-26 2h3m-252-1h3m-15 1h3m-18-2h3m-5-3h3m-29 0h3m-8 3h3m-23-2h3m-26 5h3m-16-1h3m-16 1h3m-13-2h3m-23-4h3m-31 2h3m-6 4h3m-5-4h3m-5 2h3m-14 1h3m-7 0h3m-13 0h3m-5-3h3m-15 4h3m-14-7h3m-7 8h3m-12-1h3m-280-2h3m10 10h3m0-7h3m236 2h3m3 4h3m-3 1h3m1-3h3m-3 3h3m8 0h3m0-1h3m5 1h3m9 0h3m1 0h3m-1-5h3m0-2h3m10 5h3m-2-4h3m8 5h3m11-2h3m9 1h3m35 2h3m14-4h3m-2 4h3m4-3h3m-1 2h3m1 0h3m0-1h3m2 0h3m21 2h3m0 0h3m4-7h3m3 2h3m2-1h3m4 5h3m-1 1h3m-2-2h3m0-4h3m24 2h3m4 0h3m4 4h3m-3 1h3m262-2h3m8 1h3m3-6h3m-1 1h3m-1 6h3m6-5h3m0 0h3m5 3h3m1-2h3m48 0h3m19 1h3m-2 0h3m-2 2h3m7-5h3m0 1h3m5 1h3m-2 3h3m-2-7h3m-3 4h3m25 1h3m1 1h3m-2-5h3m1 5h3m-2-4h3m5 4h3m-2-2h3m-3 3h3m6-5h3m-2-1h3m0 1h3m4 0h3m3 2h3m-2-3h3m-3 3h3m1-2h3m3 1h3m1-2h3m6 1h3m6 5h3m-2 1h3m3-5h3m-1-2h3m10 0h3m-3 5h3m-3 1h3m266-6h3m-2 1h3m-2-2h3m-3 5h3m3 1h3m-2 0h3m10 2h3m1-3h3m-2-4h3m-2 2h3m1 3h3m0-2h3m-3 2h3m-2 0h3m-1-2h3m-3 2h3m-3 1h3m-2-3h3m0-4h3m2 1h3m-2 1h3m-3 4h3m-1-2h3m-3 2h3m0-4h3m1 2h3m-1 1h3m-2-3h3m3-1h3m4 2h3m-3 4h3m2-2h3m1-3h3m0 5h3m-1-2h3m2-4h3m0-1h3m-3 5h3m5-2h3m5-1h3m0 5h3m6-6h3m-3 1h3m-3 6h3m-2-5h3m-1-1h3m-1 1h3m2-2h3m-1 2h3m-1 5h3m0-3h3m3 1h3m6-1h3m-1 3h3m0-2h3m-1-4h3m-2 1h3m-2 5h3m4-6h3m-1 2h3m-1 1h3m1-4h3m5 6h3m0-2h3m10 3h3m4-5h3m-2 4h3m1-3h3m1 2h3m0-2h3m-2 0h3m-3 4h3m0-4h3m-1-2h3m-2 3h3m-2 2h3m3-3h3m-1-3h3m-2 7h3m0-7h3m3 5h3m-1 1h3m2-1h3m-1 3h3m-7 3h3m-6-4h3m-10 1h3m-7 2h3m-4 4h3m-5 0h3m-4-2h3m-5-2h3m-5 4h3m-6 0h3m-14 0h3m-3-2h3m-12-1h3m-5 4h3m-7-3h3m-6 1h3m-4-5h3m-5-1h3m-5 7h3m-9-5h3m-6 1h3m-16 5h3m-7-3h3m-5 1h3m-3-3h3m-4-2h3m-13 6h3m-4 0h3m-5-2h3m-4 1h3m-4-4h3m-8 1h3m-11 2h3m-8-2h3m-4-1h3m-4-2h3m-5 0h3m-6 3h3m-3-1h3m-4 5h3m-3-5h3m-10 1h3m-5 2h3m-3-5h3m-5 1h3m-4 6h3m-4-6h3m-17 0h3m-4 6h3m-5-1h3m-3-3h3m-4 2h3m-5 0h3m-8-1h3m-4-3h3m-6 7h3m-7-5h3m-3-3h3m-9 7h3m-6 0h3m-3-3h3m-4 3h3m-4-7h3m-4 5h3m-4 2h3m-5-4h3m-4 1h3m-3-3h3m-4 2h3m-8 2h3m-5 2h3m-5 0h3m-3-1h3m-4-1h3m-3-4h3m-5 2h3m-3-1h3m-7 2h3m-4-3h3m-5 0h3m-4 4h3m-4-2h3m-4 0h3m-4 4h3m-4-5h3m-3-2h3m-4 6h3m-3-1h3m-3-2h3m-4 4h3m-4 1h3m-3-2h3m-3-1h3m-4 1h3m-6-5h3m-3-1h3m-7 3h3m-4 4h3m-4-1h3m-4-4h3m-4 4h3m-3-3h3m-4 4h3m-4-3h3m-5 2h3m-4-5h3m-5 4h3m-5 0h3m-9-3h3m-3-2h3m-6 4h3m-5-3h3m-9 6h3m-274 1h3m-10-2h3m-4 2h3m-16-1h3m-7-4h3m-4-2h3m-6 2h3m-10 2h3m-7-2h3m-4 1h3m-9-2h3m-5 4h3m-5-1h3m-15 2h3m-6 0h3m-3-2h3m-7 3h3m-20-4h3m-18-3h3m-4 7h3m-3-8h3m-4 7h3m-4-1h3m-8-2h3m-22 0h3m-4 3h3m-5-2h3m-4-5h3m-4 1h3m-5 0h3m-23 4h3m-4 1h3m-14-5h3m-51 2h3m-17 1h3m-3-1h3m-4 3h3m-10 1h3m-3-1h3m-6-3h3m-13-1h3m-5 2h3m-277 4h3m-8-1h3m-3-2h3m-9-1h3m-11 0h3m-4-1h3m-5 0h3m-8 1h3m-13 3h3m-11-2h3m-15 1h3m-4-1h3m-10-3h3m-9 0h3m-6 0h3m-8 4h3m-6-6h3m-6 1h3m-6 5h3m-8-4h3m-3-2h3m-12 0h3m-5 7h3m-8 1h3m-7-3h3m-7 1h3m-16 1h3m-3-5h3m-4 6h3m-6-3h3m-20 2h3m-16-4h3m-5 0h3m-4-3h3m-7 3h3m-6 1h3m-4 2h3m-4 0h3m-13-4h3m-4 0h3m-6 5h3m-4-5h3m-4 0h3m-6 4h3m-16-2h3m-3-3h3m-7 5h3m-3-3h3m-4 1h3m-4 0h3m-5 1h3m-6-1h3m-4 3h3m-3-6h3m-4 0h3m-6 0h3m-5 4h3m-3-3h3m-11-2h3m-10 6h3m-3-2h3m-6-3h3m-4 5h3m-9-5h3m-7 1h3m-5 3h3m-4 2h3m-5-2h3m-5-2h3m-4 0h3m-13-1h3m-12 4h3m-236-1h3m-22-2h3m-31 4h3m15 7h3m-1-2h3m21-4h3m233 2h3m1 3h3m0 2h3m11-6h3m6 0h3m3 4h3m-1-3h3m-1-1h3m-2 2h3m0 2h3m0 0h3m0-5h3m-2 7h3m-1-5h3m-3 2h3m1-3h3m-3 3h3m-3 1h3m2-5h3m-2 5h3m6-2h3m-1-3h3m-2 7h3m-2-1h3m8 0h3m-1-1h3m-2 0h3m-2-4h3m-3 4h3m9 2h3m13-3h3m-1-1h3m0-2h3m1-1h3m3 4h3m-1 4h3m0-4h3m2 0h3m1 3h3m2 0h3m10-4h3m1 0h3m4-3h3m-1 2h3m14 0h3m28 3h3m2-4h3m3 1h3m-1 1h3m-1 0h3m-2-1h3m-1 0h3m16 4h3m1-4h3m3 5h3m266-6h3m8 1h3m-2-1h3m-2 6h3m1-5h3m0-1h3m0 3h3m1 4h3m0-4h3m-3 4h3m2-4h3m-2 0h3m8 0h3m-2 0h3m-2 2h3m-2-3h3m5 5h3m8-2h3m2-1h3m5 2h3m-1-3h3m6 2h3m0-3h3m2-1h3m3-1h3m3 7h3m13-2h3m3-4h3m7 1h3m11 1h3m16-1h3m-2-2h3m-1 1h3m4 3h3m-3 2h3m3 0h3m11-4h3m6-1h3m-3 3h3m-1 2h3m-2-4h3m4 3h3m-2-1h3m-1-1h3m2 1h3m-2-2h3m-1 2h3m6 0h3m5 1h3m11-1h3m0-1h3m259-3h3m0 0h3m1 0h3m-2 7h3m-2-3h3m1-2h3m1-1h3m-3 4h3m0-4h3m0 1h3m-3 4h3m-2-4h3m-1-2h3m1 2h3m-1 0h3m-3 4h3m1-6h3m-2 0h3m-1 0h3m-3 4h3m-2-3h3m-2 0h3m-3 4h3m-2-4h3m-2 0h3m-1 2h3m-3 2h3m0-1h3m1 0h3m-3 2h3m1-7h3m-3 5h3m-3 3h3m-2-6h3m-2 1h3m-2-3h3m-3 2h3m-3 1h3m2 1h3m-2 0h3m0 0h3m-1-4h3m-3 7h3m-2-6h3m0 2h3m-1 3h3m1-4h3m-3 2h3m0 0h3m-1 3h3m-1-1h3m0-5h3m3 5h3m-3 2h3m8-7h3m4 0h3m-3 3h3m21-2h3m-3 1h3m-2 0h3m-1-2h3m9 0h3m-3 4h3m0-2h3m-3 2h3m-1 1h3m11-5h3m-2 4h3m-3 1h3m3-3h3m-3 4h3m11-4h3m1 5h3m-2-3h3m4-5h3m5 3h3m2 4h3m-2-5h3m-2 3h3m7-1h3m0 0h3m-3 2h3m-2-4h3m8 1h3m-1 0h3m2-2h3m-3 5h3m-2 1h3m-2-3h3m1-2h3m2 0h3m20 5h3m-20 9h3m-33-6h3m-32-1h3m-20 3h3m-21 0h3m-23 3h3m-9 0h3m-40-2h3m-4-1h3m-4 1h3m-5 1h3m-9 0h3m-8 1h3m-20-7h3m-6 6h3m-14-2h3m-5 2h3m-6-5h3m-6 2h3m-4 0h3m-6-1h3m-8-2h3m-7 1h3m-4 2h3m-5-1h3m-5 0h3m-7-2h3m-16 4h3m-5 0h3m-4-3h3m-5 6h3m-5 1h3m-14-5h3m-268 2h3m-6-4h3m-18 4h3m-5-3h3m-6 5h3m-3-1h3m-3-4h3m-4 4h3m-13 1h3m-5-5h3m-4 2h3m-6-1h3m-4 2h3m-10-4h3m-6 2h3m-7 2h3m-6-4h3m-4 3h3m-7-2h3m-6 5h3m-25-4h3m-4 3h3m-6 2h3m-7 0h3m-4-4h3m-8-1h3m-3-2h3m-10 1h3m-4 2h3m-4 0h3m-21 2h3m-3-3h3m-4 1h3m-5 2h3m-5-5h3m-6 2h3m-10-1h3m-5 4h3m-18-3h3m-4 0h3m-11-1h3m-8 0h3m-5 4h3m-17-2h3m-9 0h3m-5 4h3m-12-1h3m-7-4h3m-13 0h3m-6-1h3m-7 2h3m-3-2h3m-4 0h3m-4 2h3m-4 2h3m-4-1h3m-4 3h3m-4-1h3m-8-4h3m-6 1h3m-7 4h3m-3-7h3m-8 2h3m-15-2h3m-10 0h3m-276 2h3m-67-1h3m-27 4h3m-4 1h3m-7-4h3m-19 3h3m-5-4h3m-16 0h3m-6 3h3m-25 2h3m-11 1h3m-12-5h3m-5-2h3m-37 0h3m-12-1h3m-4 7h3m-5-1h3m-3-6h3m-4 7h3m-8-5h3m-4-2h3m-6 5h3m-7 0h3m-3-5h3m-7 1h3m-25 0h3m-22 1h3m-231 0h3m-10 6h3m-19-2h3m-4-4h3m-3-1h3m-11 12h3m-1 0h3m-2-3h3m1 2h3m266 2h3m-1-1h3m27-2h3m20 2h3m37-4h3m9 4h3m-2-2h3m2-1h3m8 4h3m12 1h3m413-4h3m2 5h3m4-7h3m0 4h3m-2-1h3m-2 3h3m-2-4h3m-2 3h3m1 1h3m-2-7h3m-2 4h3m-3 3h3m0-4h3m-3 1h3m-2 0h3m-2 2h3m-2-4h3m-1-2h3m0 3h3m-3 5h3m0-5h3m-3 1h3m-1 0h3m0 3h3m5-2h3m-1-2h3m-3 2h3m5-2h3m10-2h3m-3 5h3m3 0h3m0-2h3m-2 1h3m10 0h3m-2-5h3m-3 3h3m-2 5h3m-2-3h3m0-5h3m0 4h3m-2 4h3m6 0h3m-2-7h3m-3 6h3m1-6h3m-2 2h3m1 2h3m-1 1h3m8-2h3m-3 3h3m13-3h3m0-1h3m-3 5h3m7-1h3m14-5h3m-2-1h3m-2 5h3m2-4h3m-3 1h3m1 3h3m5-2h3m-3 4h3m-1-2h3m-2-1h3m-2-5h3m-3 1h3m12 7h3m0-6h3m3 4h3m6-3h3m-1-1h3m-1 1h3m275-3h3m23 0h3m31 5h3m53-2h3m-2-2h3m22-1h3m0 7h3m19-5h3m33-1h3m-26 10h3m-7-3h3m-19 1h3m-3-1h3m-24 4h3m-8 2h3m-22-2h3m-14-3h3m-24 3h3m-26-2h3m-5 3h3m-8-4h3m-58 4h3m-280-4h3m-5 4h3m-13-2h3m-4-3h3m-4 4h3m-3-3h3m-15 7h3m-5-8h3m-6 4h3m-5 4h3m-5-2h3m-6-5h3m-5 3h3m-7 4h3m-3-4h3m-4 4h3m-3-7h3m-8 6h3m-4-6h3m-4 1h3m-4 3h3m-4 0h3m-7-4h3m-4 7h3m-8-5h3m-11 2h3m-6-4h3m-11 3h3m-4 3h3m-10-1h3m-5 0h3m-7-3h3m-4 3h3m-4-4h3m-4 5h3m-6-3h3m-3-4h3m-12 2h3m-4 0h3m-4 4h3m-5 0h3m-6 0h3m-10-2h3m-6 0h3m-3-3h3m-14 7h3m-5-5h3m-6 4h3m-7-7h3m-5 4h3m-13 0h3m-4-4h3m-25 8h3m-4-1h3m-4-1h3m-3-1h3m-4-4h3m-5 3h3m-3-2h3m-4 3h3m-3-1h3m-4 4h3m-3-3h3m-4-1h3m-3-1h3m-4 2h3m-3-2h3m-5 4h3m-3-3h3m-5 0h3m-3-3h3m-4 7h3m-4-3h3m-4-1h3m-5 2h3m-5-4h3m-3-1h3m-5 7h3m-4 0h3m-6-2h3m-3-4h3m-4-1h3m-4 7h3m-4-8h3m-5 3h3m-5 1h3m-4 1h3m-4-3h3m-3-1h3m-7 6h3m-5-4h3m-3-3h3m-4 3h3m-3-3h3m-20 3h3m-818 4h3m-17-5h3m-4 4h3m-3-5h3m-29 10h3m3-1h3m8-1h3m1 1h3m7 4h3m-2-1h3m3-2h3m-2 1h3m2 2h3m1-6h3m801 3h3m8 4h3m8-3h3m0-1h3m4 2h3m-2-3h3m3 0h3m-2 4h3m-2 2h3m2-7h3m-2 5h3m-3 1h3m-2-2h3m0-1h3m-3 1h3m-2-1h3m-1 2h3m-2-5h3m-3 2h3m-3 2h3m-2 0h3m-3 2h3m-2-2h3m0 3h3m-2-5h3m-1-3h3m-1 7h3m-1-2h3m-1-1h3m12-3h3m0 1h3m8 4h3m-2-6h3m4 2h3m4 5h3m-1-3h3m-1-2h3m2 4h3m4-3h3m-2 2h3m-3 2h3m-1-7h3m-3 6h3m0-3h3m-1 1h3m-2 3h3m-2-5h3m-2 5h3m1-3h3m-1-4h3m5 4h3m-2-2h3m-2 4h3m0 1h3m5-2h3m-3 1h3m-2-6h3m-2 4h3m1 2h3m0 1h3m-2-3h3m-1 2h3m-2-1h3m-1 2h3m2-4h3m0 2h3m-1 2h3m2-2h3m-3 2h3m-2 0h3m-2-7h3m0 1h3m-3 3h3m-1-1h3m9 1h3m-1-4h3m-1 4h3m0 1h3m1-2h3m1 3h3m0-5h3m-3 1h3m3 1h3m-1-1h3m20 0h3m263 6h3m35-2h3m72-3h3m10 3h3m0-4h3m14 3h3m-3 1h3m19-4h3m3-1h3m1 0h3m3 0h3m34 7h3m-51 2h3m-5-1h3m-15 3h3m-20 2h3m-25-3h3m-4 5h3m-28-7h3m-35 1h3m-33 4h3m-35 0h3m-275-5h3m-9 4h3m-9-3h3m-4 2h3m-5-3h3m-5 5h3m-5 1h3m-7-3h3m-4 2h3m-6 2h3m-3-7h3m-4 1h3m-9 3h3m-7 2h3m-5-6h3m-9 1h3m-4 3h3m-11 3h3m-16-4h3m-6-2h3m-5-2h3m-8 4h3m-10-2h3m-6 0h3m-7 0h3m-6 6h3m-3-1h3m-4 0h3m-6 0h3m-4 0h3m-12-6h3m-8-1h3m-4 3h3m-4 0h3m-12 1h3m-13 2h3m-5 0h3m-6 0h3m-7-3h3m-4 1h3m-5 2h3m-16-3h3m-4 4h3m-14-6h3m-12 5h3m-22-4h3m-4 5h3m-3-7h3m-4 6h3m-3-1h3m-3-1h3m-4-2h3m-5 4h3m-5-5h3m-10 1h3m-4 5h3m-4-6h3m-6 0h3m-7-1h3m-6 1h3m-7 3h3m-10 1h3m-16-5h3m-810 1h3m-15 2h3m-11 3h3m-9 0h3m-21-2h3m-3 6h3m0 1h3m5-2h3m8 6h3m-2-6h3m1 3h3m4 1h3m5 1h3m830-5h3m2 0h3m-3 3h3m8-2h3m1 5h3m-2-6h3m-1 5h3m-2-1h3m-2-1h3m-1-1h3m-2 2h3m-2 2h3m2-3h3m0 1h3m0-2h3m-2-2h3m-2 1h3m9 3h3m10-4h3m-2 3h3m2-3h3m4-1h3m-1 3h3m0 1h3m0 0h3m4 2h3m3-3h3m10-2h3m0 1h3m-1 3h3m15 0h3m1-2h3m1-2h3m0 0h3m0 2h3m-1-2h3m-2 5h3m-2-2h3m-2-2h3m-1 3h3m0-3h3m-2 6h3m2-1h3m0-6h3m5 3h3m0 2h3m-1-6h3m1 5h3m5-3h3m-1 3h3m-2-4h3m-3 6h3m1-1h3m-1-3h3m-2-1h3m0 1h3m287 2h3m38-1h3m21 1h3m0-4h3m15 0h3m30 6h3m27-1h3m22 1h3m1-5h3m-83 14h3m-383-1h3m-6 0h3m-14-5h3m-8 2h3m-6 3h3m-4-7h3m-14 3h3m-6-1h3m-4 5h3m-4-7h3m-14 1h3m-10 1h3m-9 3h3m-5-4h3m-13 1h3m-6 1h3m-15-3h3m-14 1h3m-3-1h3m-17 2h3m-7 5h3m-22-6h3m-3-1h3m-13 5h3m-11-1h3m-3-3h3m-4-1h3m-4 6h3m-14 0h3m-4-3h3m-10 3h3m-11 0h3m-4-4h3m-5 2h3m-4 2h3m-3-4h3m-5 0h3m-4 4h3m-5 0h3m-4-2h3m-5 1h3m-3-3h3m-4 5h3m-3-5h3m-18 1h3m-19-1h3m-827 1h3m-8 4h3m-6-1h3m-6-6h3m-4 6h3m-3-1h3m-10-4h3m-22 8h3m9 0h3m2 2h3m1-1h3m-3 4h3m-2-5h3m-3 6h3m-3 1h3m0-1h3m-1-1h3m-2-3h3m0-1h3m0-1h3m-1 6h3m-2-6h3m1 6h3m8-1h3m822-1h3m14-4h3m-1 1h3m0 5h3m-1-6h3m-3 3h3m5-4h3m3 1h3m-2 1h3m13 1h3m12 1h3m-2-1h3m-1 4h3m5 0h3m-2-1h3m8-4h3m8-2h3m2 6h3m-2 2h3m2-3h3m-3 2h3m-1-3h3m1 2h3m0 1h3m2-4h3m6 2h3m-2 0h3m-2 1h3m2 1h3m1-4h3m1-3h3m23 5h3m-2 0h3m1-5h3m-1 6h3m18-5h3m2 2h3m312 5h3m88-7h3m0 1h3m44 0h3m15-2h3m-658 9h3m-20 0h3m-865 5h3m-7-5h3m-6 1h3m-5 0h3m-7-1h3m-6 7h3m-5 0h3m-15-3h3m5 8h3m1 1h3m0 1h3m0-5h3m1 0h3m-2 3h3m-2-5h3m-3 2h3m-3 3h3m0-1h3m-3 1h3m0-3h3m-3 2h3m-2-2h3m1 1h3m-2-3h3m0 7h3m2 0h3m16 9h3m-6-3h3m-4 0h3m-17-2h3m-9 4h3m-4 1h3m-5-3h3m-7 1h3m-5 1h3m-6-7h3m-4 7h3m-3-6h3m-4 0h3m-9 4h3m-5-1h3m-7 0h3m-6 1h3m-8 1h3m-4 0h3m-5-2h3m-8 8h3m3-3h3m-2 0h3m-1 6h3m1-2h3m-2 2h3m-1-6h3m1 5h3m1 2h3m-2 0h3m-1-1h3m0-5h3m-2 2h3m-3 4h3m-1 0h3m1-7h3m-3 2h3m-1 4h3m8-3h3m-2 7h3m-6 0h3m-8 3h3m-3-3h3m-7 0h3m-4 4h3m-3-1h3m-3-4h3m-12 6h3m-6-3h3m-4 0h3m-5 2h3m-3-2h3m-4 1h3m-4 2h3m-5-3h3m-4 3h3m-8-1h3m-10-1h3m-10-3h3m2 10h3m-3 1h3m-1 0h3m1-5h3m-2 0h3m-1 1h3m-3 5h3m-1-1h3m1-5h3m-2 7h3m-1-3h3m-2-2h3m-1 2h3m1 3h3m-1-5h3m-3 2h3m-2 1h3m-1 1h3m2-4h3m-1 2h3m0-3h3m0 2h3m1 1h3m3 6h3m-4 0h3m-7-2h3m-9 7h3m-5 0h3m-7-8h3m-4 5h3m-3-3h3m-4-1h3m-4 5h3m-3-1h3m-4 2h3m-3-5h3m-4 4h3m-5 2h3m-3-1h3m-4-1h3m-8-4h3m-5 4h3m-3-5h3m-4 6h3m-3-2h3m-4 1h3m-3-4h3m-5-1h3m-4 6h3m-3-6h3m-4 2h3m-3-1h3m-5 3h3m-3-3h3m-3-1h3m-4 2h3m-4 3h3m-5-2h3m-6 3h3m-6-3h3m-3-2h3m-6 5h3m-4-4h3m-3-2h3m-12 6h3m3 1h3m-2 6h3m-1 1h3m-2-3h3m-2 1h3m-2-3h3m1 4h3m0-5h3m-3 3h3m-1-1h3m-2-1h3m-2 4h3m-2 2h3m-2-4h3m-2-4h3m-1 6h3m-1-3h3m-1-3h3m-3 6h3m-1 2h3m-2 0h3m-2-8h3m-3 5h3m-3 2h3m-2 0h3m-1-1h3m-2-4h3m-2-1h3m-3 2h3m-2 2h3m1-5h3m-2 6h3m0 2h3m-2-3h3m-2 1h3m-2 1h3m-2-6h3m-2 3h3m-2 0h3m5 3h3m-5 8h3m-3-1h3m-5-6h3m-7 7h3m-4-2h3m-4-4h3m-5 4h3m-3-3h3m-4 5h3m-5-4h3m-3-1h3m-4 3h3m-4 3h3m-3-3h3m-5 2h3m-3-1h3m-3-2h3m-3-2h3m-3-2h3m-5 7h3m-3-1h3m-4-1h3m-4 1h3m-3-2h3m-4 3h3m-3-1h3m-3-1h3m-3-4h3m-4 6h3m-4 0h3m-3-3h3m-5 0h3m-3-2h3m-4 3h3m-6 3h3m-3-1h3m-3-1h3m-3-2h3m-3-3h3m-4 4h3m-4-1h3m-4 2h3m-4 2h3m-3-5h3m-3-1h3m-4 3h3m-5 0h3m-3-5h3m-4 2h3m-6-1h3m-4 6h3m-8-3h3m-4 1h3m-4-1h3m-4 3h3m-6-5h3m-4 3h3m-10-4h3m-2 10h3m3-1h3m2 0h3m3 0h3m1 4h3m-2-3h3m-2-2h3m1 0h3m-2 0h3m-1 0h3m-3 3h3m-2-3h3m-3 2h3m-3 2h3m-1-1h3m-1 2h3m-1 2h3m-2-4h3m-2 2h3m-2-4h3m0 2h3m-2 0h3m-3 3h3m-2-6h3m-3 3h3m0-4h3m0 5h3m5 7h3m-9 2h3m-6 2h3m-7-4h3m-4 2h3m-5 2h3m-3-1h3m-3-2h3m-3-2h3m-3-2h3m-5 2h3m-3-3h3m-4 8h3m-3-1h3m-3-2h3m-3-2h3m-3-1h3m-3-1h3m-3-1h3m-4 1h3m-4 4h3m-4-1h3m-4-1h3m-3-1h3m-3-2h3m-4 6h3m-4-3h3m-5 2h3m-3-4h3m-6 3h3m-4 2h3m-3-1h3m-5 0h3m-4 0h3m-4 0h3m-4 0h3m-4 2h3m-7-2h3m-4-3h3m-7 3h3m-20 1h3m-87 8h3m44 1h3m4-4h3m2-1h3m21 4h3m-3 1h3m5 0h3m-1-3h3m-2-4h3m-1 6h3m0-2h3m-1 0h3m-2-4h3m-3 3h3m-2-1h3m-2 5h3m-1-3h3m-3 4h3m-1-7h3m-3 4h3m-2-2h3m-2-2h3m-3 4h3m-2-4h3m-3 2h3m-1 0h3m-3 5h3m-2-7h3m-3 1h3m-3 4h3m-2-3h3m-3 4h3m-3 1h3m-2-8h3m-2 0h3m-2 0h3m-3 2h3m-2 1h3m-2 3h3m-2-6h3m-3 5h3m-3 2h3m-2-4h3m-2-1h3m-3 1h3m-3 3h3m-2-3h3m-2-2h3m-3 4h3m-3 1h3m-3 2h3m-1-7h3m-3 6h3m-2-6h3m-3 3h3m-3 3h3m-3 1h3m-2-5h3m-3 3h3m-2-5h3m-3 1h3m-3 4h3m-3 1h3m-2-4h3m-3 2h3m-2-2h3m-3 5h3m-2-6h3m-2 1h3m-3 3h3m-2-1h3m-3 1h3m-3 1h3m-3 1h3m-1-8h3m-2 7h3m-1-3h3m1 3h3m-2-2h3m-2-5h3m1 2h3m-3 1h3m-7 13h3m-3-4h3m-6 2h3m-3-5h3m-5 5h3m-4 0h3m-4-2h3m-4 3h3m-3-1h3m-5 0h3m-3-1h3m-4 3h3m-3-2h3m-3-1h3m-3-1h3m-3-3h3m-4 3h3m-3-1h3m-4 5h3m-4-2h3m-3-1h3m-3-4h3m-4 6h3m-3-3h3m-3-1h3m-4 4h3m-4 0h3m-3-2h3m-3-2h3m-4 5h3m-3-2h3m-3-1h3m-4 2h3m-3-1h3m-3-4h3m-3-2h3m-4 5h3m-3-1h3m-3-2h3m-4 6h3m-3-2h3m-3-1h3m-3-2h3m-3-1h3m-4 3h3m-3-1h3m-3-3h3m-4 7h3m-3-4h3m-3-2h3m-4 6h3m-3-2h3m-3-1h3m-3-1h3m-3-1h3m-3-3h3m-4 8h3m-3-3h3m-3-1h3m-3-2h3m-3-2h3m-4 8h3m-3-2h3m-3-1h3m-3-1h3m-3-4h3m-4 7h3m-3-1h3m-3-1h3m-3-2h3m-4 0h3m-3-3h3m-4 8h3m-3-4h3m-3-3h3m-4 6h3m-3-3h3m-3-2h3m-4 3h3m-3-1h3m-4 3h3m-3-1h3m-3-3h3m-4 3h3m-3-2h3m-4 2h3m-4-2h3m-4 2h3m-3-1h3m-3-1h3m-3-4h3m-4 2h3m-4 6h3m-3-1h3m-4-5h3m-4 2h3m-3-2h3m-3-1h3m-4 5h3m-3-2h3m-3-4h3m-5 4h3m-3-1h3m-4 4h3m-3-5h3m-5 3h3m-4 2h3m-3-5h3m-7-1h3m-4 2h3m-4-2h3m-4 6h3m-5 0h3m-4-1h3m-3-3h3m-6 1h3m-6 4h3m-5-3h3m-4 1h3m-3-2h3m-7 1h3m-5 0h3m-10 2h3m-7-6h3m0 8h3m0 3h3m1 0h3m-3 1h3m8-2h3m-1 2h3m-1-2h3m0 3h3m-2 0h3m-2-4h3m-2 1h3m-1 2h3m-2 3h3m-2-7h3m-2 4h3m-2 0h3m-2-4h3m-1 0h3m-3 3h3m-3 3h3m-2-7h3m-3 1h3m-2 1h3m-3 3h3m-3 1h3m-2-3h3m-3 2h3m-3 2h3m-2-4h3m-3 2h3m-2-5h3m-3 2h3m-3 1h3m-3 3h3m-3 1h3m-3 1h3m-2-5h3m-3 1h3m-3 1h3m-2-3h3m-3 1h3m-3 3h3m-3 2h3m-2-6h3m-3 1h3m-3 2h3m-3 2h3m-2-4h3m-3 4h3m-3 1h3m-2-2h3m-3 1h3m-3 1h3m-2-5h3m-3 3h3m-3 2h3m-2-8h3m-3 4h3m-3 1h3m-3 1h3m-3 1h3m-2-5h3m-3 1h3m-3 3h3m-2 0h3m-3 2h3m-2-7h3m-3 3h3m-3 1h3m-3 2h3m-2-4h3m-3 1h3m-3 1h3m-3 1h3m-3 1h3m-2-6h3m-3 1h3m-3 2h3m-3 1h3m-3 1h3m-3 1h3m-2-5h3m-3 2h3m-3 2h3m-3 2h3m-2-6h3m-3 2h3m-3 2h3m-3 1h3m-2-5h3m-3 1h3m-3 1h3m-3 2h3m-3 2h3m-2-6h3m-3 2h3m-2-3h3m-3 1h3m-3 1h3m-3 1h3m-3 1h3m-3 2h3m-2-4h3m-3 2h3m-3 2h3m-2-6h3m-3 1h3m-3 3h3m-3 2h3m-2-7h3m-3 1h3m-3 3h3m-3 1h3m-3 1h3m-2-4h3m-3 2h3m-3 1h3m-3 2h3m-2-6h3m-3 5h3m-2-3h3m-3 1h3m-3 1h3m-3 1h3m-3 1h3m-2-5h3m-3 3h3m-3 1h3m-2-5h3m-3 2h3m-3 1h3m-3 1h3m-3 1h3m-2-3h3m-3 1h3m-3 4h3m-2-7h3m-3 1h3m-3 4h3m-3 1h3m-2-6h3m-3 3h3m-3 1h3m-2-3h3m-2 2h3m-2-2h3m-3 2h3m-3 2h3m-3 2h3m-1-2h3m-2 1h3m-2-3h3m-1 0h3m-3 3h3m2-3h3m-1-3h3m4 4h3m-9 4h3m-6 3h3m-8 0h3m-4-2h3m-4 4h3m-4 0h3m-5 0h3m-3-2h3m-4 3h3m-3-7h3m-4 6h3m-3-4h3m-3-2h3m-4 1h3m-3-1h3m-4 7h3m-3-6h3m-4 6h3m-3-5h3m-4 5h3m-3-1h3m-3-2h3m-3-1h3m-3-3h3m-4 7h3m-3-2h3m-3-1h3m-3-2h3m-3-1h3m-4 7h3m-3-4h3m-3-1h3m-4 4h3m-3-1h3m-3-5h3m-4 7h3m-3-1h3m-3-1h3m-3-1h3m-3-1h3m-3-3h3m-4 6h3m-3-1h3m-3-1h3m-3-1h3m-4 4h3m-3-1h3m-3-1h3m-3-1h3m-3-2h3m-3-1h3m-3-1h3m-4 5h3m-3-1h3m-3-2h3m-3-3h3m-4 7h3m-3-1h3m-3-2h3m-3-3h3m-4 6h3m-3-1h3m-3-1h3m-3-1h3m-3-1h3m-3-2h3m-4 5h3m-3-2h3m-3-2h3m-4 5h3m-3-3h3m-3-1h3m-3-1h3m-3-2h3m-4 7h3m-3-1h3m-3-1h3m-3-1h3m-3-2h3m-4 5h3m-3-1h3m-3-3h3m-3-1h3m-4 6h3m-3-1h3m-3-1h3m-3-1h3m-3-1h3m-3-2h3m-3-1h3m-4 7h3m-3-1h3m-3-1h3m-3-1h3m-3-1h3m-3-2h3m-4 5h3m-3-2h3m-3-4h3m-4 6h3m-3-1h3m-3-1h3m-3-2h3m-3-2h3m-3-1h3m-4 5h3m-3-3h3m-3-1h3m-3-1h3m-4 6h3m-3-3h3m-3-2h3m-3-1h3m-4 7h3m-3-2h3m-3-3h3m-3-2h3m-4 8h3m-3-2h3m-3-2h3m-3-3h3m-3-1h3m-4 8h3m-3-1h3m-3-3h3m-3-1h3m-3-2h3m-3-1h3m-4 8h3m-3-1h3m-3-1h3m-3-4h3m-3-1h3m-4 5h3m-3-3h3m-3-1h3m-3-1h3m-3-1h3m-4 8h3m-3-1h3m-3-1h3m-3-2h3m-3-2h3m-3-1h3m-5 7h3m-3-2h3m-3-3h3m-4 4h3m-3-1h3m-3-3h3m-3-2h3m-3-1h3m-4 5h3m-3-4h3m-4 6h3m-3-2h3m-3-1h3m-3-3h3m-4 6h3m-4 0h3m-3-2h3m-3-1h3m-3-1h3m-3-1h3m-3-1h3m-4 7h3m-3-4h3m-3-2h3m-3-1h3m-5 1h3m-4 5h3m-4 0h3m-3-1h3m-4 1h3m-5-2h3m-6 0h3m-7-5h3m-7 4h3m-6-3h3m-20 0h3m-15 1h3m-4 6h3m-7 0h3m-4-1h3m-11-1h3m-41-3h3m18 7h3m26 2h3m1 0h3m-1-1h3m-1 0h3m1 3h3m3 0h3m2-3h3m-2-2h3m2 5h3m1-4h3m-3 2h3m-1-3h3m-3 4h3m-2 1h3m-2-1h3m-2-3h3m-2-2h3m-3 3h3m-3 1h3m-1-2h3m-2 5h3m-1-3h3m-1 3h3m-3 1h3m-2-3h3m-2-5h3m-3 2h3m-2-1h3m-3 1h3m-3 1h3m-3 1h3m-3 1h3m-3 1h3m-2-3h3m-3 2h3m-2-4h3m-3 1h3m-3 6h3m-2-4h3m-3 1h3m-3 2h3m-2-4h3m-3 3h3m-2-5h3m-3 1h3m-3 3h3m-3 2h3m-3 1h3m-2-8h3m-3 4h3m-3 2h3m-2-5h3m-3 2h3m-3 4h3m-2-6h3m-3 5h3m-3 2h3m-2-8h3m-3 6h3m-3 1h3m-3 1h3m-2-1h3m-2-6h3m-3 5h3m-3 1h3m-2-6h3m-3 1h3m-3 3h3m-3 1h3m-3 1h3m-2-7h3m-3 1h3m-3 1h3m-3 2h3m-3 1h3m-3 1h3m-3 1h3m-2-7h3m-3 3h3m-3 1h3m-3 2h3m-2-6h3m-3 1h3m-3 2h3m-3 1h3m-3 1h3m-3 1h3m-3 1h3m-2-7h3m-3 3h3m-3 1h3m-3 1h3m-3 1h3m-3 1h3m-2-7h3m-3 2h3m-3 2h3m-3 1h3m-3 1h3m-3 1h3m-2-7h3m-3 3h3m-2-2h3m-3 1h3m-3 1h3m-3 1h3m-3 1h3m-3 2h3m-2-5h3m-3 1h3m-3 1h3m-3 2h3m-2-6h3m-3 1h3m-3 1h3m-3 1h3m-3 3h3m-3 1h3m-2-6h3m-3 1h3m-3 1h3m-3 2h3m-3 2h3m-2-7h3m-3 4h3m-3 1h3m-3 1h3m-2-6h3m-3 1h3m-3 1h3m-3 2h3m-3 1h3m-3 1h3m-3 1h3m-2-6h3m-3 2h3m-3 1h3m-3 1h3m-3 3h3m-2-7h3m-3 1h3m-3 1h3m-3 1h3m-3 1h3m-3 1h3m-3 1h3m-2-7h3m-3 1h3m-3 1h3m-3 1h3m-3 3h3m-3 1h3m-3 1h3m-2-7h3m-3 1h3m-3 1h3m-3 4h3m-2-4h3m-3 1h3m-3 1h3m-3 2h3m-2-6h3m-3 1h3m-3 2h3m-2-1h3m-3 1h3m-3 3h3m-3 1h3m-2-7h3m-3 1h3m-3 4h3m-2-4h3m-3 1h3m-2-3h3m-3 1h3m-3 2h3m-3 2h3m-2-1h3m-3 3h3m-2-7h3m-3 4h3m-2 0h3m-3 3h3m-3 1h3m-2-8h3m-3 2h3m-3 2h3m-2-4h3m-3 2h3m-3 5h3m-2-6h3m-3 3h3m-3 2h3m-3 1h3m-2-2h3m-3 2h3m-2-6h3m-3 1h3m-3 2h3m0-1h3m-2 0h3m-3 2h3m-2 1h3m-2-3h3m-3 1h3m-2 0h3m-3 4h3m0-2h3m-3 2h3m1-2h3m0 2h3m-7 2h3m-9 6h3m-5-3h3m-4-1h3m-6-3h3m-4 4h3m-4 3h3m-3-6h3m-4 6h3m-3-4h3m-3-3h3m-4 3h3m-3-1h3m-5 4h3m-3-1h3m-3-1h3m-3-1h3m-3-1h3m-3-2h3m-4 6h3m-4-6h3m-4 1h3m-3-1h3m-4 7h3m-3-3h3m-3-1h3m-3-2h3m-3-2h3m-4 6h3m-3-3h3m-3-2h3m-4 4h3m-3-1h3m-3-1h3m-3-3h3m-4 7h3m-3-3h3m-3-4h3m-4 8h3m-3-2h3m-3-2h3m-3-3h3m-3-1h3m-4 8h3m-3-2h3m-3-2h3m-4 3h3m-3-2h3m-3-1h3m-3-1h3m-3-2h3m-3-1h3m-4 7h3m-3-1h3m-3-1h3m-3-1h3m-3-3h3m-4 7h3m-3-1h3m-3-2h3m-3-1h3m-3-2h3m-3-1h3m-4 6h3m-3-2h3m-3-1h3m-3-1h3m-3-1h3m-3-1h3m-4 7h3m-3-1h3m-3-3h3m-3-2h3m-3-2h3m-4 7h3m-3-1h3m-3-1h3m-3-1h3m-3-2h3m-3-1h3m-3-1h3m-4 8h3m-3-1h3m-3-3h3m-3-3h3m-3-1h3m-4 6h3m-3-2h3m-3-2h3m-3-1h3m-3-1h3m-4 8h3m-3-1h3m-3-2h3m-3-2h3m-3-3h3m-4 8h3m-3-2h3m-3-1h3m-3-1h3m-3-3h3m-4 7h3m-3-2h3m-3-1h3m-3-2h3m-3-1h3m-3-2h3m-4 7h3m-3-1h3m-3-1h3m-3-1h3m-3-1h3m-3-1h3m-3-1h3m-3-1h3m-4 6h3m-3-1h3m-3-1h3m-3-1h3m-3-2h3m-4 3h3m-3-1h3m-3-1h3m-3-1h3m-4 7h3m-3-1h3m-3-1h3m-3-2h3m-3-1h3m-3-1h3m-4 5h3m-3-2h3m-3-4h3m-4 6h3m-3-2h3m-3-4h3m-3-1h3m-4 8h3m-3-1h3m-3-1h3m-3-1h3m-3-3h3m-3-1h3m-4 5h3m-3-4h3m-4 6h3m-3-4h3m-3-2h3m-3-1h3m-3-1h3m-4 7h3m-3-4h3m-3-2h3m-3-1h3m-4 5h3m-4 3h3m-3-1h3m-4 0h3m-3-7h3m-4 7h3m-3-3h3m-4 1h3m-3-1h3m-3-3h3m-4 2h3m-3-1h3m-4 5h3m-3-3h3m-3-2h3m-4 5h3m-3-5h3m-3-2h3m-4 6h3m-3-5h3m-4 1h3m-4 3h3m-4 0h3m-3-4h3m-4 3h3m-3-1h3m-4 0h3m-3-1h3m-4 3h3m-4 1h3m-3-6h3m-4 3h3m-5 1h3m-3-3h3m-8 3h3m-5 3h3m-3-3h3m-8 3h3m-5-3h3m-4 2h3m-3-3h3m-4 0h3m-4 3h3m-4-4h3m-4 6h3m-6-1h3m-4-2h3m-3-1h3m-11 1h3m-4 0h3m-4 2h3m-7 0h3m-5-2h3m-5 1h3m-5-1h3m-13-4h3m-7 3h3m-11-1h3m-11-3h3m1 14h3m-3 2h3m12-7h3m-3 7h3m4-6h3m0 6h3m-2-7h3m1 1h3m2 5h3m-1-3h3m-2-4h3m-3 1h3m5 5h3m-3 2h3m0-3h3m-1 1h3m-1-2h3m-2-3h3m-1 5h3m-2-3h3m-2 3h3m-3 2h3m-2-6h3m-2 0h3m-3 5h3m1-2h3m-3 1h3m-3 2h3m-1-5h3m-2-2h3m-3 7h3m0-4h3m-3 2h3m-1 2h3m-2-7h3m-3 1h3m-3 3h3m-3 2h3m-1-6h3m-3 2h3m-3 3h3m-2-6h3m-3 6h3m-2-4h3m-3 5h3m-2-4h3m-2-1h3m-3 4h3m-2-2h3m-3 3h3m-1-3h3m-2-1h3m-2 1h3m-2-1h3m-3 1h3m-2 2h3m-3 1h3m-2-6h3m-3 6h3m-2-6h3m-3 1h3m-3 2h3m-3 3h3m-2-7h3m-3 5h3m-3 1h3m-2-5h3m-3 1h3m-3 1h3m-3 1h3m-3 1h3m-3 1h3m-3 1h3m-2-7h3m-3 2h3m-3 3h3m-3 3h3m-2-8h3m-3 1h3m-3 1h3m-3 2h3m-3 2h3m-2-6h3m-3 2h3m-3 2h3m-3 1h3m-3 2h3m-2-4h3m-3 1h3m-3 1h3m-3 1h3m-2-5h3m-3 1h3m-3 1h3m-3 1h3m-3 1h3m-3 1h3m-3 1h3m-2-6h3m-3 2h3m-3 1h3m-3 1h3m-3 1h3m-3 1h3m-2-5h3m-3 3h3m-2-4h3m-3 2h3m-3 2h3m-3 1h3m-2-5h3m-3 2h3m-3 2h3m-3 1h3m-3 1h3m-2-6h3m-3 1h3m-3 1h3m-3 2h3m-3 1h3m-3 1h3m-2-6h3m-3 2h3m-3 1h3m-3 2h3m-3 1h3m-2-6h3m-3 2h3m-3 2h3m-3 1h3m-2-6h3m-3 1h3m-3 1h3m-3 1h3m-3 1h3m-3 2h3m-3 2h3m-2-8h3m-3 3h3m-3 2h3m-3 1h3m-3 1h3m-2-6h3m-3 1h3m-3 1h3m-3 1h3m-3 1h3m-3 2h3m-3 1h3m-2-7h3m-3 3h3m-3 1h3m-3 3h3m-2-6h3m-3 2h3m-3 1h3m-2-4h3m-3 1h3m-3 2h3m-3 2h3m-2-4h3m-3 1h3m-3 2h3m-3 3h3m-2-8h3m-3 6h3m-2-5h3m-3 1h3m-3 4h3m-2-6h3m-3 1h3m-3 5h3m-2 1h3m-2-6h3m-3 1h3m-3 4h3m-3 2h3m-2-7h3m-3 2h3m-3 4h3m-2-5h3m-2 2h3m-2-2h3m-3 6h3m-2-2h3m-2-1h3m-2-3h3m-3 6h3m-2-5h3m-2 0h3m-2 0h3m-2 4h3m0 1h3m-2-8h3m-3 5h3m-2-4h3m0 4h3m-10 5h3m-5 2h3m-3-4h3m-5 1h3m-4 3h3m-3-2h3m-4 6h3m-4-6h3m-3-1h3m-4 2h3m-5 2h3m-4-1h3m-3-1h3m-3-1h3m-3-1h3m-4 1h3m-4 6h3m-3-1h3m-3-2h3m-3-2h3m-3-1h3m-4 2h3m-3-1h3m-3-1h3m-3-1h3m-4 3h3m-3-1h3m-4 4h3m-3-4h3m-3-2h3m-4 3h3m-3-3h3m-4 4h3m-3-1h3m-3-1h3m-3-2h3m-4 3h3m-3-2h3m-3-2h3m-4 8h3m-3-1h3m-3-5h3m-3-1h3m-3-1h3m-4 6h3m-3-3h3m-3-1h3m-4 1h3m-3-1h3m-3-1h3m-4 3h3m-3-1h3m-4 5h3m-3-2h3m-3-1h3m-3-1h3m-3-1h3m-3-3h3m-4 5h3m-4 2h3m-3-2h3m-3-2h3m-3-3h3m-4 5h3m-3-4h3m-3-1h3m-4 7h3m-3-1h3m-3-1h3m-3-1h3m-3-1h3m-3-3h3m-4 5h3m-3-3h3m-4 3h3m-3-3h3m-3-1h3m-4 5h3m-3-3h3m-3-1h3m-4 6h3m-3-1h3m-3-1h3m-3-1h3m-3-1h3m-3-2h3m-3-1h3m-4 4h3m-3-1h3m-3-3h3m-4 4h3m-3-2h3m-3-2h3m-3-1h3m-4 8h3m-3-1h3m-3-1h3m-3-1h3m-3-3h3m-4 6h3m-3-2h3m-3-1h3m-3-2h3m-3-1h3m-3-1h3m-3-1h3m-4 7h3m-3-3h3m-3-2h3m-3-1h3m-3-1h3m-4 6h3m-3-1h3m-3-1h3m-3-1h3m-3-1h3m-4 2h3m-3-1h3m-3-3h3m-4 5h3m-3-1h3m-3-2h3m-4 4h3m-4 1h3m-3-2h3m-3-1h3m-3-1h3m-3-2h3m-4 4h3m-3-2h3m-4 3h3m-3-1h3m-5-1h3m-3-2h3m-5 0h3m-4 5h3m-4-3h3m-3-2h3m-4 6h3m-3-3h3m-3-1h3m-5 3h3m-4-2h3m-4 3h3m-3-7h3m-5 2h3m-5 4h3m-4-2h3m-4-3h3m-4 5h3m-4 0h3m-4-6h3m-6 0h3m-4 3h3m-3-2h3m-5 4h3m-3-1h3m-4-2h3m-8-1h3m-5 1h3m-4-3h3m-4 4h3m-3-1h3m-6 3h3m-3-2h3m-6 2h3m-3-2h3m-12 4h3m-10-2h3m-4-2h3m-4-3h3m-32 3h3m-7 3h3m-43-4h3m49 8h3m-1 3h3m2-1h3m5-1h3m2 1h3m17-2h3m-3 1h3m-3 1h3m-2-1h3m-2-2h3m-1 3h3m-1-3h3m-1 2h3m3 0h3m-2-3h3m-2 0h3m-3 3h3m-2 2h3m-1-6h3m-2 4h3m-2 1h3m-2-4h3m-3 1h3m-3 4h3m-3 2h3m0-1h3m0 0h3m0 0h3m-2-4h3m-2 0h3m-2 0h3m-2-1h3m-3 5h3m-2-6h3m-3 1h3m-3 2h3m-3 3h3m-3 1h3m-2-3h3m-2-4h3m-3 2h3m-3 3h3m-2 0h3m-1-1h3m-3 2h3m-2-7h3m-3 2h3m-3 3h3m-2-4h3m-3 2h3m-2-2h3m-3 6h3m-2-5h3m-3 2h3m-3 1h3m-2-5h3m-3 4h3m-3 2h3m-2-3h3m-3 2h3m-3 1h3m-1-3h3m-2-2h3m-3 3h3m-3 1h3m-3 1h3m-2-5h3m-3 1h3m-3 3h3m-3 1h3m-2-4h3m-3 4h3m-2-4h3m-3 3h3m-2-2h3m-3 3h3m-2-5h3m-3 1h3m-3 5h3m-2-5h3m-3 2h3m-2-3h3m-3 2h3m-3 1h3m-2-2h3m-2 0h3m-2 0h3m-2-1h3m-3 1h3m-3 1h3m-3 1h3m-2-2h3m-3 1h3m-3 2h3m-1-3h3m-3 4h3m-2-4h3m-1 1h3m-2 4h3m-2 0h3m-2-6h3m-3 1h3m-2 4h3m0-5h3m-2 0h3m-3 3h3m-2-1h3m1-1h3m-3 5h3m-2-4h3m-1-1h3m-3 4h3m1-2h3m3 11h3m-9-5h3m-4-1h3m-14 0h3m-5 2h3m-3-2h3m-3-1h3m-4 7h3m-4-1h3m-3-6h3m-4 4h3m-3-4h3m-4 8h3m-4-5h3m-3-2h3m-4 4h3m-3-2h3m-4 4h3m-3-4h3m-3-1h3m-4 4h3m-4 0h3m-3-3h3m-3-2h3m-4 2h3m-4 0h3m-3-2h3m-5 1h3m-4 2h3m-3-1h3m-3-2h3m-4 6h3m-3-1h3m-5-1h3m-5 1h3m-3-3h3m-3-3h3m-4 5h3m-3-1h3m-4-2h3m-3-1h3m-4 0h3m-5 7h3m-3-7h3m-4 7h3m-3-4h3m-5-2h3m-4 5h3m-4-5h3m-3-2h3m-4 7h3m-3-6h3m-4 1h3m-3-1h3m-4 3h3m-4 3h3m-5-3h3m-3-1h3m-4 4h3m-4-5h3m-4 3h3m-4-2h3m-5 3h3m-4-4h3m-3-2h3m-4 4h3m-5 0h3m-3-1h3m-4-2h3m-5 5h3m-4-1h3m-3-2h3m-3-1h3m-4 2h3m-6-2h3m-3-1h3m-4 3h3m-3-1h3m-4 5h3m-3-5h3m-3-3h3m-4 7h3m-7-3h3m-3-1h3m-3-2h3m-4 1h3m-4 0h3m-4 2h3m-5 1h3m-5 3h3m-6-6h3m-3-2h3m-6 4h3m-5 3h3m-7-6h3m-6 4h3m-4 0h3m-8 1h3m-4-3h3m-4 3h3m-7 1h3m-6-2h3m-5 2h3m-3-1h3m-5-1h3m-23 0h3m-6 0h3m-7 1h3m-11-4h3m18 9h3m-3 3h3m2-1h3m1-5h3m-3 2h3m3 3h3m1 0h3m0 0h3m5 2h3m2 0h3m-3 1h3m-1-6h3m0 1h3m-2-3h3m-2 5h3m-1-4h3m-3 2h3m-2-1h3m-2 1h3m0 4h3m-1-2h3m-2 2h3m-1-2h3m-2-1h3m-1-3h3m-1 4h3m-2-3h3m-1-2h3m-1 1h3m-3 2h3m-1-3h3m-2 2h3m-1 4h3m-2-3h3m-2-1h3m-3 3h3m-2-5h3m-3 3h3m-1-1h3m-1 4h3m-2-5h3m-1 4h3m-2-3h3m-3 4h3m0-4h3m-3 1h3m-3 4h3m1-2h3m-2 2h3m-2-3h3m-2-3h3m-3 2h3m-1-3h3m-2 7h3m-1-4h3m-1 0h3m-2 1h3m-2-4h3m-3 1h3m-2 6h3m-2-3h3m-2-3h3m-3 3h3m-2 0h3m-2 1h3m-2-2h3m-2 4h3m-1-7h3m-1 0h3m-2 2h3m-3 2h3m-2 3h3m-2-6h3m-3 3h3m1-4h3m-2 15h3m-3-4h3m-4 2h3m-11 0h3m-5 2h3m-3-4h3m-5 2h3m-5 1h3m-3-2h3m-6 1h3m-4 0h3m-4 0h3m-4-1h3m-3-1h3m-8 1h3m-3-4h3m-4 1h3m-4 0h3m-7 6h3m-4-1h3m-4-1h3m-3-3h3m-5 5h3m-3-2h3m-3-5h3m-4 8h3m-4-7h3m-3-1h3m-4 7h3m-6-4h3m-4 4h3m-5-5h3m-5 6h3m-4-5h3m-6-2h3m-5 6h3m-3-5h3m-4 4h3m-3-1h3m-3-1h3m-4 2h3m-4 1h3m-5-5h3m-4 0h3m-4 5h3m-3-4h3m-10 0h3m-6-3h3m-29 7h3m-7-5h3m-9-2h3m-14 0h3m-8 7h3m-9-5h3m-4 9h3m-1-1h3m-3 4h3m-1 1h3m4-1h3m-2-3h3m-1 3h3m-3 1h3m9-4h3m-3 4h3m-2-2h3m-2 2h3m0-6h3m-3 1h3m3 2h3m-1 0h3m3-2h3m0 5h3m-2-5h3m1-1h3m-2 2h3m-2 0h3m4-2h3m-2 1h3m-3 5h3m3-5h3m-3 3h3m-3 2h3m-1-3h3m-2 3h3m-2-2h3m-3 2h3m-1-2h3m4-4h3m-2 1h3m0-1h3m12 5h3m-1-6h3m-2 2h3m-1 0h3m9 4h3m-1-2h3m-2 8h3m-5-3h3m-14 6h3m-11-6h3m-6 6h3m-11-3h3m-3-1h3m-7 4h3m-4-3h3m-7 3h3m-6-2h3m-6 2h3m-5-4h3m-3-2h3m-4 1h3m-7 0h3m-3-1h3m-10 0h3m-4 0h3m-5 0h3m-3-1h3m-4 4h3m-7 2h3m-6-5h3m-6 3h3m-6-3h3m-9 1h3m-5 4h3m-10 1h3m-5-3h3m-4 2h3m-4-4h3m-13 2h3m-4 1h3m-13 3h3m-22-6h3m-5 0h3m17 6h3m12 4h3m2-3h3m5 6h3m0-6h3m0 4h3m1 2h3m-1 0h3m-2-4h3m0 3h3m5-1h3m3-3h3m-2 3h3m8-3h3m-3 1h3m2-1h3m4 1h3m-2 1h3m-2-2h3m0 2h3m26-4h3m-31 11h3m-23 3h3m-6 2h3m-5-1h3m-3-6h3m-6 5h3m-9-4h3m-8 1h3m-8 3h3m-28 1h3m-4-3h3m-5-2h3m-4 5h3m-6-6h3m-11 6h3m-15 2h3m1 4h3m8 2h3m10-4h3m9 1h3m-1 2h3m59-6h3m-28 13h3m-21 1h3m-7-5h3m-14 0h3m-18 0h3m-5 0h3m-15 4h3m-6 1h3m-7-2h3m-8 1h3m-3-3h3m-6 1h3m-5 13h3m23-6h3m50 1h3m4-2h3m-8 15h3m-17-6h3m-18 6h3m-15-4h3m-20 15h3m340 2h3m26-1h3m4-1h3m48 4h3m60 0h3m-2-4h3m29-3h3m4 1h3m41 4h3m-1 0h3m489 1h3m515 9h3m-14-2h3m-4 0h3m-86 1h3m-38-2h3m-7 1h3m-299-2h3m-6-1h3m-14 4h3m-30 2h3m-32 0h3m-7-5h3m-4 0h3m-19 2h3m-47-1h3m-106-1h3m-330 4h3m-14 1h3m-45-6h3m-4 0h3m-20 4h3m-20 0h3m-34-6h3m-12 6h3m-38-3h3m-9-2h3m-89 5h3m21 2h3m4 1h3m14 5h3m11-4h3m3 5h3m17-3h3m31 1h3m16 2h3m5-3h3m8-1h3m7 3h3m10-5h3m-2 4h3m0-3h3m-2 4h3m16-3h3m12 3h3m362-5h3m31 5h3m53-3h3m5 4h3m47-6h3m-1 3h3m-2 4h3m7-7h3m-1 1h3m-2 0h3m2 4h3m9-1h3m8-1h3m0 3h3m2-5h3m6 2h3m279 3h3m48-3h3m13 3h3m61-1h3m9-2h3m50-1h3m-20 9h3m-27 2h3m-41 1h3m-4 1h3m-6-6h3m-14 5h3m-26-7h3m-19 8h3m-317-8h3m-23 3h3m-7 4h3m-11-1h3m-9-2h3m-19-1h3m-7 3h3m-13-2h3m-14 3h3m-3-5h3m-4 1h3m-8 1h3m-10-2h3m-27-1h3m-14 3h3m-8-3h3m-84 0h3m-37 2h3m-305-3h3m-51 5h3m-7 2h3m-14-3h3m-4-1h3m-9 1h3m-4-2h3m-26 6h3m-9-5h3m-13 4h3m-3-6h3m-4 1h3m-15 6h3m-3-3h3m-5-2h3m-14 3h3m-54-2h3m-9 3h3m-14-1h3m-7-4h3m-20-1h3m-16 1h3m-7 0h3m-7 0h3m-8 3h3m-3-4h3m-4 10h3m8 0h3m-1 2h3m3 2h3m8-5h3m21 1h3m41-1h3m27 3h3m3-5h3m-3 3h3m-1-2h3m15 2h3m-2 4h3m8-4h3m10 1h3m1 0h3m3 3h3m14-7h3m-2 4h3m3 4h3m9-4h3m6-1h3m-1 1h3m2 1h3m261-4h3m21 0h3m40 2h3m54 2h3m13-4h3m0 2h3m33 3h3m3 1h3m0-5h3m-3 2h3m6-4h3m1 2h3m-1-1h3m5 1h3m-1 1h3m1-3h3m2 2h3m10 3h3m18 3h3m8-2h3m1-4h3m6-2h3m330 6h3m7 1h3m13-2h3m27-3h3m1 4h3m15 1h3m9-3h3m-2 2h3m67-2h3m2 10h3m-26-4h3m-16 3h3m-21 2h3m-11-4h3m-8 2h3m-17 2h3m-5-5h3m-6-1h3m-6 3h3m-4 2h3m-7-2h3m-3-3h3m-10 5h3m-7 0h3m-3-5h3m-4-1h3m-6 1h3m-12 7h3m-7-1h3m-6-5h3m-9 1h3m-4 2h3m-20 2h3m-10 1h3m-12-8h3m-6 4h3m-64 3h3m-259-4h3m-29 1h3m-6 3h3m-19 1h3m-7-3h3m-4-2h3m-10-2h3m-11 3h3m-8-3h3m-4 6h3m-7-6h3m-15 4h3m-7-1h3m-4 3h3m-5-6h3m-3-1h3m-4 4h3m-3-2h3m-12 1h3m-3-1h3m-8 3h3m-5 0h3m-3-4h3m-8 3h3m-9 1h3m-5-2h3m-6-1h3m-24 0h3m-8 2h3m-11-1h3m-9 3h3m-64-3h3m-19 1h3m-346 3h3m-6-7h3m-6 7h3m-8 1h3m-6-5h3m-6 2h3m-9-1h3m-6 3h3m-17 0h3m-5-4h3m-7 3h3m-5-1h3m-3-5h3m-6 3h3m-7 2h3m-7 0h3m-3-3h3m-4-1h3m-4 6h3m-5-6h3m-20 4h3m-4-1h3m-5-3h3m-7 2h3m-3-2h3m-7 2h3m-24 3h3m-33-5h3m-5 3h3m-24 1h3m-6 2h3m-4-1h3m-19 1h3m-5-2h3m-3-2h3m-3-3h3m-10 3h3m-4 0h3m-12-1h3m-12 2h3m-11-1h3m-10-3h3m-14 15h3m15-1h3m-1-1h3m4-2h3m-3 2h3m-2-1h3m12 3h3m4 0h3m6-3h3m-2 1h3m-1 0h3m-2-2h3m19-2h3m1 7h3m-2-7h3m-1 2h3m10 0h3m2 0h3m10 2h3m0-2h3m0-1h3m12-1h3m14 2h3m2-2h3m3 0h3m0 6h3m4-4h3m2 0h3m2 4h3m7-2h3m-1 0h3m0 1h3m-2-5h3m-2 0h3m-3 4h3m-3 2h3m3 0h3m0-6h3m-1 3h3m4-3h3m4 1h3m9 2h3m285 2h3m58-2h3m1-1h3m33 1h3m22-1h3m6 3h3m-1-6h3m11 2h3m0 3h3m12 1h3m1-1h3m0 1h3m2-2h3m0 1h3m-3 1h3m0-2h3m0-1h3m1 1h3m-3 2h3m8 1h3m7-2h3m-1-1h3m-1-2h3m1 4h3m1-1h3m3 2h3m2-4h3m-2 4h3m1-3h3m0 0h3m11 3h3m0-4h3m0-2h3m2 1h3m-2-1h3m23 5h3m267-2h3m0-3h3m-2 0h3m4 3h3m7 0h3m15 3h3m8 1h3m1-5h3m23 1h3m2-1h3m2-3h3m-3 3h3m8 3h3m0-5h3m2 5h3m-2-1h3m4-1h3m9 3h3m2 0h3m2-6h3m17 4h3m1 2h3m-1 1h3m7 0h3m1-5h3m29 12h3m-9-6h3m-29 4h3m-16-3h3m-7 5h3m-6-4h3m-30 1h3m-4 1h3m-5-1h3m-4 2h3m-32-5h3m-5 6h3m-6-6h3m-7 5h3m-4-4h3m-8 3h3m-8-1h3m-9 4h3m-9 0h3m-5-4h3m-8 3h3m-5-7h3m-8 2h3m-9 0h3m-8 0h3m-12 3h3m-7 2h3m-9-5h3m-4 5h3m-297-3h3m-9 1h3m-18 1h3m-3-5h3m-27 3h3m-10-2h3m-4 0h3m-8 0h3m-13 4h3m-5-3h3m-6 3h3m-4-4h3m-4 4h3m-3-3h3m-4 1h3m-3-1h3m-4 5h3m-4-6h3m-7 4h3m-4 0h3m-4-3h3m-3-2h3m-4 5h3m-8-2h3m-4-4h3m-4 4h3m-6 1h3m-7 2h3m-3-5h3m-7-1h3m-9 5h3m-4-1h3m-6 3h3m-9-2h3m-4 0h3m-12 0h3m-11-4h3m-11 2h3m-4 1h3m-8 3h3m-10-3h3m-17 1h3m-59-2h3m-8 3h3m-52-3h3m-8-2h3m-21 1h3m-255 2h3m-29 0h3m-16-5h3m-5 8h3m-14-5h3m-7 5h3m-3-5h3m-7 1h3m-10-1h3m-8 4h3m-6 1h3m-7-8h3m-6 1h3m-4 1h3m-7 0h3m-5 3h3m-6-4h3m-5 5h3m-3-4h3m-4 3h3m-3-1h3m-3-3h3m-8 0h3m-8 6h3m-14-4h3m-10 5h3m-6-3h3m-3-4h3m-5 3h3m-10-2h3m-12 3h3m-5 2h3m-5 0h3m-7-5h3m-12 4h3m-15-5h3m-11 3h3m-3-4h3m-5 6h3m-6-4h3m-5 3h3m-6-4h3m-5 3h3m-3-1h3m-5 0h3m-5 0h3m-6-2h3m-7 4h3m-4 0h3m-8-2h3m-3-2h3m-4 6h3m-10-4h3m-21 1h3m-8 4h3m-3-8h3m-25 3h3m0 11h3m4-4h3m6 4h3m7 0h3m-1-3h3m2-2h3m6 5h3m0 1h3m-2-6h3m-1 2h3m8 5h3m-2-5h3m-1 0h3m0-1h3m17 3h3m-2 1h3m-1-3h3m0 2h3m9 2h3m2 1h3m2-7h3m-1 6h3m-2 0h3m-2-1h3m-2 1h3m-1-3h3m0-3h3m-2 7h3m0-3h3m-3 2h3m-1-1h3m1 0h3m-2 1h3m3-4h3m-2 1h3m1 4h3m-2-4h3m-1-2h3m-3 3h3m-2-2h3m-2-1h3m-3 2h3m2-3h3m-3 5h3m-2-1h3m-2-4h3m-2 5h3m-1-4h3m5 1h3m1 1h3m-1 4h3m0-7h3m3 4h3m-2 0h3m-2 0h3m-2-1h3m0-2h3m-3 1h3m-2-1h3m-2 0h3m0 1h3m13-2h3m0 1h3m1 5h3m-2 0h3m1-6h3m-3 7h3m13-6h3m-1-2h3m-2 5h3m4 2h3m7-4h3m267 4h3m-2-1h3m10 0h3m58-3h3m21-2h3m8 4h3m10-4h3m2 0h3m5 6h3m-1-1h3m5-3h3m10 4h3m-2-2h3m-1 2h3m-1-2h3m-2-5h3m-3 5h3m5-4h3m-3 4h3m0-4h3m-1 5h3m-1-5h3m1 6h3m-2-5h3m-3 4h3m-2-2h3m-2 0h3m-3 2h3m1 0h3m-2-2h3m-2-1h3m7 3h3m0 0h3m-1-2h3m-2-1h3m-3 4h3m-2-1h3m-2-1h3m1-2h3m-3 3h3m-2 1h3m4-1h3m-1-3h3m-3 5h3m3-8h3m-3 7h3m-1-4h3m-2-1h3m0 0h3m-2-1h3m-3 7h3m8-1h3m-1-4h3m-3 1h3m7 3h3m12 0h3m-1 1h3m258-1h3m26 0h3m16-1h3m12-2h3m-3 4h3m7-6h3m-3 5h3m17-3h3m0 4h3m6-3h3m-2 2h3m-1-2h3m-1-2h3m-2 3h3m6-4h3m3 4h3m-3 1h3m2-6h3m5 1h3m-3 1h3m-1-2h3m1 2h3m1 0h3m-2-2h3m2 3h3m6 0h3m-3 2h3m-2-4h3m-1 3h3m2 0h3m6 1h3m-2-4h3m-3 6h3m21-4h3m0-1h3m-2-3h3m0 8h3m12-8h3m13 3h3m-20 6h3m-9 0h3m-37 6h3m-12-3h3m-7 3h3m-8-6h3m-9 5h3m-3-1h3m-10 1h3m-8 2h3m-4-7h3m-5 7h3m-12-2h3m-13-3h3m-8-1h3m-7 3h3m-17 1h3m-5-1h3m-4 3h3m-6-8h3m-8 5h3m-4-4h3m-5 5h3m-11-1h3m-7-1h3m-4 2h3m-4 0h3m-5-3h3m-7 1h3m-3-2h3m-9 5h3m-5-6h3m-10 5h3m-11 1h3m-11-2h3m-14 0h3m-4 1h3m-14-3h3m-7 1h3m-5 1h3m-274 2h3m-3-5h3m-8 4h3m-12 0h3m-4-5h3m-7 2h3m-12 2h3m-6 0h3m-3-5h3m-10 1h3m-4 6h3m-11 0h3m-9 0h3m-3-2h3m-5-2h3m-4-2h3m-5 3h3m-7 1h3m-4-1h3m-13-2h3m-5 3h3m-4-4h3m-5 6h3m-3-3h3m-4-3h3m-4 5h3m-4 1h3m-4-5h3m-8 4h3m-4-4h3m-6 1h3m-3-3h3m-4 3h3m-10 1h3m-5 2h3m-3-3h3m-4-3h3m-4 5h3m-6 0h3m-4 0h3m-3-4h3m-4 3h3m-3-1h3m-14 4h3m-5-3h3m-5 0h3m-7 1h3m-6 1h3m-16-4h3m-13 4h3m-9-3h3m-7 4h3m-20-2h3m-23 1h3m-13-6h3m-10 2h3m-5 2h3m-6 3h3m-4 1h3m-3-4h3m-5-3h3m-4 1h3m-18 3h3m-3-4h3m-19 5h3m-17 0h3m-17 0h3m-264 0h3m-18-2h3m-22-1h3m-13 0h3m-9 3h3m-11-4h3m-21-1h3m-7 1h3m-12 0h3m-4 2h3m-10-3h3m-10 1h3m-10-1h3m-6 2h3m-5 2h3m-4 3h3m-7-4h3m-4 1h3m-6-1h3m-5 0h3m-4 1h3m-7 1h3m-4-2h3m-3-4h3m-8 6h3m-3-4h3m-5 2h3m-9 3h3m-4-4h3m-24 2h3m-24 1h3m-10 1h3m-3-5h3m-4 5h3m-5-4h3m-5-2h3m-8 0h3m-9 0h3m-4 3h3m-3-2h3m-5-1h3m-6 5h3m-4 0h3m-6 0h3m-4-5h3m-4 2h3m-6 0h3m-5-1h3m-14 5h3m-5-3h3m-4 4h3m-9-2h3m-17 9h3m-2-5h3m0 5h3m5-2h3m5-3h3m1 2h3m3 3h3m-2-5h3m-2 0h3m0 3h3m6-4h3m-2 6h3m-2-2h3m1-1h3m3 3h3m-2-7h3m-3 7h3m0-1h3m-3 1h3m-2 0h3m0-2h3m-2-4h3m-3 5h3m-1 1h3m-2-3h3m2 4h3m-1-5h3m-2 1h3m6 1h3m1 0h3m-2-1h3m3-3h3m1 1h3m16-2h3m0 5h3m3-5h3m6 2h3m-2 4h3m-1 1h3m-2-6h3m4 2h3m-2 3h3m-2-1h3m-1-2h3m0 2h3m3 3h3m-1-3h3m-2-3h3m-3 6h3m2-5h3m-3 2h3m2 2h3m2-3h3m-3 2h3m-3 1h3m-1-3h3m2 3h3m3-3h3m-3 4h3m-2-3h3m-3 1h3m1-4h3m6 5h3m4-4h3m8 1h3m-2-2h3m8-1h3m-3 7h3m7 0h3m276-7h3m11 1h3m1 0h3m16 4h3m2-5h3m-2 2h3m22-3h3m13 8h3m7 0h3m-2-2h3m20 0h3m13 0h3m0 2h3m-1-6h3m-3 5h3m-2-5h3m9 3h3m0 0h3m1-2h3m-3 2h3m1-5h3m-2 8h3m1-5h3m-1 3h3m2-1h3m-1 2h3m-2-6h3m-2 0h3m-3 5h3m-2-4h3m-3 2h3m0-1h3m-2 5h3m1-7h3m-1 4h3m-2-1h3m-1-3h3m-3 1h3m2 4h3m1 0h3m2-5h3m0-1h3m6 1h3m-2 6h3m-1-1h3m-2 1h3m-1-3h3m5 3h3m-2-5h3m0-2h3m-2 2h3m-3 1h3m-1-2h3m-1 6h3m-2-2h3m13 1h3m-2-2h3m-1 0h3m7 2h3m-2-3h3m11 0h3m-1 2h3m246-4h3m3 2h3m13 3h3m5 1h3m2-5h3m3 1h3m-2 4h3m5-4h3m1 1h3m6-4h3m-2 2h3m4 0h3m0 3h3m0-3h3m-2 4h3m4-3h3m-1-1h3m-1 1h3m-3 2h3m3 0h3m0-4h3m-3 2h3m14 3h3m-1 0h3m4-2h3m-2 3h3m-2-1h3m16-3h3m-1 0h3m5 2h3m6-2h3m-2 0h3m0 0h3m5 0h3m0-3h3m1 2h3m-3 2h3m5-2h3m4 5h3m23 0h3m14-2h3m9 9h3m-6-3h3m-58 0h3m-4 4h3m-6-7h3m-4 2h3m-19-2h3m-9 2h3m-6-1h3m-11 1h3m-9 4h3m-5 0h3m-11 1h3m-5-2h3m-5-4h3m-5 0h3m-3-1h3m-8 5h3m-11 1h3m-5-4h3m-7 1h3m-6 5h3m-3-8h3m-8 4h3m-6 3h3m-4-3h3m-4-4h3m-10 5h3m-7-5h3m-4 3h3m-5 1h3m-10-3h3m-6-1h3m-5 3h3m-8 4h3m-8-4h3m-9 5h3m-4-3h3m-7-3h3m-10 0h3m-5 3h3m-12 1h3m-8-4h3m-5 3h3m-282 3h3m-8-5h3m-10 0h3m-11 0h3m-15-1h3m-6 0h3m-6 2h3m-5-1h3m-6 2h3m-6-2h3m-5 3h3m-12-4h3m-14 2h3m-5-1h3m-6 0h3m-3-3h3m-10 3h3m-10-1h3m-4 6h3m-5-4h3m-7 0h3m-5 0h3m-6 0h3m-6-2h3m-4-1h3m-4 5h3m-5 0h3m-7-3h3m-5-1h3m-4 5h3m-7-7h3m-5 7h3m-6-5h3m-6 2h3m-11-1h3m-8 1h3m-3-3h3m-6 3h3m-5 1h3m-10 1h3m-15-2h3m-4-3h3m-9-1h3m-10 2h3m-13 4h3m-6-6h3m-31 4h3m-24 2h3m-10 0h3m-3-4h3m-5 4h3m-26-2h3m-17-3h3m-313 6h3m-8-5h3m-29 1h3m-6 1h3m-5 3h3m-10-1h3m-8 1h3m-5-1h3m-4-4h3m-3-2h3m-4 3h3m-14 0h3m-4-1h3m-8 4h3m-3-4h3m-5 5h3m-3-5h3m-7 6h3m-4 0h3m-3-4h3m-4 0h3m-8-4h3m-4 3h3m-4 0h3m-6 4h3m-12-3h3m-5-3h3m-15 3h3m-3-3h3m-10 5h3m-5-3h3m-15 5h3m-9-5h3m-5 2h3m-4 2h3m-4 0h3m-3-7h3m-7 7h3m-11-4h3m-8 4h3m-13-6h3m-4 4h3m-9-1h3m-10 2h3m-7-1h3m-4 2h3m-6-1h3m-4-3h3m-6 3h3m-11-1h3m-4-1h3m-17-1h3m-14 0h3m-9 4h3m5 9h3m2-1h3m-2-6h3m-1 1h3m5 3h3m-1-2h3m3 1h3m9 2h3m3-3h3m-3 5h3m-2-1h3m11-6h3m-1 4h3m0-5h3m-2 8h3m-2-5h3m7 3h3m-2-1h3m4 2h3m-1-5h3m1 6h3m12-3h3m2 1h3m-2-2h3m1 1h3m-2-1h3m4 1h3m12-1h3m-3 1h3m-2-2h3m0 0h3m-1 1h3m4 1h3m2 0h3m4-3h3m0 1h3m2 4h3m0 0h3m-2 0h3m-1 1h3m9-1h3m5-4h3m-2 0h3m0-2h3m-1 2h3m-2 4h3m6-7h3m-1 1h3m3 2h3m0 0h3m2 4h3m38-6h3m270 3h3m7-1h3m4 0h3m4 2h3m1-3h3m1 0h3m0 4h3m25 1h3m4-4h3m4 2h3m21 0h3m9-3h3m12-1h3m6 6h3m-2-5h3m8 4h3m-2-5h3m16 5h3m1-4h3m-1 0h3m-1 0h3m4-1h3m0 4h3m-2-1h3m-3 3h3m-1-3h3m-2-4h3m4 1h3m0 3h3m0 0h3m-3 2h3m0-3h3m2-1h3m-1 6h3m-1-8h3m0 4h3m-2 2h3m0 0h3m0-5h3m2 7h3m-2-3h3m-2-2h3m-1 3h3m-1 1h3m-2-2h3m-2-2h3m8 3h3m-2-4h3m20 4h3m310-3h3m-3 4h3m8-7h3m6 1h3m-2 2h3m1-2h3m1 1h3m-2 6h3m-2-5h3m9 0h3m19 5h3m2-8h3m-3 4h3m-2 4h3m-2-8h3m0 5h3m-1 1h3m1-3h3m-3 2h3m0 0h3m2 0h3m3-1h3m2-2h3m-2 1h3m0 3h3m0-4h3m3 0h3m0 2h3m5 4h3m-2-5h3m0-2h3m-3 5h3m-1 1h3m-2-6h3m0 0h3m-2 1h3m0 1h3m7-3h3m1 7h3m34-6h3m-6 14h3m-46-6h3m-4 1h3m-6 0h3m-6 2h3m-13-3h3m-5 4h3m-7 0h3m-10 0h3m-5-2h3m-7 2h3m-4-4h3m-7 2h3m-8 4h3m-4-3h3m-7 2h3m-6 2h3m-6-3h3m-22 1h3m-9 0h3m-13-2h3m-5 2h3m-8 0h3m-5-3h3m-6 4h3m-3-3h3m-5 2h3m-8 1h3m-6-1h3m-10-3h3m-3-1h3m-21 4h3m-31-1h3m-4 3h3m-339 0h3m-4-3h3m-3-4h3m-7 1h3m-24-2h3m-4 8h3m-3-6h3m-8 6h3m-3-4h3m-7-3h3m-7 0h3m-14 6h3m-5-1h3m-3-3h3m-4-1h3m-4 5h3m-6 0h3m-15 0h3m-5-6h3m-5 5h3m-5-1h3m-5 0h3m-3-1h3m-14 2h3m-11-1h3m-12-3h3m-5 6h3m-4-4h3m-56 4h3m-5-4h3m-8 0h3m-4-3h3m-14 6h3m-14-6h3m-8 7h3m-4-2h3m-6-3h3m-14-3h3m-10 7h3m-4-7h3m-10 3h3m-20 3h3m-326-5h3m-5 1h3m-3-2h3m-7 2h3m-3-1h3m-7 3h3m-3-3h3m-4 5h3m-18-6h3m-5 2h3m-4 4h3m-5-4h3m-5 6h3m-16 0h3m-5-8h3m-6 1h3m-4 0h3m-6 0h3m-14 5h3m-5-3h3m-6-1h3m-4 0h3m-6 4h3m-5 1h3m-26-6h3m-5 3h3m-8 1h3m-4-3h3m-7 4h3m-7-4h3m-14 4h3m-7-3h3m-7 0h3m-8-2h3m-9 0h3m-5 0h3m-11 5h3m-5-4h3m-5 0h3m-7 3h3m-3-1h3m-13 0h3m-33-3h3m-7 4h3m-3 4h3m30 0h3m2 1h3m-3 2h3m8-3h3m-3 4h3m1 3h3m2-8h3m4 5h3m3-5h3m4 3h3m31 0h3m4 5h3m5-6h3m12-2h3m0 0h3m3 1h3m6 6h3m3 0h3m-1-5h3m-3 4h3m0-3h3m-2 0h3m0 3h3m3-5h3m-2 0h3m-3 4h3m-2-2h3m0 0h3m13-1h3m2 4h3m12-1h3m0 0h3m18-1h3m295-1h3m-1-1h3m0 0h3m0 5h3m1-6h3m9 3h3m17-2h3m13 2h3m-2 1h3m6-5h3m61 5h3m-1-5h3m0 5h3m-1-4h3m19 4h3m-2 1h3m2 2h3m3-1h3m0 1h3m-2-3h3m0-4h3m-3 6h3m8-6h3m0 3h3m3-3h3m2 0h3m-3 2h3m1 2h3m8-2h3m15 1h3m24-2h3m12 1h3m258 0h3m19-2h3m14 4h3m1-3h3m-2 1h3m8 2h3m0 1h3m-2-5h3m8 4h3m-3 2h3m4-7h3m3 5h3m2 3h3m10-6h3m0 2h3m6-3h3m-1 1h3m-2 1h3m0 2h3m-2-3h3m19 3h3m13 0h3m-1 0h3m6-4h3m0-1h3m34 7h3m0-1h3m8 1h3m0-7h3m-3 4h3m-27 10h3m-31-1h3m-4-1h3m-36 0h3m-7 3h3m-3-3h3m-5 1h3m-9-5h3m-15 4h3m-10-1h3m-4 2h3m-6 0h3m-15 2h3m-4-6h3m-12 0h3m-6 5h3m-11-3h3m-14 5h3m-10-6h3m-9 4h3m-8-4h3m-18 2h3m-322-2h3m-38-2h3m-11 5h3m-4 3h3m-10-5h3m-6 2h3m-25 1h3m-5-4h3m-5 1h3m-10 0h3m-5 1h3m-5-2h3m-8 5h3m-4-3h3m-7-1h3m-10-1h3m-32 1h3m-5 1h3m-7 4h3m-36-3h3m-4-4h3m-10 6h3m-16 0h3m-17 0h3m-14 0h3m-6-2h3m-330-4h3m-34 1h3m-27 0h3m-4-1h3m-5 1h3m-5-1h3m-8 6h3m-9-2h3m-11-2h3m-5 1h3m-7-1h3m-12 4h3m-7-7h3m-9 3h3m-5 5h3m-3-8h3m-9 6h3m-23-4h3m-8-2h3m-12 5h3m-29-3h3m-4 6h3m-4-7h3m-5 4h3m-3-1h3m-20 0h3m-3-4h3m-6 5h3m-4-1h3m-11-3h3m-8 0h3m-23 5h3m-9-3h3m-7 4h3m-3 4h3m-2 0h3m0-2h3m37 4h3m4-1h3m0 2h3m5-2h3m13-1h3m5 2h3m3-1h3m49-3h3m4 3h3m-2-1h3m12 0h3m3 1h3m3 3h3m3-2h3m7 2h3m1-7h3m2 4h3m1 3h3m28-7h3m299 0h3m16 1h3m13 6h3m107-6h3m11 5h3m0 1h3m-3 1h3m-2-3h3m9-1h3m-1-4h3m1 1h3m-1-1h3m-1 7h3m11-3h3m3-2h3m-1 1h3m13 3h3m21-4h3m29 0h3m288-1h3m7 2h3m4-1h3m-3 1h3m28 0h3m41-2h3m-2 1h3m5 5h3m-2-3h3m6 1h3m7 0h3m16-4h3m10 3h3m5-1h3m10 3h3m22 0h3m9 8h3m-3-3h3m-42-2h3m-4 2h3m-5 5h3m-22-1h3m-7 0h3m-3-2h3m-6-5h3m-15 6h3m-27 0h3m-3-5h3m-11 0h3m-5 2h3m-19-2h3m-42 5h3m-16-4h3m-26 1h3m-349 5h3m-26-5h3m-18-2h3m-12 6h3m-6-7h3m-30 1h3m-82 5h3m-31-5h3m-7 0h3m-14 1h3m-14-1h3m-6 7h3m-390-5h3m-23 1h3m-4-1h3m-14-1h3m-21 2h3m-24 3h3m-20-1h3m-14-4h3m-24-2h3m-12 1h3m-8 1h3m-10 0h3m-5 1h3m-6 0h3m-5 2h3m-11 10h3m4-1h3m6-2h3m6-3h3m-3 5h3m9-3h3m4 0h3m56 3h3m0-5h3m35 0h3m2 1h3m80 5h3m339-3h3m3-1h3m69 0h3m5 3h3m36-5h3m-2 5h3m17-5h3m395 4h3m5-3h3m0-1h3m5 3h3m21 2h3m16 2h3m25-2h3m-1 0h3m32-5h3m-68 12h3m-25 0h3m-66 2h3m-14-6h3m-424 4h3m-87 1h3m-24-3h3m-20 3h3m-351-5h3m-32 5h3m-22-3h3m-22-2h3m-4 1h3m-24 0h3m-99-2h3m-20 6h3m25 12h3m507 6h3m7-4h3m2 2h3m27 1h3m128 0h3m603 9h3m-8-2h3m-29 0h3m-6-3h3m-3-2h3m-8 1h3m-6 6h3m-7-3h3m-14 2h3m-7 0h3m-4-2h3m-4-2h3m-5 5h3m-3-2h3m-8 2h3m-3-1h3m-14-4h3m-11 2h3m-6-1h3m-7 3h3m-6 1h3m-4-1h3m-6 0h3m-4-1h3m-4-2h3m-4 4h3m-3-1h3m-6-2h3m-8 1h3m-4 1h3m-14-2h3m-4 1h3m-4-2h3m-4 2h3m-3-1h3m-4 2h3m-8 1h3m-3-2h3m-5-5h3m-5 6h3m-4 1h3m-4-1h3m-3-1h3m-7-1h3m-4 3h3m-4 0h3m-5-1h3m-8 1h3m-4-3h3m-6 2h3m-5 1h3m-3-2h3m-4 1h3m-4-1h3m-4 1h3m-3-3h3m-5 3h3m-6-1h3m-3-2h3m-11 3h3m-6 1h3m-4-1h3m-6 1h3m-4-1h3m-8-5h3m-4 3h3m-8 3h3m-6-2h3m-5 1h3m-3-1h3m-8-3h3m-6 5h3m-3-2h3m-3-3h3m-4 3h3m-6-1h3m-4 1h3m-4-4h3m-4 5h3m-4 0h3m-4 0h3m-3-2h3m-4 2h3m-9 0h3m-7 0h3m-5-1h3m-4 2h3m-5 0h3m-3-1h3m-3-1h3m-3-2h3m-7 2h3m-7 2h3m-4-4h3m-4 3h3m-5 1h3m-4-3h3m-6 2h3m-6 1h3m-3-2h3m-6 2h3m-3-2h3m-3-1h3m-4-4h3m-4 7h3m-8-1h3m-3-4h3m-8 5h3m-10-1h3m-3-1h3m-15 0h3m-224-4h3m-47 5h3m-49-1h3m-28-3h3m-11 4h3m-7-5h3m-16 3h3m-4 0h3m-11 0h3m-10 3h3m-33-1h3m-7-2h3m-44 0h3m-10 1h3m-4-5h3m-6 5h3m-11 2h3m-3-4h3m-10 0h3m-5-1h3m-6 4h3m-3-2h3m-4-3h3m-5 6h3m-9-1h3m-8-6h3m-7 0h3m-298 3h3m-19 4h3m-11-2h3m-37 2h3m-15-6h3m-41 5h3m-7-1h3m-8 2h3m-35-1h3m-8-4h3m-10 4h3m-27 0h3m-7 0h3m-17 0h3m-25 0h3m-11-2h3m-21 11h3m0-5h3m-2 1h3m-3 3h3m-2-5h3m-1 4h3m-2-5h3m-1 5h3m1-2h3m-2-4h3m-3 6h3m-2-3h3m-3 3h3m-2-4h3m-3 2h3m-3 1h3m-2 1h3m-3 1h3m-2-1h3m-3 1h3m-2-3h3m-3 1h3m-2-2h3m-3 3h3m-2-3h3m-3 5h3m-1-6h3m-2 3h3m-3 2h3m-2-4h3m-3 2h3m-3 2h3m-2-7h3m-3 7h3m-2 0h3m-2-3h3m-2 3h3m-2-2h3m-3 2h3m-2-2h3m-3 3h3m-2-1h3m-2 0h3m-2-2h3m-2 0h3m-3 1h3m-3 2h3m-2-4h3m-3 4h3m-2-4h3m-3 1h3m-2-1h3m-3 1h3m-2-2h3m-3 3h3m-2 2h3m-2-3h3m-3 2h3m-2-4h3m-3 4h3m-2 0h3m-1 0h3m-2 1h3m-2 0h3m-2-5h3m-3 1h3m-3 1h3m-3 1h3m-3 2h3m0 0h3m-2-3h3m-3 2h3m-3 1h3m-2-7h3m-3 2h3m-3 4h3m-2-1h3m-2 1h3m-1 0h3m-2-2h3m-3 1h3m1 0h3m-2-3h3m-1 3h3m-3 2h3m-2-2h3m-2-3h3m0-1h3m-2 5h3m-2-4h3m-3 3h3m-3 1h3m2-1h3m-2-6h3m0 4h3m-1 3h3m-1 0h3m-1 0h3m-1-1h3m0-3h3m-3 4h3m-1-6h3m6 2h3m-1 3h3m4 1h3m3-2h3m3 3h3m2-1h3m-1 0h3m3 0h3m7-1h3m0-4h3m1 5h3m0-1h3m-1 0h3m0 0h3m6-1h3m4 2h3m1-3h3m0 1h3m-3 1h3m2 0h3m-3 1h3m5-2h3m-2 1h3m0-1h3m-1-2h3m-3 3h3m-2-2h3m-2-3h3m3 6h3m10-2h3m2 0h3m0-2h3m-3 4h3m-1-6h3m0 0h3m-1 7h3m11-1h3m279 0h3m13-2h3m0-3h3m2-1h3m-3 1h3m-1 5h3m0-3h3m0 0h3m-1 3h3m-2-5h3m-3 5h3m-1-5h3m-3 2h3m-3 3h3m-2-7h3m-1 2h3m-3 1h3m-3 1h3m-2-1h3m-2 2h3m-1 0h3m-2 0h3m-3 1h3m-2 0h3m-3 2h3m-1-5h3m-3 3h3m-2-4h3m-3 4h3m0-1h3m-1-4h3m-2 5h3m-1-5h3m-3 4h3m-2-3h3m-3 6h3m-2-6h3m0-2h3m-3 5h3m-3 3h3m-2-3h3m-2-4h3m-3 6h3m-2 0h3m8-6h3m-3 6h3m2 0h3m-1-3h3m-3 4h3m-2-2h3m13-3h3m1 3h3m-1-3h3m-2 4h3m0-1h3m-1-4h3m9 6h3m7-5h3m3 2h3m3 3h3m-2-3h3m0-3h3m-1 4h3m-1-5h3m-3 6h3m1 0h3m4-3h3m-3 3h3m-1 0h3m-2 0h3m1-5h3m1 2h3m1 0h3m-1 3h3m-3 1h3m13-7h3m-3 5h3m-3 1h3m3 1h3m-2-1h3m0 0h3m-1 0h3m11-6h3m-1 6h3m-1-4h3m1 1h3m-2 0h3m1 1h3m4 0h3m7-2h3m-2 5h3m-2-1h3m-2-1h3m4 0h3m6-4h3m26 5h3m205-1h3m-3 1h3m0-2h3m-3 1h3m1-5h3m-3 4h3m-3 2h3m-2-3h3m-2-3h3m-2 6h3m-1-5h3m-3 4h3m-2-3h3m-3 3h3m-2-1h3m-2-3h3m-3 2h3m-3 3h3m-2-1h3m-2 1h3m-2-4h3m-3 3h3m-3 1h3m-2-7h3m-3 1h3m-3 6h3m-2-6h3m-3 3h3m-3 1h3m-3 1h3m-2-1h3m-3 3h3m-2-4h3m-3 2h3m-3 1h3m-2-2h3m-3 1h3m-1 0h3m-3 1h3m-2-1h3m-3 1h3m-1-5h3m-3 2h3m-3 3h3m-2-3h3m-3 2h3m-3 1h3m-2-2h3m-2 2h3m-3 1h3m-2-8h3m-3 5h3m-2-1h3m-2 2h3m-2-6h3m-3 6h3m-2-4h3m-3 3h3m-3 1h3m-2 1h3m-2-7h3m-3 1h3m-3 5h3m-3 1h3m-2-7h3m-3 1h3m-3 3h3m-3 2h3m-1-4h3m-3 3h3m-2-4h3m-3 1h3m-3 2h3m-3 2h3m-3 2h3m-2-4h3m-2 1h3m-2-2h3m-3 5h3m-2-2h3m-2-2h3m-2-1h3m-2 2h3m-3 3h3m-2-4h3m-2 3h3m-2-2h3m-3 2h3m-2 0h3m-3 1h3m-2-7h3m-3 5h3m-2-4h3m-3 4h3m-1 0h3m-2 1h3m-2-5h3m-3 3h3m-3 2h3m-2-6h3m-3 5h3m-3 2h3m-2-7h3m-3 1h3m-3 3h3m-3 3h3m-2-8h3m-3 4h3m-3 1h3m-3 1h3m-2-1h3m-3 2h3m-2-6h3m-3 5h3m-2-4h3m-2-1h3m-3 2h3m-3 2h3m-3 3h3m-2-7h3m-3 3h3m-3 1h3m-3 1h3m-3 2h3m-2-5h3m-3 1h3m-2-4h3m-3 1h3m-3 3h3m-2-2h3m-3 2h3m-3 1h3m-3 2h3m-2 0h3m-3 1h3m-2-5h3m-3 1h3m-3 2h3m-2-3h3m-3 1h3m-3 2h3m-2-1h3m-3 1h3m-3 2h3m-2-3h3m-2-1h3m-3 3h3m-2-6h3m-3 2h3m-2-2h3m-3 3h3m-3 1h3m-3 3h3m-2-2h3m-2-5h3m-3 2h3m-3 1h3m-3 3h3m-3 1h3m-1-6h3m-3 3h3m-3 1h3m-3 1h3m-3 1h3m-2-7h3m-2-1h3m-3 1h3m-3 3h3m-3 3h3m-2-5h3m-3 2h3m-3 1h3m-3 2h3m-2-5h3m-3 3h3m-2-2h3m-3 3h3m-2-5h3m-3 3h3m-3 3h3m-2-6h3m-3 2h3m-3 3h3m-2-2h3m-3 1h3m-3 3h3m-2-8h3m-3 1h3m-3 4h3m-2-5h3m-3 7h3m-2-5h3m-3 2h3m-2-4h3m-3 4h3m-3 2h3m-3 2h3m-2-5h3m-3 1h3m-3 1h3m-3 1h3m-3 2h3m-2-7h3m-3 2h3m-3 3h3m-2-4h3m-3 1h3m-3 2h3m-3 2h3m-2-6h3m-3 1h3m-3 3h3m-2-4h3m-3 1h3m-3 1h3m-2-1h3m-3 1h3m-3 3h3m-2-3h3m-3 1h3m-3 3h3m-2-5h3m-3 1h3m-3 1h3m-3 3h3m-2-5h3m-3 4h3m-2-5h3m-3 1h3m-3 3h3m-3 1h3m-3 1h3m-2-4h3m-3 1h3m-3 3h3m-1-6h3m-3 3h3m-3 3h3m-2 1h3m-2-5h3m-3 1h3m-3 3h3m-2-6h3m-3 5h3m-3 1h3m-2-4h3m-3 1h3m-3 1h3m-3 1h3m-3 1h3m-2-5h3m-3 2h3m-2 0h3m-3 1h3m-3 1h3m-3 1h3m-2-1h3m-2-3h3m0-1h3m-3 5h3m-2 0h3m-2-5h3m-3 4h3m-2-6h3m-3 3h3m-3 4h3m-2 1h3m-2-6h3m-3 2h3m-3 1h3m-3 1h3m-2-3h3m-2 0h3m-3 1h3m-3 3h3m-2-1h3m-3 2h3m-2 0h3m-2-4h3m-3 1h3m-3 1h3m-2-3h3m-3 1h3m-3 2h3m-2-5h3m-3 1h3m-2 1h3m-3 4h3m-2-6h3m-3 2h3m-2-2h3m-3 6h3m-2-6h3m-3 5h3m-2-5h3m-3 5h3m-3 1h3m-3 1h3m-2-1h3m-2 0h3m-2-3h3m-2-2h3m-2 2h3m-3 2h3m-3 2h3m-2-4h3m-3 1h3m-3 2h3m-1-3h3m-3 3h3m-2-3h3m-3 3h3m-2-3h3m-3 2h3m-2-3h3m-3 1h3m-3 3h3m-2-2h3m-2-2h3m-3 1h3m-3 1h3m-2 0h3m-2-3h3m-3 1h3m-3 1h3m-3 1h3m-2-4h3m-3 5h3m-2-1h3m-3 1h3m-3 2h3m-2-8h3m-3 1h3m-3 4h3m-3 1h3m-3 2h3m-2-8h3m-3 2h3m-3 3h3m-2 1h3m-3 1h3m-2-5h3m-2 4h3m-1-2h3m-3 1h3m-3 2h3m-3 1h3m-2-6h3m-3 3h3m-3 1h3m-2 2h3m-2-7h3m-3 4h3m-3 3h3m-2-6h3m-3 5h3m-3 1h3m-2-6h3m-3 5h3m-2-3h3m-3 1h3m-3 3h3m-2-5h3m-3 2h3m-2-2h3m-3 2h3m-3 2h3m-2-6h3m-3 4h3m-2 0h3m-3 1h3m-2-4h3m-1 1h3m-1-1h3m-2 1h3m-3 4h3m-2-6h3m-2 2h3m-2 5h3m-2-6h3m-3 2h3m-3 1h3m-3 2h3m-2 0h3m-3 1h3m-2-7h3m-3 5h3m-3 1h3m-2-4h3m-3 2h3m-2-1h3m-3 2h3m-2-3h3m-3 1h3m-3 4h3m-2-7h3m-1 1h3m-3 6h3m-2-3h3m-2-5h3m-3 2h3m-3 1h3m-3 2h3m-3 2h3m-2-3h3m-2-1h3m-3 1h3m-2-3h3m-3 1h3m-3 6h3m-2-3h3m-2 0h3m-3 1h3m-2 0h3m-3 1h3m-2-1h3m-2-2h3m-2-2h3m-1 3h3m-3 1h3m-2-3h3m-3 2h3m-2 2h3m-2-7h3m-3 7h3m-2-2h3m0 0h3m-3 2h3m-2-6h3m-2 0h3m3 1h3m-2 1h3m-3 2h3m-3 1h3m-2-4h3m-3 4h3m-1-2h3m-3 2h3m-2-4h3m-2 3h3m1-5h3m-2 6h3m-2-4h3m-1-2h3m-2 0h3m-3 8h3m-2-6h3m-3 4h3m-1 1h3m-1-4h3m-1 0h3m-2 1h3m-2 1h3m-2-3h3m-3 3h3m-3 2h3m-2-5h3m-2-1h3m-2 6h3m1-4h3m-2 2h3m-1-4h3m-2 2h3m-3 5h3m-2-2h3m6 1h3m-3 1h3m2 0h3m-2-5h3m-2 2h3m-2-1h3m-3 3h3m-1-3h3m-3 4h3m14 0h3m-2-2h3m2 0h3m-4 5h3m-7-1h3m-8 2h3m-4-3h3m-11 4h3m-3-4h3m-7 1h3m-8-1h3m-4 0h3m-4 5h3m-4-5h3m-6 3h3m-4 0h3m-3-1h3m-4-1h3m-4 5h3m-3-6h3m-6 7h3m-3-4h3m-3-3h3m-6-1h3m-6 2h3m-5 2h3m-3-1h3m-5 0h3m-3-1h3m-5-1h3m-3-1h3m-5 6h3m-3-4h3m-3-2h3m-4 3h3m-4 2h3m-3-4h3m-5 0h3m-4 0h3m-4 7h3m-9-2h3m-5-2h3m-3-4h3m-5 6h3m-3-2h3m-3-3h3m-5 4h3m-4-3h3m-4 2h3m-4 1h3m-4-3h3m-3-2h3m-5 2h3m-4 4h3m-3-1h3m-3-5h3m-4 8h3m-3-7h3m-4 4h3m-3-4h3m-4 0h3m-4 5h3m-4-5h3m-4 1h3m-3-2h3m-4 5h3m-5-3h3m-5 0h3m-4 2h3m-3-1h3m-3-1h3m-3-2h3m-4 0h3m-4 3h3m-4 3h3m-3-4h3m-3-2h3m-4 4h3m-3-3h3m-4 4h3m-3-3h3m-3-1h3m-4 7h3m-3-6h3m-5 4h3m-4 2h3m-3-6h3m-4 0h3m-4 0h3m-4 3h3m-3-1h3m-3-4h3m-4 6h3m-3-3h3m-3-2h3m-4 2h3m-4 4h3m-3-4h3m-4-3h3m-4 3h3m-3-1h3m-4 3h3m-4-4h3m-4 2h3m-4 3h3m-3-2h3m-3-4h3m-4 6h3m-4 1h3m-3-4h3m-3-1h3m-4 1h3m-4-3h3m-4 2h3m-4 1h3m-4-2h3m-6-1h3m-4 3h3m-5 1h3m-3-3h3m-3-1h3m-5 4h3m-4 1h3m-4-4h3m-3-1h3m-4 4h3m-3-2h3m-4 2h3m-3-3h3m-4 4h3m-4 0h3m-3-4h3m-4 4h3m-4 2h3m-3-1h3m-4-2h3m-3-2h3m-3-1h3m-6-1h3m-5 2h3m-4 5h3m-3-2h3m-3-3h3m-3-1h3m-3-1h3m-5 2h3m-3-1h3m-4 7h3m-3-2h3m-3-1h3m-3-1h3m-3-1h3m-4 2h3m-3-3h3m-4 1h3m-5-3h3m-4 6h3m-3-4h3m-3-2h3m-4 2h3m-4-2h3m-4 1h3m-4 3h3m-3-2h3m-4 1h3m-4 3h3m-4-3h3m-4 1h3m-4 1h3m-3-4h3m-4 6h3m-3-5h3m-4 3h3m-3-3h3m-4 1h3m-3-1h3m-4-1h3m-4 5h3m-3-1h3m-3-2h3m-3-2h3m-4 5h3m-3-1h3m-3-2h3m-4 3h3m-3-1h3m-3-2h3m-3-3h3m-5 8h3m-3-8h3m-4 6h3m-3-2h3m-3-2h3m-3-1h3m-4 4h3m-3-1h3m-4 3h3m-3-1h3m-3-5h3m-5 3h3m-3-1h3m-3-1h3m-3-2h3m-4 8h3m-3-2h3m-3-2h3m-3-1h3m-4 4h3m-4-2h3m-3-1h3m-3-1h3m-4 0h3m-3-1h3m-4 3h3m-3-1h3m-4 0h3m-3-1h3m-3-3h3m-4 2h3m-3-1h3m-4 5h3m-3-4h3m-4 4h3m-3-1h3m-3-1h3m-3-1h3m-3-1h3m-3-1h3m-4 6h3m-3-1h3m-3-2h3m-4 0h3m-4 4h3m-3-2h3m-3-1h3m-4-1h3m-4 2h3m-3-4h3m-3-1h3m-4-1h3m-4 7h3m-3-2h3m-3-3h3m-3-1h3m-4 1h3m-4 3h3m-3-3h3m-4 4h3m-3-2h3m-3-1h3m-4 3h3m-4 1h3m-3-3h3m-3-1h3m-4-3h3m-4 1h3m-4 2h3m-3-3h3m-4 2h3m-4 5h3m-5 0h3m-3-1h3m-3-3h3m-3-2h3m-4 6h3m-3-3h3m-4-2h3m-4 5h3m-3-7h3m-4 2h3m-3-2h3m-4 7h3m-4-1h3m-3-1h3m-3-2h3m-3-1h3m-3-2h3m-4 6h3m-4 0h3m-4 1h3m-5 1h3m-4-5h3m-4 3h3m-3-1h3m-3-2h3m-3-1h3m-4 0h3m-3-2h3m-4 5h3m-3-5h3m-4 5h3m-3-4h3m-3-1h3m-5 3h3m-5 3h3m-3-3h3m-3-2h3m-4 3h3m-3-3h3m-4 2h3m-3-1h3m-4 1h3m-4 3h3m-3-1h3m-3-3h3m-4 5h3m-3-6h3m-4 7h3m-3-7h3m-4 4h3m-3-5h3m-4 1h3m-5 5h3m-3-3h3m-4 2h3m-3-1h3m-3-3h3m-4 3h3m-3-1h3m-4 1h3m-3-1h3m-3-1h3m-5 1h3m-4-3h3m-4 1h3m-4 4h3m-3-1h3m-3-2h3m-3-2h3m-4 4h3m-4-1h3m-3-2h3m-4 3h3m-3-1h3m-4 1h3m-3-4h3m-4 3h3m-5 4h3m-3-4h3m-3-3h3m-5 5h3m-3-1h3m-3-3h3m-4 3h3m-3-2h3m-4 2h3m-3-2h3m-4-1h3m-4 5h3m-3-6h3m-4 7h3m-3-6h3m-4 0h3m-5 4h3m-3-3h3m-4-2h3m-4 2h3m-4 5h3m-3-5h3m-3-1h3m-4 7h3m-4-6h3m-5 3h3m-4-2h3m-3-2h3m-5 3h3m-4-1h3m-4 4h3m-3-7h3m-4 1h3m-3-1h3m-4 4h3m-3-1h3m-5 0h3m-11 4h3m-6-5h3m-5-2h3m-4 1h3m-5 4h3m-7 2h3m-5-7h3m-210 4h3m-6-2h3m-10 5h3m-9-3h3m-4 1h3m-5 3h3m-11-2h3m-5-5h3m-4 3h3m-10 4h3m-6-3h3m-6-2h3m-7 5h3m-5 0h3m-3-1h3m-5-3h3m-4 3h3m-3-2h3m-3-1h3m-6 0h3m-7-1h3m-4 4h3m-5-2h3m-5 2h3m-3-5h3m-5 2h3m-4 3h3m-8-1h3m-3-5h3m-4 6h3m-6-2h3m-4 1h3m-4-2h3m-5-3h3m-5 5h3m-11-6h3m-10 1h3m-4 7h3m-4-5h3m-7 0h3m-4-1h3m-4 5h3m-3-2h3m-4-3h3m-4 6h3m-3-2h3m-9-1h3m-3-1h3m-4 3h3m-3-1h3m-3-2h3m-3-4h3m-5 6h3m-4-1h3m-4-1h3m-5 1h3m-4 0h3m-3-3h3m-4 5h3m-4-3h3m-5 3h3m-4-1h3m-4 2h3m-4-3h3m-4 2h3m-3-5h3m-4 3h3m-3-4h3m-6 1h3m-6 3h3m-4-2h3m-4 3h3m-3-1h3m-4 2h3m-4-2h3m-4 3h3m-3-8h3m-4 6h3m-3-4h3m-3-2h3m-4 7h3m-3-2h3m-4 0h3m-3-3h3m-4 6h3m-3-1h3m-4 1h3m-3-4h3m-3-3h3m-5-1h3m-8 7h3m-3-7h3m-5 0h3m-4 1h3m-6 4h3m-4 2h3m-6-4h3m-9 3h3m-6-4h3m-4 5h3m-11-1h3m-4-3h3m-4 2h3m-5 0h3m-6-3h3m-8 2h3m-5-3h3m-4 6h3m-14-2h3m-6-4h3m-4 3h3m-8 3h3m-8-3h3m-5 3h3m-3-1h3m-3-1h3m-4 2h3m-3-1h3m-3-5h3m-4 6h3m-3-2h3m-3-2h3m-6 2h3m-4 1h3m-3-1h3m-3-3h3m-4 6h3m-3-2h3m-4 1h3m-3-1h3m-3-1h3m-3-2h3m-4 1h3m-4 1h3m-4 0h3m-3-2h3m-4 3h3m-3-2h3m-4 3h3m-3-2h3m-3-2h3m-3-1h3m-4 0h3m-4 3h3m-3-2h3m-3-1h3m-4 0h3m-4 4h3m-3-1h3m-4-3h3m-4 5h3m-3-2h3m-4 0h3m-3-1h3m-4 1h3m-3-5h3m-4 7h3m-4-4h3m-4 4h3m-4 0h3m-3-5h3m-3-1h3m-4 6h3m-3-2h3m-3-1h3m-4-1h3m-5 4h3m-3-2h3m-3-1h3m-4 1h3m-3-4h3m-4 6h3m-3-1h3m-3-3h3m-4 2h3m-3-2h3m-3-2h3m-5 4h3m-4 0h3m-4 0h3m-4-5h3m-4 2h3m-4 5h3m-3-5h3m-4 3h3m-4-2h3m-4 3h3m-5 0h3m-3-6h3m-4 6h3m-3-1h3m-3-3h3m-3-2h3m-5 3h3m-3-1h3m-3-1h3m-4 4h3m-5 2h3m-3-7h3m-5 2h3m-7 3h3m-6-4h3m-13 7h3m-4-5h3m-4-2h3m-4 3h3m-9-4h3m-284 5h3m-6 1h3m-6-1h3m-4 2h3m-12-1h3m-5-3h3m-4-1h3m-6 3h3m-4 1h3m-7 0h3m-4 0h3m-3-6h3m-4 7h3m-19-2h3m-8 0h3m-5 0h3m-7-5h3m-4 5h3m-6 2h3m-13-7h3m-4 1h3m-4 3h3m-5 0h3m-5-1h3m-4 4h3m-5-6h3m-4 6h3m-3-4h3m-6 3h3m-8 0h3m-3-4h3m-7 5h3m-15 0h3m-4-5h3m-10-1h3m-6 2h3m-6-2h3m-7 0h3m-4 3h3m-5 2h3m-4-3h3m-6 0h3m-4-2h3m-6 1h3m-4-1h3m-7 1h3m-4 1h3m-6 1h3m-6 2h3m-8-1h3m-4-4h3m-3-1h3m-12 3h3m-4 0h3m-12-3h3m-5 5h3m-3-4h3m-4 1h3m-4 4h3m-3-6h3m-7 7h3m-4-3h3m-3-1h3m-4 2h3m-6 2h3m-3-6h3m-4 0h3m-4 4h3m-6 3h3m-4-2h3m-5-4h3m-7 0h3m-4 3h3m-3-1h3m-3-4h3m-4 0h3m-4 2h3m-4 1h3m-3-1h3m-3-1h3m-3-1h3m-4 4h3m-3-3h3m-4 5h3m-3-1h3m-3-2h3m-4-2h3m-4 6h3m-3-3h3m-5 2h3m-3-1h3m-3-4h3m-4 1h3m-3-1h3m-3-1h3m-5 7h3m-3-2h3m-4 0h3m-3-1h3m-4-2h3m-3-1h3m-4 0h3m-4 0h3m-4 4h3m-3-4h3m-4 6h3m-3-4h3m-4-2h3m-4 3h3m-3-2h3m-3-1h3m-4 6h3m-3-6h3m-4 3h3m-3-1h3m-4 0h3m-3-2h3m-4 3h3m-3-1h3m-4 2h3m-3-4h3m-3-1h3m-4 2h3m-3-2h3m-4 3h3m-3-1h3m-4 0h3m-3-1h3m-4 1h3m-4-2h3m-5 3h3m-3-2h3m-6 0h3m-4 4h3m-3-2h3m-3-2h3m-3-1h3m-4 6h3m-3-2h3m-3-1h3m-4 1h3m-4-1h3m-4-1h3m-3-1h3m-4 7h3m-3-2h3m-4-1h3m-4-2h3m-4-2h3m-3-1h3m-4 2h3m-3-1h3m-4 0h3m-3-1h3m-4 5h3m-3-3h3m-4 4h3m-10 2h3m-3-6h3m-5 3h3m-3-5h3m-5 3h3m-4 3h3m-3-3h3m18 6h3m-2 0h3m0 0h3m-1 1h3m-2 1h3m15-2h3m41 2h3m0 2h3m44-2h3m14 0h3m3 4h3m31-7h3m19 4h3m3 1h3m1-4h3m14-1h3m9 6h3m288 0h3m5 0h3m2 2h3m7-3h3m-1-1h3m-3 2h3m-3 1h3m-2-2h3m-3 2h3m-2-3h3m-3 2h3m-2-1h3m-2-3h3m-2 0h3m-3 2h3m-1-1h3m-2 0h3m-2 1h3m-3 2h3m-2-5h3m-3 2h3m-3 1h3m-3 2h3m-2 2h3m-2-5h3m-3 4h3m-3 1h3m-1-8h3m-3 1h3m-2 0h3m-3 1h3m-3 2h3m-3 2h3m-2-1h3m-3 1h3m-3 1h3m-2-6h3m-3 6h3m-2-6h3m-3 3h3m-2-1h3m-3 1h3m-3 1h3m-2-1h3m-3 2h3m-2-5h3m-3 2h3m-3 2h3m-3 2h3m-3 1h3m-2-5h3m-3 1h3m-3 1h3m-3 1h3m-2-3h3m-3 4h3m-2-7h3m-3 1h3m-3 5h3m-3 1h3m-2-6h3m-3 1h3m-3 2h3m-3 1h3m-3 3h3m-2-7h3m-3 1h3m-3 2h3m-3 3h3m-2-5h3m-3 1h3m-3 4h3m-2-6h3m-3 1h3m-3 1h3m-3 2h3m-3 1h3m-2-5h3m-3 3h3m-3 3h3m-2-6h3m-3 4h3m-3 1h3m-3 1h3m-2-7h3m-3 3h3m-3 4h3m-3 1h3m-2-4h3m-3 1h3m-3 1h3m-2-4h3m-3 1h3m-3 2h3m-2-4h3m-3 1h3m-3 1h3m-3 1h3m-2-2h3m-3 2h3m-2-1h3m-3 1h3m-3 3h3m-3 1h3m-2-1h3m-1-7h3m-3 2h3m-3 3h3m-3 2h3m-1-3h3m-2-4h3m-2 0h3m-3 1h3m-3 5h3m-3 1h3m-3 1h3m-2-1h3m-2-1h3m-3 1h3m-2-2h3m-2-3h3m-3 3h3m-3 2h3m-2-3h3m-3 3h3m-2-1h3m-2-2h3m-2 3h3m-3 1h3m-2-2h3m-3 1h3m-1-1h3m-3 1h3m-2-4h3m0-2h3m-3 3h3m-2-2h3m-3 2h3m-2-4h3m-3 4h3m-2-3h3m-3 2h3m0 5h3m-2-5h3m-3 4h3m-2-5h3m-2 1h3m-1 3h3m-2 1h3m-1-4h3m2 5h3m-2-4h3m-1 1h3m-3 1h3m-1-2h3m-2 2h3m-2-2h3m-1-3h3m-3 6h3m-2-7h3m-2 1h3m-3 2h3m-3 1h3m-3 3h3m-3 1h3m0-6h3m-3 4h3m-2-5h3m-2 3h3m-2 2h3m-2-4h3m-2-1h3m-3 2h3m-1 3h3m2-4h3m-3 5h3m-2-5h3m-3 5h3m3-6h3m-1 0h3m-3 1h3m-2 4h3m0-2h3m0 1h3m-3 2h3m-1-2h3m-2-1h3m-3 1h3m0-5h3m-3 1h3m-3 1h3m-3 1h3m-1-1h3m-1 2h3m-3 2h3m-3 2h3m-2-5h3m-3 2h3m-2 1h3m-1 0h3m-2 0h3m-2-1h3m-2 2h3m-2-2h3m-3 1h3m-2-2h3m-3 3h3m-2-5h3m-2 2h3m-2 2h3m-3 1h3m-1-2h3m-1-1h3m-3 1h3m-3 1h3m0-1h3m-3 1h3m-2 2h3m-1-4h3m-2 2h3m-2-2h3m-2-2h3m-2-1h3m-3 3h3m-2-4h3m-3 1h3m-3 1h3m-3 4h3m-3 2h3m-2-2h3m-2-2h3m-3 2h3m-2-3h3m-3 2h3m-3 2h3m-2-5h3m-3 1h3m-2 5h3m-2-7h3m-2-1h3m-2 1h3m-2 2h3m-3 1h3m-1-1h3m-2-3h3m-3 6h3m-2-5h3m-3 1h3m-1 3h3m0-1h3m-3 3h3m-1-5h3m-1-1h3m-1 0h3m-2 3h3m-2 0h3m-2 0h3m-3 3h3m-1-3h3m-1 2h3m-1-3h3m-3 5h3m0-4h3m-1 0h3m-2 3h3m-2-2h3m-3 3h3m-1-6h3m-1 4h3m-2-2h3m0-2h3m-1 6h3m-2-3h3m-2-2h3m-2 1h3m-3 3h3m0-1h3m0-5h3m-2 4h3m-2 2h3m-2-3h3m0-2h3m0 4h3m-2 0h3m-3 1h3m-2-2h3m0-5h3m-3 8h3m-2-7h3m-3 3h3m-3 4h3m3-4h3m-2-4h3m2 0h3m0 8h3m1-5h3m223-1h3m17-1h3m13 6h3m-2-2h3m4-5h3m3 1h3m-2 7h3m-2-7h3m-2 0h3m4 5h3m-1-6h3m0 2h3m-2-1h3m-3 3h3m-1 0h3m-1-3h3m-2-1h3m-2 0h3m-2 2h3m0 2h3m-2 0h3m-2-4h3m-3 3h3m2 3h3m3-3h3m-3 2h3m1-5h3m-2 3h3m0-2h3m-3 2h3m-3 4h3m-2-3h3m2-2h3m-2 2h3m-3 1h3m-2-4h3m-2-1h3m-3 3h3m-1-2h3m-3 1h3m-3 5h3m-1-1h3m-3 2h3m-2-1h3m1-7h3m-2 1h3m0 2h3m-2-3h3m-3 4h3m-1 0h3m2-1h3m1-2h3m0-1h3m1 5h3m-1-5h3m-1 1h3m-1 2h3m-2-2h3m-1 7h3m0-5h3m-1-3h3m-3 3h3m-1-3h3m-1 4h3m0-2h3m8-2h3m3 0h3m-3 8h3m-2-4h3m0 2h3m4-5h3m-3 1h3m1 4h3m1-6h3m2 0h3m-2 2h3m-2-1h3m0 2h3m-3 1h3m3-3h3m-2-1h3m-2 4h3m-2-1h3m6 0h3m10 0h3m0-1h3m24 1h3m3-3h3m-83 12h3m-4-3h3m-7 1h3m-26 3h3m-12-4h3m-10 6h3m-20-7h3m-9 7h3m-3-6h3m-10 2h3m-4-1h3m-4 2h3m-5-1h3m-9 3h3m-5 2h3m-7-6h3m-8-2h3m-8 4h3m-5 0h3m-3-1h3m-5-3h3m-8 3h3m-9 4h3m-8-2h3m-10-5h3m-7 1h3m-12 1h3m-9 1h3m-17 2h3m-6-5h3m-246 6h3m-7-3h3m-3-1h3m-4-1h3m-5 6h3m-9-6h3m-8 2h3m-6-1h3m-9 2h3m-5 2h3m-3-2h3m-3-2h3m-8 0h3m-8 3h3m-4 2h3m-4 0h3m-4-5h3m-4 2h3m-6 0h3m-4 3h3m-3-2h3m-6 3h3m-5-4h3m-6-1h3m-4 5h3m-3-1h3m-7-6h3m-9 6h3m-3-3h3m-4-4h3m-4 8h3m-3-5h3m-4 2h3m-4-5h3m-4 8h3m-4-5h3m-4 4h3m-5-6h3m-5 7h3m-4 0h3m-3-7h3m-5-1h3m-6 5h3m-3-1h3m-5 0h3m-5-2h3m-3-2h3m-5 7h3m-3-5h3m-4 0h3m-4-1h3m-5 4h3m-4-2h3m-3-3h3m-4 7h3m-3-4h3m-3-3h3m-4 7h3m-3-2h3m-4-5h3m-4 7h3m-3-7h3m-4 8h3m-4-2h3m-3-2h3m-4 2h3m-4-3h3m-6-1h3m-4-1h3m-4 7h3m-4-1h3m-3-1h3m-5 2h3m-3-3h3m-3-3h3m-5 1h3m-6 0h3m-7 4h3m-3-1h3m-6 1h3m-3-1h3m-4-4h3m-4 5h3m-5 0h3m-3-1h3m-3-3h3m-4-2h3m-5 6h3m-3-3h3m-5-1h3m-5 3h3m-3-1h3m-3-3h3m-3-2h3m-4 4h3m-4 2h3m-6 1h3m-6-5h3m-4 0h3m-3-2h3m-5 5h3m-4 2h3m-3-1h3m-3-6h3m-4 8h3m-3-6h3m-4-1h3m-5 3h3m-4 4h3m-3-6h3m-3-1h3m-6 1h3m-3-1h3m-4 5h3m-3-4h3m-5 4h3m-3-2h3m-5 3h3m-4 0h3m-3-3h3m-4 0h3m-4 2h3m-4 0h3m-5 0h3m-3-5h3m-7 4h3m-4-2h3m-4-1h3m-4 2h3m-4 0h3m-5 2h3m-5-2h3m-9 1h3m-3-4h3m-4 1h3m-4 5h3m-3-5h3m-4 3h3m-7 1h3m-4-3h3m-4 2h3m-3-1h3m-3-1h3m-6 3h3m-3-3h3m-3-1h3m-4 2h3m-3-2h3m-3-1h3m-4 7h3m-3-1h3m-3-1h3m-3-1h3m-4 3h3m-3-1h3m-3-1h3m-4 2h3m-3-3h3m-3-1h3m-3-1h3m-4 2h3m-4 1h3m-3-1h3m-3-4h3m-4 5h3m-3-1h3m-3-1h3m-4 3h3m-3-1h3m-3-2h3m-3-1h3m-3-1h3m-4 4h3m-4 0h3m-3-1h3m-3-3h3m-4 4h3m-3-1h3m-3-3h3m-4 2h3m-3-2h3m-3-1h3m-4 7h3m-3-5h3m-4 4h3m-3-2h3m-4-1h3m-3-1h3m-3-3h3m-4 7h3m-3-1h3m-3-3h3m-3-1h3m-5 3h3m-3-1h3m-4 3h3m-3-3h3m-4 1h3m-4 2h3m-3-2h3m-3-2h3m-4-2h3m-4 7h3m-3-4h3m-3-1h3m-4 4h3m-3-1h3m-3-2h3m-3-3h3m-4 4h3m-4 2h3m-3-3h3m-3-1h3m-3-2h3m-3-1h3m-4 7h3m-3-1h3m-3-1h3m-3-1h3m-4 1h3m-3-1h3m-3-1h3m-3-2h3m-4 1h3m-3-1h3m-5 7h3m-3-4h3m-4 3h3m-3-1h3m-3-1h3m-3-1h3m-3-1h3m-3-1h3m-3-1h3m-4 6h3m-3-3h3m-3-1h3m-3-2h3m-3-1h3m-4 6h3m-3-2h3m-3-1h3m-3-1h3m-4 5h3m-3-3h3m-3-3h3m-4 4h3m-3-3h3m-4 5h3m-3-1h3m-3-1h3m-3-5h3m-4 7h3m-3-3h3m-3-1h3m-3-3h3m-4 8h3m-3-1h3m-3-2h3m-3-1h3m-3-1h3m-3-1h3m-3-1h3m-4 0h3m-4 6h3m-3-1h3m-4 2h3m-3-7h3m-4 7h3m-3-1h3m-3-1h3m-3-1h3m-4 1h3m-3-1h3m-3-2h3m-3-2h3m-4 7h3m-3-1h3m-3-4h3m-3-1h3m-4 4h3m-4 2h3m-3-3h3m-3-1h3m-3-4h3m-4 7h3m-3-5h3m-3-1h3m-4 2h3m-3-1h3m-4 5h3m-3-3h3m-3-3h3m-5-1h3m-4 7h3m-3-5h3m-3-2h3m-4 7h3m-3-3h3m-5-3h3m-4 4h3m-4 2h3m-3-3h3m-3-3h3m-4-1h3m-4 4h3m-4-1h3m-4 4h3m-4-1h3m-3-1h3m-3-3h3m-3-2h3m-6 3h3m-4 1h3m-4 1h3m-4-4h3m-4 2h3m-5-2h3m-4 3h3m-6-2h3m-14 1h3m-4-2h3m-11 2h3m-431-2h3m451 14h3m0-1h3m1-3h3m1-2h3m-1 0h3m0 1h3m-1-2h3m-3 1h3m1 2h3m-2-1h3m-2 0h3m-1-2h3m-3 2h3m-3 5h3m-1-7h3m-3 1h3m-3 3h3m-3 2h3m-2-6h3m-2 4h3m-2 0h3m-3 1h3m-3 1h3m-2-1h3m-3 2h3m-2-6h3m-3 2h3m-3 5h3m-2-6h3m-3 1h3m-2-1h3m-3 1h3m-3 1h3m-2-3h3m-3 1h3m-3 4h3m-2-1h3m-3 2h3m-2-5h3m-3 1h3m-2-1h3m-3 3h3m-3 1h3m-2-2h3m-3 1h3m-3 1h3m-1 0h3m-2-4h3m-3 4h3m-2-3h3m-3 4h3m-2-7h3m-3 4h3m-3 4h3m-2-7h3m-3 1h3m-3 1h3m-3 1h3m-3 3h3m-2-5h3m-3 1h3m-3 4h3m-2-6h3m-3 1h3m-2-1h3m-3 4h3m-3 1h3m-2-5h3m-3 5h3m-2-1h3m-2-3h3m-3 1h3m-3 4h3m-2-6h3m-3 3h3m-2-3h3m-3 6h3m-2-6h3m-2 0h3m-3 1h3m-3 1h3m-3 1h3m-2-4h3m-3 5h3m-3 2h3m-3 1h3m-2-8h3m-3 1h3m-3 2h3m-3 4h3m-3 1h3m-2-7h3m-3 2h3m-2-2h3m-3 2h3m-3 1h3m-2-3h3m-3 1h3m-3 6h3m-2-5h3m-3 2h3m-2-4h3m-3 1h3m-3 2h3m-3 3h3m-1-5h3m-3 1h3m-3 2h3m-2-5h3m-3 6h3m-3 1h3m-2-4h3m-3 1h3m-3 2h3m-3 1h3m-2-5h3m-3 1h3m-3 1h3m-3 2h3m-2-1h3m-3 2h3m-2-2h3m-2-1h3m-2 0h3m-3 3h3m-3 1h3m-2-3h3m-2-4h3m-3 6h3m-2 0h3m-2-3h3m-1 2h3m0-6h3m-2 4h3m0-4h3m3 3h3m-3 2h3m3-2h3m-2-3h3m-3 2h3m-1 4h3m-1-5h3m-2-1h3m0 1h3m-3 4h3m-2-2h3m-1 1h3m-1-4h3m-1 2h3m4 0h3m0-2h3m-2 4h3m-3 2h3m-2 2h3m-1-8h3m-3 4h3m-2-2h3m-3 4h3m-2-1h3m-1-4h3m-2 1h3m0 5h3m-2-3h3m-2-1h3m-2 3h3m-2-3h3m-2 1h3m-3 1h3m1-5h3m-1 6h3m-2-4h3m-3 1h3m-2 2h3m-2 2h3m1-5h3m-2 5h3m-1-4h3m0 0h3m-1-1h3m-3 6h3m1-8h3m-1 7h3m1-4h3m-1-2h3m2 1h3m-3 3h3m-1-4h3m-1 1h3m-2 5h3m-2-4h3m-3 4h3m-1-4h3m-2-1h3m1 2h3m-1-2h3m-3 1h3m6 0h3m-2 0h3m-2-1h3m-3 2h3m6 4h3m-1-7h3m0 5h3m4-2h3m4 1h3m10 3h3m-1-6h3m0 2h3m12-4h3m-2 1h3m249 0h3m23 6h3m16-7h3m126 4h3m-447 5h3m-41 0h3m-5 3h3m-4 1h3m-5 0h3m-5-2h3m-4-2h3m-17 3h3m-6-3h3m-13 3h3m-11 0h3m-8 1h3m-6-4h3m-8 5h3m-7 0h3m-3-5h3m-4 1h3m-6 1h3m-4 3h3m-7-5h3m-4 3h3m-5 2h3m-3-4h3m-5 6h3m-4-7h3m-4 1h3m-5-1h3m-5 3h3m-5 2h3m-23-6h3m-7 5h3m-31 2h3m-3-1h3m-3-5h3m-3-1h3m-4 3h3m-3-3h3m-4 7h3m-3-2h3m-3-3h3m-4 3h3m-3-4h3m-4 7h3m-4-3h3m-3-3h3m-4 4h3m-3-2h3m-4 0h3m-3-2h3m-4 2h3m-3-1h3m-4 2h3m-4 1h3m-3-2h3m-3-4h3m-4 7h3m-3-6h3m-4 6h3m-3-5h3m-4 4h3m-4-4h3m-3-1h3m-3-1h3m-4 5h3m-3-5h3m-4 7h3m-3-2h3m-4 3h3m-3-7h3m-4 5h3m-3-5h3m-5 5h3m-4-2h3m-3-2h3m-3-1h3m-4 5h3m-3-2h3m-4 2h3m-3-3h3m-3-2h3m-4 2h3m-4-2h3m-3-1h3m-4 4h3m-5 0h3m-5 0h3m-3-3h3m-4 3h3m-3-2h3m-4 4h3m-4 0h3m-3-6h3m-5 4h3m-3-3h3m-5 5h3m-3-5h3m-4 4h3m-3-1h3m-3-1h3m-6 4h3m-7-4h3m-13-3h3m18 13h3m2-5h3m3 5h3m0-3h3m-3 4h3m1-1h3m-1-3h3m-2 2h3m-3 2h3m-1-6h3m-3 5h3m-3 2h3m-2-2h3m-3 1h3m-2-1h3m-1-4h3m-3 3h3m-2-2h3m0 6h3m-2-4h3m-3 2h3m-2-4h3m0 1h3m0-2h3m34 1h3m5-1h3m19 4h3m4 0h3m-2-4h3m-1 2h3m2-1h3m18 6h3m21-5h3m10 3h3m17 8h3m-109-6h3m-24 6h3m-38-1h3m-10-1h3m-5-3h3m-4 5h3m-6-1h3m-5-4h3m-14 1h3m-3-1h3m-16 2h3m27 13h3m-2-5h3m-2 4h3m-3 4h3m-961 82h3m-56 9h3m-140-1h3m12 5h3m6 2h3m4 0h3m19 0h3m-2-2h3m3 2h3m8 3h3m26-6h3m79 4h3m0-4h3m35 2h3m34 5h3m-161 4h3m-37 1h3m-6-2h3m-5-2h3m-5 7h3m-27-1h3m-10 0h3m-7-7h3m-6 1h3m-5-1h3m-16 11h3m6 4h3m2-3h3m-2-4h3m3 4h3m13 3h3m-2 0h3m-2-4h3m0 5h3m0-5h3m16 4h3m15-4h3m29 0h3m71 1h3m37 4h3m2-3h3m-6 7h3m-3-1h3m-6-3h3m-27 7h3m-28-6h3m-6 3h3m-85 2h3m-12-1h3m-8-1h3m-6 1h3m-8 1h3m-4-1h3m-4-3h3m-17 5h3m-4-3h3m-3-2h3m-6 0h3m-19 5h3m-30-4h3m-9 1h3m-7 3h3m-4-7h3m-11 0h3m4 12h3m1-2h3m0 2h3m-3 3h3m5-6h3m2 3h3m-2-1h3m-2 3h3m6-2h3m0 4h3m1-5h3m-1 3h3m-1-1h3m8 0h3m2 2h3m-2-6h3m-2 3h3m3-3h3m4 3h3m-3 1h3m5 1h3m-2-1h3m1-4h3m9 5h3m32 0h3m77 1h3m83-1h3m-1 9h3m-55-5h3m-29-2h3m-26 7h3m-26-1h3m-29-3h3m-38 4h3m-8 0h3m-16-1h3m-5 2h3m-3-5h3m-19 1h3m-5-2h3m-5 3h3m-7 2h3m-7-2h3m-4 2h3m-7 0h3m-4-1h3m-12 2h3m-3-2h3m-14 0h3m-3-3h3m-3-2h3m-4 6h3m-4-2h3m-3-3h3m-7 1h3m-16-2h3m-6-1h3m-9 7h3m-5-5h3m-7-2h3m-11 5h3m-5 2h3m-12 3h3m0 3h3m-1-1h3m3-2h3m-2 5h3m-1-1h3m-2-2h3m-1 1h3m-1-2h3m-2 3h3m1 0h3m0-2h3m4-2h3m-3 3h3m-1 1h3m-2-4h3m1 5h3m-2-6h3m-3 4h3m-3 2h3m-2 0h3m-2-6h3m-1 5h3m-1-3h3m-2 3h3m-2 0h3m-2-1h3m4 0h3m-2-2h3m-2 2h3m-3 2h3m-2-5h3m-2 3h3m0-2h3m0 1h3m-3 2h3m-2 0h3m0 0h3m-3 1h3m-2-1h3m3-1h3m1-4h3m-1 2h3m2-3h3m-2 1h3m-2 4h3m-2-3h3m0-1h3m4 4h3m104-5h3m12 8h3m15-3h3m19-5h3m1 2h3m1 7h3m-27 6h3m-15-6h3m-12 4h3m-11-5h3m-10 0h3m-16 5h3m-16-1h3m-6-3h3m-16 7h3m-6-1h3m-13-2h3m-16-3h3m-5 0h3m-24 1h3m-14 4h3m-6-7h3m-7 1h3m-12 3h3m-8-2h3m-5 6h3m-5-4h3m-8 2h3m-10 0h3m-5-4h3m-6 0h3m-4 3h3m-3-1h3m-3-3h3m-5 3h3m-4-1h3m-4-2h3m-4 6h3m-4-6h3m-6 7h3m-4-2h3m-3-5h3m-4 6h3m-4-4h3m-5 4h3m-5-2h3m-5-2h3m-9 4h3m-5-3h3m-4 3h3m-3-6h3m-4 4h3m-8-5h3m-4 3h3m-5 4h3m-4 1h3m-8-7h3m-4 3h3m-3-1h3m-8-2h3m-8 5h3m-18 9h3m0-3h3m-1 1h3m-2 0h3m-2 0h3m0 3h3m4-5h3m-1 3h3m-3 2h3m0-7h3m-2 1h3m-1 5h3m-2-5h3m-3 6h3m-2-8h3m-3 6h3m-2 0h3m-1-5h3m-3 4h3m0-4h3m-3 2h3m-2 1h3m-2-1h3m1-2h3m-3 2h3m-3 1h3m-2-3h3m0-1h3m-3 1h3m-2 7h3m-1-4h3m-2-3h3m-3 5h3m-2 1h3m-2-4h3m-2-1h3m-2 5h3m-1-6h3m-3 7h3m-2-6h3m-2 4h3m-1-4h3m-2 2h3m0-2h3m-1-1h3m-3 4h3m0-4h3m-3 6h3m-2-4h3m-2 2h3m-2-3h3m-3 5h3m-3 1h3m0-6h3m-3 3h3m-2-1h3m-3 2h3m-2-4h3m-3 3h3m-2-3h3m8 4h3m0-2h3m1-2h3m-1 0h3m1 3h3m-1-3h3m10 3h3m6-2h3m3 2h3m-2-3h3m2 0h3m50 4h3m14-3h3m-2 0h3m2 1h3m-3 2h3m5-1h3m11-3h3m-3 6h3m26-3h3m38 7h3m-25 1h3m-21 1h3m-4 1h3m-36-5h3m-6 3h3m-3-3h3m-21 2h3m-16 3h3m-3-1h3m-8-1h3m-9-3h3m-4 0h3m-35 3h3m-16-4h3m-19 0h3m-14 1h3m-7 3h3m-6-5h3m-8 2h3m-10 4h3m-3-4h3m-22 1h3m-4 1h3m-4 1h3m-4 1h3m-3-3h3m-7 4h3m-7-1h3m-4-4h3m-7 2h3m-3-3h3m-4 0h3m-4 3h3m-3-3h3m-4 4h3m-4-3h3m-3-1h3m-5 4h3m-3-3h3m-6 0h3m-4 6h3m-4-2h3m-3-5h3m-7 3h3m-5 4h3m-3-7h3m-9 0h3m-5 1h3m-4 5h3m-3-3h3m-5 4h3m-4-1h3m-3-1h3m-3-3h3m-3-1h3m-12 0h3m-5 5h3m-6-5h3m-7 5h3m-6 1h3m-4-3h3m-3-2h3m-6 4h3m-3-2h3m-5-5h3m-5 6h3m-2 8h3m0-4h3m-3 2h3m-2 3h3m-2-5h3m2 1h3m0 4h3m-2-2h3m-2-3h3m-3 2h3m-2-1h3m-1 0h3m-3 1h3m-1 3h3m0-4h3m-3 2h3m-3 2h3m-1-2h3m-2 2h3m-2-7h3m-2 1h3m-3 5h3m-1-5h3m3 3h3m-1-4h3m-3 2h3m-2 1h3m-1 3h3m0-3h3m-3 1h3m-3 4h3m-1-4h3m-3 1h3m-1-4h3m2 5h3m-1-3h3m-1 5h3m-1-2h3m-1-3h3m-2 2h3m-3 2h3m-1-3h3m0 2h3m-1-2h3m-3 3h3m3-3h3m-3 1h3m-3 3h3m-2-4h3m3 0h3m9 3h3m-2-3h3m-3 1h3m-3 2h3m0-5h3m2 5h3m7 1h3m51-2h3m1-4h3m0 0h3m-3 3h3m9-1h3m2 3h3m5-7h3m15 5h3m11 1h3m-1 0h3m-1-3h3m36-3h3m0 3h3m-2 3h3m10-3h3m7 4h3m31 1h3m-22 5h3m-12 0h3m-33 1h3m-11-5h3m-31 3h3m-6-3h3m-13 6h3m-10-4h3m-13 0h3m-8-2h3m-4 4h3m-4-2h3m-17-1h3m-8 4h3m-11 0h3m-16 0h3m-10 0h3m-13-5h3m-6 3h3m-34 0h3m-4 0h3m-9-2h3m-8 4h3m-4 0h3m-10 2h3m-5-1h3m-4-2h3m-4-1h3m-8-2h3m-4 5h3m-5-5h3m-4 5h3m-12 0h3m-3-5h3m-6 2h3m-5 4h3m-3-1h3m-3-4h3m-3-1h3m-3-1h3m-5 5h3m-4 1h3m-3-5h3m-4 3h3m-5-5h3m-4 7h3m-4-4h3m-5 4h3m-5-1h3m-4-4h3m-4 2h3m-3-3h3m-4 2h3m-4 2h3m-3-5h3m-4 6h3m-7-1h3m-8 1h3m-3-1h3m-4 0h3m-3-3h3m-3-1h3m-4 2h3m-6 1h3m-3-2h3m-6 5h3m-3-1h3m-4-3h3m-5 0h3m-4-3h3m-8 3h3m-3-3h3m-5 3h3m-5-1h3m-5 5h3m-4 0h3m-5 0h3m-4-2h3m-3-4h3m-5 3h3m-3-1h3m-5 3h3m-7-1h3m-3-1h3m-7-3h3m-5 11h3m0 1h3m-1-3h3m-1 4h3m2-1h3m0-4h3m1-1h3m-3 3h3m-1 2h3m-3 3h3m-2-3h3m-1-2h3m-2-2h3m-1 2h3m-3 1h3m3 2h3m0-2h3m3 1h3m-2 2h3m0-6h3m-3 2h3m-2 0h3m-2 4h3m-3 1h3m-1-8h3m-3 4h3m0 3h3m-1-7h3m-3 3h3m-3 4h3m-2-6h3m-3 1h3m-3 1h3m-2 2h3m-3 3h3m-2-4h3m-3 1h3m-3 2h3m1-5h3m-2 3h3m-2 2h3m0 0h3m-1-6h3m-3 2h3m-3 1h3m-2-2h3m-3 4h3m-1-3h3m-2-2h3m-2 5h3m-2-1h3m-2-2h3m-1-2h3m-2 5h3m-2-1h3m-3 2h3m-2-7h3m-2 6h3m0 0h3m0-3h3m-3 5h3m-1-1h3m-1-3h3m5-3h3m8 5h3m10 2h3m-2-2h3m35 1h3m2 0h3m3 0h3m45-2h3m42-3h3m78 6h3m-48 5h3m-20-2h3m-11 3h3m-4-5h3m-5 0h3m-12 3h3m-9-3h3m-4 2h3m-16 4h3m-3-6h3m-3-1h3m-21 4h3m-6 3h3m-23 0h3m-8-6h3m-17 0h3m-6 5h3m-7 0h3m-42 0h3m-7-3h3m-35 4h3m-3-1h3m-3-2h3m-4 4h3m-7-6h3m-5 5h3m-5-1h3m-10 2h3m-6-2h3m-5 0h3m-8 0h3m-5-4h3m-4-1h3m-3-1h3m-4 4h3m-6 3h3m-4-5h3m-4 5h3m-4-1h3m-4-5h3m-5 1h3m-4 0h3m-4 4h3m-3-3h3m-4 4h3m-3-3h3m-8 3h3m-5-7h3m-4 7h3m-3-4h3m-5 2h3m-3-2h3m-4 1h3m-4 1h3m-4-3h3m-4 4h3m-5-4h3m-6 6h3m-4 0h3m-3-1h3m-5-1h3m-4 1h3m-4-1h3m-4-4h3m-3-1h3m-4 5h3m-4-2h3m-6-2h3m-4 1h3m-5 1h3m-8-2h3m-5-2h3m-7 6h3m-12-1h3m-3-1h3m-4-1h3m-7 1h3m-5-3h3m-5 3h3m-4-4h3m-3 14h3m-2-4h3m-1-1h3m-3 6h3m-2-5h3m-2 2h3m-2-2h3m1 6h3m-1-2h3m-2-1h3m-1 0h3m-2-1h3m-2-3h3m-2 2h3m-2 2h3m-2 2h3m-2-3h3m-1 0h3m1-1h3m-1 1h3m-1 0h3m-2-1h3m-3 2h3m-2-4h3m-2 1h3m-3 1h3m-3 2h3m-2-3h3m-3 2h3m-2 2h3m2 1h3m-2 1h3m-1-2h3m-3 1h3m-2-3h3m-3 4h3m0-7h3m-3 1h3m-3 5h3m-2-1h3m-2 1h3m-2-1h3m-2-1h3m-2-2h3m-3 2h3m-3 2h3m-1-2h3m-3 3h3m-2-6h3m-2 1h3m-2-1h3m-3 2h3m-1-2h3m-3 5h3m-1-4h3m-2-3h3m-2 3h3m-3 2h3m0 2h3m-2-1h3m0-5h3m-3 3h3m1 2h3m-2-4h3m-3 4h3m-1-5h3m-3 3h3m-3 1h3m2-3h3m-3 4h3m-2 1h3m-2-6h3m-1 3h3m-1-3h3m-1 4h3m0-1h3m-3 2h3m0 1h3m-1-5h3m-1 0h3m47-2h3m7 7h3m-2-3h3m7-1h3m29 1h3m-2 1h3m5 2h3m3-6h3m-1 0h3m-2 6h3m1-3h3m14 2h3m-2-5h3m0 1h3m-1 1h3m0-2h3m-1 2h3m23-2h3m-17 12h3m-8 0h3m-8-2h3m-11 4h3m-11-2h3m-20-5h3m-31 4h3m-33-1h3m-21 3h3m-35 1h3m-3-3h3m-6-2h3m-3-1h3m-6 2h3m-5 1h3m-8 1h3m-3-4h3m-7 7h3m-6-7h3m-7 6h3m-3-3h3m-7 3h3m-3-4h3m-3-3h3m-8 8h3m-3-7h3m-4 3h3m-3-2h3m-5 4h3m-3-1h3m-5-3h3m-3-2h3m-4 8h3m-3-6h3m-4-1h3m-4 6h3m-5 1h3m-5-8h3m-4 7h3m-3-2h3m-3-3h3m-5-1h3m-7 4h3m-5 0h3m-4 2h3m-7-2h3m-3-1h3m-4-1h3m-3-2h3m-4 2h3m-3-3h3m-6 5h3m-6 3h3m-5-5h3m-3-2h3m-3-1h3m-7 5h3m-4-2h3m-6 4h3m-3-2h3m-4-3h3m-4-2h3m-4 2h3m-4 1h3m-10-3h3m-6 5h3m-5 1h3m-5 2h3m-3-2h3m-5-1h3m-4 1h3m-4 0h3m-6 1h3m-3-3h3m-7-3h3m-6 1h3m-4 1h3m-5-2h3m-5 9h3m1 4h3m1 0h3m-1-3h3m1 5h3m0-2h3m0 1h3m1-6h3m-2 1h3m4-1h3m-3 1h3m-1 3h3m-2-3h3m-1 0h3m-2 3h3m-2 0h3m-1 1h3m-2-5h3m-2 0h3m-3 3h3m-1-3h3m-3 4h3m-2-3h3m-3 5h3m-2-6h3m-2 4h3m-2-1h3m-3 3h3m-2-6h3m-3 5h3m-3 1h3m-1 0h3m-1-5h3m1-1h3m-3 1h3m-1-1h3m-3 2h3m-3 4h3m-1-4h3m1 1h3m-2 1h3m-3 2h3m-2 0h3m1 0h3m3-4h3m-1-3h3m-3 3h3m-2 2h3m-2-5h3m-3 5h3m1-5h3m-1 0h3m-3 7h3m1-6h3m4 1h3m-2 4h3m0-5h3m-3 4h3m-2-2h3m3 0h3m87 0h3m21 0h3m5 5h3m9-7h3m21 4h3m0-1h3m18 6h3m-23 0h3m-46 3h3m-11 0h3m-15 0h3m-24 0h3m-6 1h3m-10 0h3m-22-3h3m-23 5h3m-6-3h3m-8 0h3m-22-3h3m-4-1h3m-9 0h3m-5 4h3m-7 1h3m-17-4h3m-5-1h3m-4 4h3m-5 2h3m-3-3h3m-6 2h3m-4-2h3m-5 4h3m-4-5h3m-6 5h3m-3-1h3m-5-7h3m-6 7h3m-4-2h3m-3-1h3m-4-3h3m-3-1h3m-4 7h3m-5-3h3m-3-3h3m-4 1h3m-5 4h3m-3-1h3m-3-1h3m-4-3h3m-10 4h3m-3-4h3m-4 5h3m-4-3h3m-3-2h3m-6 4h3m-3-2h3m-3-1h3m-5 6h3m-3-3h3m-3-2h3m-4 1h3m-3-2h3m-4 3h3m-4 1h3m-3-1h3m-4 2h3m-9 0h3m-6-3h3m-5-2h3m-3-1h3m-17 4h3m-9-1h3m-9 0h3m3 5h3m-3 4h3m1-5h3m-2 3h3m-1 4h3m-3 1h3m0 0h3m-2-5h3m-1 2h3m0-5h3m-3 7h3m1-4h3m-3 4h3m-1-4h3m2 5h3m0-2h3m-1 0h3m-2-4h3m-3 3h3m-2 0h3m-1 3h3m-1-8h3m-3 6h3m1-5h3m-3 2h3m4 4h3m-1 0h3m-2-5h3m-2 1h3m-3 1h3m0-1h3m-1 0h3m0-1h3m0 2h3m-1-1h3m-2-2h3m1 3h3m-2 2h3m0-2h3m-2 3h3m-1-6h3m-1 2h3m3 1h3m3-3h3m-1 6h3m-2-6h3m5 2h3m50 0h3m5 4h3m32 1h3m16-3h3m13-2h3m33 6h3m-32 2h3m-155 5h3m-3-2h3m-7 0h3m-3-4h3m-5 1h3m-8 0h3m-9-2h3m-4 3h3m-4 1h3m-6 1h3m-3-2h3m-4 0h3m-5-1h3m-4 2h3m-7 1h3m-5 1h3m-5 0h3m-3-7h3m-7 4h3m-4-2h3m-5-1h3m-4 2h3m-6-1h3m-4 5h3m-3-3h3m-8 3h3m-4 1h3m-4-1h3m-3-6h3m-4 4h3m-3-1h3m-5 3h3m-5 1h3m-6-1h3m-3-3h3m-13 3h3m-5-1h3m-6-2h3m-7 3h3m-5-7h3m-8 1h3m-5 4h3m-4-5h3m-5 8h3m-4-4h3m-1 9h3m-1-4h3m0-1h3m-2 3h3m1-1h3m-3 1h3m3-3h3m0 3h3m2-2h3m1 0h3m-2 1h3m-3 2h3m-1 0h3m1 2h3m0-2h3m-1 0h3m1 4h3m3-1h3m-2-2h3m-1 1h3m0-1h3m2 0h3m-2 0h3m-2-2h3m-1 2h3m-1-4h3m-1 5h3m-1 0h3m0-5h3m1 0h3m-3 4h3m4-3h3m8-2h3m-3 5h3m-2-5h3m-3 7h3m80-3h3m10-3h3m-93 9h3m-33-1h3m-5 0h3m-8 0h3m-7 0h3m-9-1h3m-9 4h3m-11-3h3m-5-1h3m-8 3h3m-9-1h3m-21 1h3m-9-1h3m-11 18h3m-3 2h3m0-1h3m1 1h3m-2 1h3m-3 1h3m-2-6h3m-3 3h3m-3 2h3m-3 1h3m-2-4h3m-2 4h3m0-2h3m-2 0h3m-2-1h3m-3 1h3m-2 1h3m-3 1h3m-1-3h3m-3 1h3m-3 2h3m-1-3h3m0 0h3m-2 0h3m-3 1h3m-2 1h3m-2 0h3m-3 1h3m0-4h3m-3 2h3m-3 1h3m-2 0h3m-3 1h3m-1-2h3m-3 1h3m-2-4h3m-3 1h3m-2 2h3m-3 1h3m-3 1h3m-2-1h3m-2-2h3m-3 2h3m-3 1h3m-2-4h3m-2 3h3m-2-2h3m-1 2h3m-2-2h3m-3 3h3m-2-3h3m-3 1h3m-3 1h3m-3 1h3m-2-6h3m-3 2h3m-3 3h3m-2-1h3m-2 1h3m-2-1h3m-3 2h3m-2 0h3m-2-1h3m-2 0h3m-2 0h3m-2-2h3m-3 3h3m-2 0h3m-2-2h3m-3 2h3m-2-3h3m-3 2h3m-3 1h3m-2-3h3m-3 1h3m-3 1h3m-2-1h3m-3 2h3m-2-1h3m-2-3h3m-2 3h3m-3 1h3m-2-2h3m-3 1h3m-2-4h3m-3 4h3m-2 0h3m-3 1h3m-1-1h3m-2-1h3m-3 1h3m-2-1h3m-2 1h3m-1-1h3m-2 0h3m-3 1h3m-2-1h3m-3 2h3m-2-4h3m-3 3h3m-2-3h3m-3 3h3m-2-1h3m-3 1h3m-2-3h3m-1 1h3m-3 1h3m-3 2h3m-1 0h3m-1-1h3m-1-2h3m-1-1h3m-3 2h3m-3 1h3m-3 1h3m-2-1h3m-2 1h3m-2-2h3m-3 1h3m-2-2h3m-3 3h3m-2-3h3m-3 1h3m-2-2h3m-3 3h3m-1-3h3m-3 3h3m-2 0h3m-2-2h3m-3 3h3m-2-4h3m-3 2h3m-3 1h3m-1-4h3m-3 3h3m-3 1h3m-3 1h3m-2-3h3m-3 1h3m-2 1h3m-2-3h3m-2 2h3m-1 0h3m-3 2h3m-2-2h3m-2 0h3m-3 1h3m-3 1h3m0-7h3m-1 2h3m-3 5h3m-2-3h3m-1-2h3m-2 4h3m-3 1h3m-1-2h3m-1-1h3m-1 2h3m-2-7h3m-3 4h3m-3 3h3m-2 0h3m1-1h3m-3 1h3m-2 1h3m-1 0h3m-2-4h3m-1-3h3m-3 1h3m-3 2h3m-3 3h3m3-3h3m-1 1h3m6 3h3m-1 0h3m3-2h3m-1 1h3m-1 1h3m2-2h3m8-2h3m10 2h3m3 2h3m7-3h3m1-2h3m1 1h3m14 4h3m48-2h3m6 6h3m-7 2h3m-10-5h3m-16 3h3m-8-2h3m-18 5h3m-11-5h3m-8 1h3m-11 2h3m-3-2h3m-7 1h3m-13-3h3m-4 2h3m-5-1h3m-9 1h3m-8 4h3m-3-4h3m-3-2h3m-5 5h3m-6-3h3m-4 2h3m-3-4h3m-5 3h3m-4-1h3m-4 5h3m-11-5h3m-5 0h3m-4 4h3m-7-5h3m-9-1h3m-4 4h3m-5-2h3m-4 1h3m-3-2h3m-8 3h3m-4-3h3m-4 6h3m-3-2h3m-5 1h3m-3-7h3m-5 3h3m-6 2h3m-3-2h3m-5 3h3m-5-5h3m-5 3h3m-4 2h3m-3-5h3m-4 0h3m-4 3h3m-6 2h3m-3-6h3m-4 3h3m-5 1h3m-5 2h3m-3-6h3m-4 7h3m-3-2h3m-7-1h3m-3-2h3m-3-1h3m-4 4h3m-3-4h3m-4 1h3m-4 6h3m-3-4h3m-3-1h3m-4 4h3m-3-1h3m-3-5h3m-6 6h3m-3-1h3m-3-6h3m-4 3h3m-4 4h3m-3-1h3m-3-3h3m-3-2h3m-3-1h3m-4 5h3m-4 0h3m-6 2h3m-3-5h3m-4 4h3m-3-4h3m-4 4h3m-3-3h3m-4 4h3m-3-3h3m-4 0h3m-4 4h3m-3-4h3m-3-1h3m-4 3h3m-3-4h3m-4 3h3m-3-4h3m-3-1h3m-4 0h3m-4 7h3m-3-3h3m-4 3h3m-3-3h3m-3-1h3m-3-1h3m-4 5h3m-3-4h3m-3-1h3m-3-1h3m-4 1h3m-4 2h3m-3-2h3m-4 4h3m-3-6h3m-4 2h3m-3-1h3m-4 5h3m-3-1h3m-3-1h3m-3-2h3m-3-2h3m-4 0h3m-4 7h3m-3-2h3m-3-3h3m-3-1h3m-3-1h3m-4 7h3m-3-1h3m-3-1h3m-3-1h3m-3-1h3m-3-1h3m-4 3h3m-3-1h3m-3-2h3m-3-1h3m-3-1h3m-4 7h3m-3-1h3m-3-1h3m-3-2h3m-4 2h3m-3-1h3m-3-2h3m-3-1h3m-4 7h3m-3-5h3m-3-2h3m-3-1h3m-4 5h3m-3-3h3m-3-1h3m-4 6h3m-3-3h3m-3-1h3m-3-3h3m-4 8h3m-3-4h3m-3-1h3m-3-1h3m-4 4h3m-3-2h3m-3-1h3m-3-2h3m-4 7h3m-3-1h3m-3-1h3m-3-1h3m-3-4h3m-4 6h3m-3-2h3m-3-3h3m-3-1h3m-4 4h3m-3-1h3m-3-4h3m-4 5h3m-3-2h3m-3-2h3m-4 3h3m-3-1h3m-4-1h3m-3-1h3m-3-1h3m-4 5h3m-3-2h3m-3-1h3m-3-1h3m-4 0h3m-3-1h3m-4 6h3m-3-2h3m-3-2h3m-3-1h3m-3-1h3m-4 6h3m-3-2h3m-3-1h3m-3-2h3m-3-1h3m-4 4h3m-3-1h3m-3-1h3m-4 2h3m-3-2h3m-4 4h3m-3-1h3m-3-2h3m-3-1h3m-4 2h3m-3-1h3m-3-2h3m-3-1h3m-4 6h3m-3-3h3m-3-1h3m-4 0h3m-3-1h3m-4 3h3m-3-1h3m-3-1h3m-3-2h3m-4 5h3m-3-2h3m-3-2h3m-4 4h3m-3-2h3m-3-1h3m-4 3h3m-3-4h3m-4 4h3m-3-1h3m-3-1h3m-4 4h3m-3-2h3m-3-3h3m-3-1h3m-4 4h3m-3-2h3m-3-1h3m-3-1h3m-4 2h3m-3-1h3m-3-1h3m-4 5h3m-3-1h3m-3-1h3m-3-1h3m-3-1h3m-3-2h3m-4 3h3m-3-1h3m-3-1h3m-4 5h3m-3-2h3m-3-1h3m-3-1h3m-3-1h3m-4 5h3m-3-3h3m-3-1h3m-3-1h3m-3-1h3m-4 2h3m-3-1h3m-4 1h3m-3-1h3m-3-1h3m-4 5h3m-3-1h3m-3-1h3m-3-1h3m-3-1h3m-3-1h3m-4 4h3m-3-3h3m-4 2h3m-3-1h3m-3-1h3m-3-1h3m-4 6h3m-3-1h3m-3-1h3m-3-1h3m-3-1h3m-3-1h3m-4 1h3m-3-1h3m-4 7h3m-3-5h3m-3-1h3m-3-1h3m-3-1h3m-4 0h3m-4 5h3m-3-1h3m-3-1h3m-3-1h3m-3-1h3m-3-1h3m-4 5h3m-4-1h3m-3-1h3m-3-1h3m-3-1h3m-4 4h3m-3-3h3m-3-1h3m-3-1h3m-4 4h3m-3-1h3m-3-1h3m-3-1h3m-3-1h3m-4 6h3m-3-2h3m-3-1h3m-3-2h3m-3-1h3m-4 6h3m-3-1h3m-3-1h3m-3-1h3m-3-2h3m-4 3h3m-3-3h3m-3-1h3m-4 3h3m-3-1h3m-3-2h3m-4 5h3m-3-1h3m-3-2h3m-3-1h3m-3-1h3m-5 6h3m-3-2h3m-3-3h3m-4 5h3m-3-2h3m-3-1h3m-3-2h3m-4 5h3m-3-1h3m-3-2h3m-3-1h3m-3-1h3m-3-1h3m-4 4h3m-3-3h3m-3-1h3m-4 5h3m-3-3h3m-4 3h3m-3-1h3m-3-1h3m-4 2h3m-3-2h3m-3-3h3m-4 5h3m-3-3h3m-4 3h3m-3-2h3m-3-1h3m-3-1h3m-4 3h3m-3-2h3m-3-1h3m-4 3h3m-3-3h3m-4 2h3m-3-1h3m-3-1h3m-4 5h3m-3-4h3m-3-1h3m-3-1h3m-4 4h3m-4 0h3m-3-1h3m-3-1h3m-3-1h3m-4 6h3m-3-3h3m-3-2h3m-3-1h3m-4 1h3m-3-2h3m-4 4h3m-3-1h3m-3-1h3m-4-2h3m-4 3h3m-3-2h3m-4 6h3m-3-5h3m-3-1h3m-3-1h3m-4 6h3m-3-3h3m-3-1h3m-3-1h3m-4 1h3m-3-1h3m-4 6h3m-3-2h3m-3-3h3m-3-1h3m-4 6h3m-3-1h3m-4-5h3m-4 1h3m-4-1h3m-4 0h3m-4 2h3m-3-3h3m-4 5h3m-3-4h3m-3-1h3m-4 3h3m-3-1h3m-3-1h3m-4 3h3m-3-2h3m-3-2h3m-5 3h3m-3-1h3m-3-2h3m-4 6h3m-3-3h3m-3-2h3m-4 2h3m-4 2h3m-3-2h3m-4-1h3m-3-2h3m-4 4h3m-4 0h3m-5-1h3m-3-1h3m22 7h3m14-1h3m15 1h3m1-1h3m24 0h3m-2 4h3m-1-4h3m-3 1h3m-1-1h3m-3 3h3m-1-2h3m-3 2h3m-2 1h3m0-4h3m-2 2h3m-2 0h3m-2-2h3m-2 2h3m-1 0h3m-3 2h3m-2-3h3m-3 2h3m6-3h3m0 2h3m0 0h3m0-1h3m-2-1h3m7 0h3m1 2h3m-3 1h3m14 4h3m0-5h3m0-1h3m12 2h3m62 0h3m30 0h3" stroke="#000" stroke-opacity="0.37" stroke-width="3" fill="none"/>
<rect x="192.70" y="461.90" width="122.30" height="120.90" fill="#fff" stroke="#000" stroke-width="1.0"/>
<path d="M192.70,509.70 C194.67,509.70 202.03,509.70 204.50,509.70 C206.97,509.70 206.53,510.07 207.50,509.70 C208.47,509.33 209.50,509.62 210.30,507.50 C211.10,505.38 211.63,501.83 212.30,497.00 C212.97,492.17 213.68,483.28 214.30,478.50 C214.92,473.72 215.48,470.00 216.00,468.30 C216.52,466.60 216.90,467.18 217.40,468.30 C217.90,469.42 218.43,472.22 219.00,475.00 C219.57,477.78 220.17,482.08 220.80,485.00 C221.43,487.92 222.02,490.33 222.80,492.50 C223.58,494.67 224.38,496.42 225.50,498.00 C226.62,499.58 228.08,500.87 229.50,502.00 C230.92,503.13 232.42,504.08 234.00,504.80 C235.58,505.52 237.33,505.93 239.00,506.30 C240.67,506.67 242.17,506.90 244.00,507.00 C245.83,507.10 248.17,507.02 250.00,506.90 C251.83,506.78 253.50,506.65 255.00,506.30 C256.50,505.95 257.83,505.45 259.00,504.80 C260.17,504.15 261.00,503.03 262.00,502.40 C263.00,501.77 264.00,501.03 265.00,501.00 C266.00,500.97 267.00,501.50 268.00,502.20 C269.00,502.90 269.92,504.18 271.00,505.20 C272.08,506.22 273.25,507.55 274.50,508.30 C275.75,509.05 277.25,509.47 278.50,509.70 C279.75,509.93 275.92,509.70 282.00,509.70 C288.08,509.70 309.50,509.70 315.00,509.70 L315.00,509.80 L192.70,509.80 Z" fill="#fff" stroke="none"/>
<path d="M192.70,509.70 C194.67,509.70 202.03,509.70 204.50,509.70 C206.97,509.70 206.53,510.07 207.50,509.70 C208.47,509.33 209.50,509.62 210.30,507.50 C211.10,505.38 211.63,501.83 212.30,497.00 C212.97,492.17 213.68,483.28 214.30,478.50 C214.92,473.72 215.48,470.00 216.00,468.30 C216.52,466.60 216.90,467.18 217.40,468.30 C217.90,469.42 218.43,472.22 219.00,475.00 C219.57,477.78 220.17,482.08 220.80,485.00 C221.43,487.92 222.02,490.33 222.80,492.50 C223.58,494.67 224.38,496.42 225.50,498.00 C226.62,499.58 228.08,500.87 229.50,502.00 C230.92,503.13 232.42,504.08 234.00,504.80 C235.58,505.52 237.33,505.93 239.00,506.30 C240.67,506.67 242.17,506.90 244.00,507.00 C245.83,507.10 248.17,507.02 250.00,506.90 C251.83,506.78 253.50,506.65 255.00,506.30 C256.50,505.95 257.83,505.45 259.00,504.80 C260.17,504.15 261.00,503.03 262.00,502.40 C263.00,501.77 264.00,501.03 265.00,501.00 C266.00,500.97 267.00,501.50 268.00,502.20 C269.00,502.90 269.92,504.18 271.00,505.20 C272.08,506.22 273.25,507.55 274.50,508.30 C275.75,509.05 277.25,509.47 278.50,509.70 C279.75,509.93 275.92,509.70 282.00,509.70 C288.08,509.70 309.50,509.70 315.00,509.70" fill="none" stroke="#000" stroke-width="1.3" stroke-linejoin="round"/>
<path d="M192.70,533.60 C194.17,533.60 199.53,533.60 201.50,533.60 C203.47,533.60 203.50,533.95 204.50,533.60 C205.50,533.25 206.65,533.60 207.50,531.50 C208.35,529.40 208.92,526.17 209.60,521.00 C210.28,515.83 210.97,505.70 211.60,500.50 C212.23,495.30 212.87,491.57 213.40,489.80 C213.93,488.03 214.28,488.70 214.80,489.90 C215.32,491.10 215.88,493.98 216.50,497.00 C217.12,500.02 217.78,504.75 218.50,508.00 C219.22,511.25 219.97,514.03 220.80,516.50 C221.63,518.97 222.47,521.05 223.50,522.80 C224.53,524.55 225.67,525.90 227.00,527.00 C228.33,528.10 229.83,528.80 231.50,529.40 C233.17,530.00 235.08,530.28 237.00,530.60 C238.92,530.92 240.83,531.10 243.00,531.30 C245.17,531.50 248.00,531.77 250.00,531.80 C252.00,531.83 253.42,531.80 255.00,531.50 C256.58,531.20 258.08,531.00 259.50,530.00 C260.92,529.00 262.28,526.87 263.50,525.50 C264.72,524.13 265.88,522.48 266.80,521.80 C267.72,521.12 268.22,521.03 269.00,521.40 C269.78,521.77 270.58,522.73 271.50,524.00 C272.42,525.27 273.50,527.60 274.50,529.00 C275.50,530.40 276.33,531.63 277.50,532.40 C278.67,533.17 280.25,533.40 281.50,533.60 C282.75,533.80 279.42,533.60 285.00,533.60 C290.58,533.60 310.00,533.60 315.00,533.60 L315.00,533.70 L192.70,533.70 Z" fill="#fff" stroke="none"/>
<path d="M192.70,533.60 C194.17,533.60 199.53,533.60 201.50,533.60 C203.47,533.60 203.50,533.95 204.50,533.60 C205.50,533.25 206.65,533.60 207.50,531.50 C208.35,529.40 208.92,526.17 209.60,521.00 C210.28,515.83 210.97,505.70 211.60,500.50 C212.23,495.30 212.87,491.57 213.40,489.80 C213.93,488.03 214.28,488.70 214.80,489.90 C215.32,491.10 215.88,493.98 216.50,497.00 C217.12,500.02 217.78,504.75 218.50,508.00 C219.22,511.25 219.97,514.03 220.80,516.50 C221.63,518.97 222.47,521.05 223.50,522.80 C224.53,524.55 225.67,525.90 227.00,527.00 C228.33,528.10 229.83,528.80 231.50,529.40 C233.17,530.00 235.08,530.28 237.00,530.60 C238.92,530.92 240.83,531.10 243.00,531.30 C245.17,531.50 248.00,531.77 250.00,531.80 C252.00,531.83 253.42,531.80 255.00,531.50 C256.58,531.20 258.08,531.00 259.50,530.00 C260.92,529.00 262.28,526.87 263.50,525.50 C264.72,524.13 265.88,522.48 266.80,521.80 C267.72,521.12 268.22,521.03 269.00,521.40 C269.78,521.77 270.58,522.73 271.50,524.00 C272.42,525.27 273.50,527.60 274.50,529.00 C275.50,530.40 276.33,531.63 277.50,532.40 C278.67,533.17 280.25,533.40 281.50,533.60 C282.75,533.80 279.42,533.60 285.00,533.60 C290.58,533.60 310.00,533.60 315.00,533.60" fill="none" stroke="#000" stroke-width="1.3" stroke-linejoin="round"/>
<path d="M192.70,557.90 C194.17,557.90 199.53,557.90 201.50,557.90 C203.47,557.90 203.50,558.25 204.50,557.90 C205.50,557.55 206.65,557.95 207.50,555.80 C208.35,553.65 208.92,550.13 209.60,545.00 C210.28,539.87 210.97,530.08 211.60,525.00 C212.23,519.92 212.87,516.23 213.40,514.50 C213.93,512.77 214.28,513.43 214.80,514.60 C215.32,515.77 215.88,518.43 216.50,521.50 C217.12,524.57 217.78,529.67 218.50,533.00 C219.22,536.33 219.97,539.08 220.80,541.50 C221.63,543.92 222.47,545.83 223.50,547.50 C224.53,549.17 225.67,550.50 227.00,551.50 C228.33,552.50 229.83,553.00 231.50,553.50 C233.17,554.00 235.08,554.25 237.00,554.50 C238.92,554.75 240.83,554.85 243.00,555.00 C245.17,555.15 248.00,555.40 250.00,555.40 C252.00,555.40 253.42,555.57 255.00,555.00 C256.58,554.43 258.08,553.92 259.50,552.00 C260.92,550.08 262.28,545.95 263.50,543.50 C264.72,541.05 265.88,538.45 266.80,537.30 C267.72,536.15 268.22,536.15 269.00,536.60 C269.78,537.05 270.58,537.93 271.50,540.00 C272.42,542.07 273.50,546.42 274.50,549.00 C275.50,551.58 276.33,554.02 277.50,555.50 C278.67,556.98 280.25,557.50 281.50,557.90 C282.75,558.30 279.42,557.90 285.00,557.90 C290.58,557.90 310.00,557.90 315.00,557.90 L315.00,558.00 L192.70,558.00 Z" fill="#fff" stroke="none"/>
<path d="M192.70,557.90 C194.17,557.90 199.53,557.90 201.50,557.90 C203.47,557.90 203.50,558.25 204.50,557.90 C205.50,557.55 206.65,557.95 207.50,555.80 C208.35,553.65 208.92,550.13 209.60,545.00 C210.28,539.87 210.97,530.08 211.60,525.00 C212.23,519.92 212.87,516.23 213.40,514.50 C213.93,512.77 214.28,513.43 214.80,514.60 C215.32,515.77 215.88,518.43 216.50,521.50 C217.12,524.57 217.78,529.67 218.50,533.00 C219.22,536.33 219.97,539.08 220.80,541.50 C221.63,543.92 222.47,545.83 223.50,547.50 C224.53,549.17 225.67,550.50 227.00,551.50 C228.33,552.50 229.83,553.00 231.50,553.50 C233.17,554.00 235.08,554.25 237.00,554.50 C238.92,554.75 240.83,554.85 243.00,555.00 C245.17,555.15 248.00,555.40 250.00,555.40 C252.00,555.40 253.42,555.57 255.00,555.00 C256.58,554.43 258.08,553.92 259.50,552.00 C260.92,550.08 262.28,545.95 263.50,543.50 C264.72,541.05 265.88,538.45 266.80,537.30 C267.72,536.15 268.22,536.15 269.00,536.60 C269.78,537.05 270.58,537.93 271.50,540.00 C272.42,542.07 273.50,546.42 274.50,549.00 C275.50,551.58 276.33,554.02 277.50,555.50 C278.67,556.98 280.25,557.50 281.50,557.90 C282.75,558.30 279.42,557.90 285.00,557.90 C290.58,557.90 310.00,557.90 315.00,557.90" fill="none" stroke="#000" stroke-width="1.3" stroke-linejoin="round"/>
<path d="M192.70,582.90 C194.17,582.90 199.53,582.90 201.50,582.90 C203.47,582.90 203.50,583.25 204.50,582.90 C205.50,582.55 206.65,582.95 207.50,580.80 C208.35,578.65 208.92,575.22 209.60,570.00 C210.28,564.78 210.97,554.67 211.60,549.50 C212.23,544.33 212.87,540.75 213.40,539.00 C213.93,537.25 214.28,537.83 214.80,539.00 C215.32,540.17 215.88,543.00 216.50,546.00 C217.12,549.00 217.78,553.83 218.50,557.00 C219.22,560.17 219.97,562.63 220.80,565.00 C221.63,567.37 222.47,569.43 223.50,571.20 C224.53,572.97 225.67,574.40 227.00,575.60 C228.33,576.80 229.83,577.70 231.50,578.40 C233.17,579.10 235.08,579.45 237.00,579.80 C238.92,580.15 240.83,580.33 243.00,580.50 C245.17,580.67 248.00,580.82 250.00,580.80 C252.00,580.78 253.42,580.77 255.00,580.40 C256.58,580.03 258.17,579.63 259.50,578.60 C260.83,577.57 261.92,575.43 263.00,574.20 C264.08,572.97 265.17,571.75 266.00,571.20 C266.83,570.65 267.25,570.60 268.00,570.90 C268.75,571.20 269.58,571.85 270.50,573.00 C271.42,574.15 272.50,576.42 273.50,577.80 C274.50,579.18 275.33,580.45 276.50,581.30 C277.67,582.15 279.25,582.63 280.50,582.90 C281.75,583.17 278.25,582.90 284.00,582.90 C289.75,582.90 309.83,582.90 315.00,582.90 L315.00,583.00 L192.70,583.00 Z" fill="#fff" stroke="none"/>
<path d="M192.70,582.90 C194.17,582.90 199.53,582.90 201.50,582.90 C203.47,582.90 203.50,583.25 204.50,582.90 C205.50,582.55 206.65,582.95 207.50,580.80 C208.35,578.65 208.92,575.22 209.60,570.00 C210.28,564.78 210.97,554.67 211.60,549.50 C212.23,544.33 212.87,540.75 213.40,539.00 C213.93,537.25 214.28,537.83 214.80,539.00 C215.32,540.17 215.88,543.00 216.50,546.00 C217.12,549.00 217.78,553.83 218.50,557.00 C219.22,560.17 219.97,562.63 220.80,565.00 C221.63,567.37 222.47,569.43 223.50,571.20 C224.53,572.97 225.67,574.40 227.00,575.60 C228.33,576.80 229.83,577.70 231.50,578.40 C233.17,579.10 235.08,579.45 237.00,579.80 C238.92,580.15 240.83,580.33 243.00,580.50 C245.17,580.67 248.00,580.82 250.00,580.80 C252.00,580.78 253.42,580.77 255.00,580.40 C256.58,580.03 258.17,579.63 259.50,578.60 C260.83,577.57 261.92,575.43 263.00,574.20 C264.08,572.97 265.17,571.75 266.00,571.20 C266.83,570.65 267.25,570.60 268.00,570.90 C268.75,571.20 269.58,571.85 270.50,573.00 C271.42,574.15 272.50,576.42 273.50,577.80 C274.50,579.18 275.33,580.45 276.50,581.30 C277.67,582.15 279.25,582.63 280.50,582.90 C281.75,583.17 278.25,582.90 284.00,582.90 C289.75,582.90 309.83,582.90 315.00,582.90" fill="none" stroke="#000" stroke-width="1.3" stroke-linejoin="round"/>
<rect x="192.70" y="461.90" width="122.30" height="120.90" fill="none" stroke="#000" stroke-width="1.0"/>
<text x="281.20" y="504.30" font-size="6.3" text-anchor="start" fill="#111" stroke="#111" stroke-width="0.12" >Treg</text>
<text x="281.20" y="528.20" font-size="6.3" text-anchor="start" fill="#111" stroke="#111" stroke-width="0.12" >+PMPs A</text>
<text x="281.20" y="552.50" font-size="6.3" text-anchor="start" fill="#111" stroke="#111" stroke-width="0.12" >+PMPs B</text>
<text x="281.20" y="576.70" font-size="6.3" text-anchor="start" fill="#111" stroke="#111" stroke-width="0.12" >+PMPs C</text>
<text x="254.80" y="454.60" font-size="8.8" text-anchor="middle" fill="#000" font-weight="bold" stroke="#000" stroke-width="0.3" >Treg</text>
<line x1="192.20" y1="583.50" x2="315.50" y2="583.50" stroke="#000" stroke-width="1.3" />
<line x1="229.40" y1="582.80" x2="229.40" y2="587.40" stroke="#000" stroke-width="0.8" />
<line x1="259.20" y1="582.80" x2="259.20" y2="587.40" stroke="#000" stroke-width="0.8" />
<line x1="286.70" y1="582.80" x2="286.70" y2="587.40" stroke="#000" stroke-width="0.8" />
<line x1="314.50" y1="582.80" x2="314.50" y2="587.40" stroke="#000" stroke-width="0.8" />
<line x1="238.37" y1="582.80" x2="238.37" y2="586.00" stroke="#000" stroke-width="0.5" />
<line x1="243.62" y1="582.80" x2="243.62" y2="586.00" stroke="#000" stroke-width="0.5" />
<line x1="247.34" y1="582.80" x2="247.34" y2="586.00" stroke="#000" stroke-width="0.5" />
<line x1="250.23" y1="582.80" x2="250.23" y2="586.00" stroke="#000" stroke-width="0.5" />
<line x1="252.59" y1="582.80" x2="252.59" y2="586.00" stroke="#000" stroke-width="0.5" />
<line x1="254.58" y1="582.80" x2="254.58" y2="586.00" stroke="#000" stroke-width="0.5" />
<line x1="256.31" y1="582.80" x2="256.31" y2="586.00" stroke="#000" stroke-width="0.5" />
<line x1="257.84" y1="582.80" x2="257.84" y2="586.00" stroke="#000" stroke-width="0.5" />
<line x1="267.48" y1="582.80" x2="267.48" y2="586.00" stroke="#000" stroke-width="0.5" />
<line x1="272.32" y1="582.80" x2="272.32" y2="586.00" stroke="#000" stroke-width="0.5" />
<line x1="275.76" y1="582.80" x2="275.76" y2="586.00" stroke="#000" stroke-width="0.5" />
<line x1="278.42" y1="582.80" x2="278.42" y2="586.00" stroke="#000" stroke-width="0.5" />
<line x1="280.60" y1="582.80" x2="280.60" y2="586.00" stroke="#000" stroke-width="0.5" />
<line x1="282.44" y1="582.80" x2="282.44" y2="586.00" stroke="#000" stroke-width="0.5" />
<line x1="284.03" y1="582.80" x2="284.03" y2="586.00" stroke="#000" stroke-width="0.5" />
<line x1="285.44" y1="582.80" x2="285.44" y2="586.00" stroke="#000" stroke-width="0.5" />
<line x1="295.07" y1="582.80" x2="295.07" y2="586.00" stroke="#000" stroke-width="0.5" />
<line x1="299.96" y1="582.80" x2="299.96" y2="586.00" stroke="#000" stroke-width="0.5" />
<line x1="303.44" y1="582.80" x2="303.44" y2="586.00" stroke="#000" stroke-width="0.5" />
<line x1="306.13" y1="582.80" x2="306.13" y2="586.00" stroke="#000" stroke-width="0.5" />
<line x1="308.33" y1="582.80" x2="308.33" y2="586.00" stroke="#000" stroke-width="0.5" />
<line x1="310.19" y1="582.80" x2="310.19" y2="586.00" stroke="#000" stroke-width="0.5" />
<line x1="311.81" y1="582.80" x2="311.81" y2="586.00" stroke="#000" stroke-width="0.5" />
<line x1="313.23" y1="582.80" x2="313.23" y2="586.00" stroke="#000" stroke-width="0.5" />
<line x1="194.90" y1="582.80" x2="194.90" y2="586.00" stroke="#000" stroke-width="0.5" />
<line x1="196.65" y1="582.80" x2="196.65" y2="586.00" stroke="#000" stroke-width="0.5" />
<line x1="198.40" y1="582.80" x2="198.40" y2="586.00" stroke="#000" stroke-width="0.5" />
<line x1="200.15" y1="582.80" x2="200.15" y2="586.00" stroke="#000" stroke-width="0.5" />
<line x1="201.90" y1="582.80" x2="201.90" y2="586.00" stroke="#000" stroke-width="0.5" />
<line x1="203.65" y1="582.80" x2="203.65" y2="586.00" stroke="#000" stroke-width="0.5" />
<line x1="205.40" y1="582.80" x2="205.40" y2="586.00" stroke="#000" stroke-width="0.5" />
<line x1="207.15" y1="582.80" x2="207.15" y2="586.00" stroke="#000" stroke-width="0.5" />
<line x1="208.90" y1="582.80" x2="208.90" y2="586.00" stroke="#000" stroke-width="0.5" />
<line x1="210.65" y1="582.80" x2="210.65" y2="586.00" stroke="#000" stroke-width="0.5" />
<line x1="212.40" y1="582.80" x2="212.40" y2="586.00" stroke="#000" stroke-width="0.5" />
<line x1="214.15" y1="582.80" x2="214.15" y2="586.00" stroke="#000" stroke-width="0.5" />
<line x1="215.90" y1="582.80" x2="215.90" y2="586.00" stroke="#000" stroke-width="0.5" />
<line x1="217.65" y1="582.80" x2="217.65" y2="586.00" stroke="#000" stroke-width="0.5" />
<line x1="219.40" y1="582.80" x2="219.40" y2="586.00" stroke="#000" stroke-width="0.5" />
<line x1="221.15" y1="582.80" x2="221.15" y2="586.00" stroke="#000" stroke-width="0.5" />
<line x1="222.90" y1="582.80" x2="222.90" y2="586.00" stroke="#000" stroke-width="0.5" />
<line x1="224.65" y1="582.80" x2="224.65" y2="586.00" stroke="#000" stroke-width="0.5" />
<line x1="226.40" y1="582.80" x2="226.40" y2="586.00" stroke="#000" stroke-width="0.5" />
<line x1="228.15" y1="582.80" x2="228.15" y2="586.00" stroke="#000" stroke-width="0.5" />
<rect x="201.90" y="582.80" width="3.2" height="3.6" fill="#000"/>
<rect x="206.70" y="582.80" width="1.3" height="3.4" fill="#000"/>
<text x="202.00" y="599.30" font-size="5.9" text-anchor="middle" fill="#111" stroke="#111" stroke-width="0.12" stroke="#111" stroke-width="0.15">0</text>
<text x="226.70" y="599.4" font-size="5.9" text-anchor="start" fill="#111" stroke="#111" stroke-width="0.15" textLength="5.6" lengthAdjust="spacingAndGlyphs">10</text>
<text x="233.00" y="595.4" font-size="5.2" text-anchor="start" fill="#111" stroke="#111" stroke-width="0.12">3</text>
<text x="256.50" y="599.4" font-size="5.9" text-anchor="start" fill="#111" stroke="#111" stroke-width="0.15" textLength="5.6" lengthAdjust="spacingAndGlyphs">10</text>
<text x="262.80" y="595.4" font-size="5.2" text-anchor="start" fill="#111" stroke="#111" stroke-width="0.12">4</text>
<text x="284.00" y="599.4" font-size="5.9" text-anchor="start" fill="#111" stroke="#111" stroke-width="0.15" textLength="5.6" lengthAdjust="spacingAndGlyphs">10</text>
<text x="290.30" y="595.4" font-size="5.2" text-anchor="start" fill="#111" stroke="#111" stroke-width="0.12">5</text>
<text x="311.80" y="599.4" font-size="5.9" text-anchor="start" fill="#111" stroke="#111" stroke-width="0.15" textLength="5.6" lengthAdjust="spacingAndGlyphs">10</text>
<text x="318.10" y="595.4" font-size="5.2" text-anchor="start" fill="#111" stroke="#111" stroke-width="0.12">6</text>
<text x="254.60" y="609.70" font-size="7.8" text-anchor="middle" fill="#222" stroke="#222" stroke-width="0.12" >PBSE</text>
<text x="133.80" y="491.10" font-size="7.25" text-anchor="start" fill="#222" stroke="#222" stroke-width="0.12" >Div. Index : 1.16</text>
<text x="133.80" y="499.40" font-size="7.25" text-anchor="start" fill="#222" stroke="#222" stroke-width="0.12" >Prol. Index : 2.80</text>
<text x="133.80" y="507.70" font-size="7.25" text-anchor="start" fill="#222" stroke="#222" stroke-width="0.12" >%Divided : 41.6</text>
<text x="133.80" y="516.00" font-size="7.25" text-anchor="start" fill="#222" stroke="#222" stroke-width="0.12" >Div. Index : 0.923</text>
<text x="133.80" y="524.30" font-size="7.25" text-anchor="start" fill="#222" stroke="#222" stroke-width="0.12" >Prol. Index : 3.06</text>
<text x="133.80" y="532.60" font-size="7.25" text-anchor="start" fill="#222" stroke="#222" stroke-width="0.12" >%Divided : 30.1</text>
<text x="133.80" y="540.90" font-size="7.25" text-anchor="start" fill="#222" stroke="#222" stroke-width="0.12" >Div. Index : 0.525</text>
<text x="133.80" y="549.20" font-size="7.25" text-anchor="start" fill="#222" stroke="#222" stroke-width="0.12" >Prol. Index : 3.03</text>
<text x="133.80" y="557.50" font-size="7.25" text-anchor="start" fill="#222" stroke="#222" stroke-width="0.12" >%Divided : 17.3</text>
<text x="133.80" y="565.80" font-size="7.25" text-anchor="start" fill="#222" stroke="#222" stroke-width="0.12" >Div. Index : 0.918</text>
<text x="133.80" y="574.10" font-size="7.25" text-anchor="start" fill="#222" stroke="#222" stroke-width="0.12" >Prol. Index : 3.16</text>
<text x="133.80" y="582.40" font-size="7.25" text-anchor="start" fill="#222" stroke="#222" stroke-width="0.12" >%Divided : 29.0</text>
<rect x="391.20" y="461.90" width="122.00" height="120.90" fill="#fff" stroke="#000" stroke-width="1.0"/>
<path d="M391.20,508.90 C393.08,508.90 400.12,508.90 402.50,508.90 C404.88,508.90 404.50,509.22 405.50,508.90 C406.50,508.58 407.62,508.98 408.50,507.00 C409.38,505.02 410.08,501.50 410.80,497.00 C411.52,492.50 412.17,484.33 412.80,480.00 C413.43,475.67 414.07,472.47 414.60,471.00 C415.13,469.53 415.50,469.95 416.00,471.20 C416.50,472.45 417.02,475.53 417.60,478.50 C418.18,481.47 418.85,486.25 419.50,489.00 C420.15,491.75 420.75,493.25 421.50,495.00 C422.25,496.75 423.08,498.25 424.00,499.50 C424.92,500.75 425.83,501.62 427.00,502.50 C428.17,503.38 429.50,504.22 431.00,504.80 C432.50,505.38 434.17,505.72 436.00,506.00 C437.83,506.28 440.00,506.40 442.00,506.50 C444.00,506.60 446.00,506.68 448.00,506.60 C450.00,506.52 452.33,506.23 454.00,506.00 C455.67,505.77 456.83,505.50 458.00,505.20 C459.17,504.90 460.00,504.45 461.00,504.20 C462.00,503.95 463.00,503.60 464.00,503.70 C465.00,503.80 465.92,504.22 467.00,504.80 C468.08,505.38 469.25,506.52 470.50,507.20 C471.75,507.88 473.25,508.62 474.50,508.90 C475.75,509.18 471.55,508.90 478.00,508.90 C484.45,508.90 507.33,508.90 513.20,508.90 L513.20,509.00 L391.20,509.00 Z" fill="#fff" stroke="none"/>
<path d="M391.20,508.90 C393.08,508.90 400.12,508.90 402.50,508.90 C404.88,508.90 404.50,509.22 405.50,508.90 C406.50,508.58 407.62,508.98 408.50,507.00 C409.38,505.02 410.08,501.50 410.80,497.00 C411.52,492.50 412.17,484.33 412.80,480.00 C413.43,475.67 414.07,472.47 414.60,471.00 C415.13,469.53 415.50,469.95 416.00,471.20 C416.50,472.45 417.02,475.53 417.60,478.50 C418.18,481.47 418.85,486.25 419.50,489.00 C420.15,491.75 420.75,493.25 421.50,495.00 C422.25,496.75 423.08,498.25 424.00,499.50 C424.92,500.75 425.83,501.62 427.00,502.50 C428.17,503.38 429.50,504.22 431.00,504.80 C432.50,505.38 434.17,505.72 436.00,506.00 C437.83,506.28 440.00,506.40 442.00,506.50 C444.00,506.60 446.00,506.68 448.00,506.60 C450.00,506.52 452.33,506.23 454.00,506.00 C455.67,505.77 456.83,505.50 458.00,505.20 C459.17,504.90 460.00,504.45 461.00,504.20 C462.00,503.95 463.00,503.60 464.00,503.70 C465.00,503.80 465.92,504.22 467.00,504.80 C468.08,505.38 469.25,506.52 470.50,507.20 C471.75,507.88 473.25,508.62 474.50,508.90 C475.75,509.18 471.55,508.90 478.00,508.90 C484.45,508.90 507.33,508.90 513.20,508.90" fill="none" stroke="#000" stroke-width="1.3" stroke-linejoin="round"/>
<path d="M391.20,533.10 C392.92,533.10 399.28,533.10 401.50,533.10 C403.72,533.10 403.50,533.37 404.50,533.10 C405.50,532.83 406.58,533.18 407.50,531.50 C408.42,529.82 409.20,526.92 410.00,523.00 C410.80,519.08 411.58,511.60 412.30,508.00 C413.02,504.40 413.72,502.47 414.30,501.40 C414.88,500.33 415.27,500.92 415.80,501.60 C416.33,502.28 416.92,504.18 417.50,505.50 C418.08,506.82 418.72,508.55 419.30,509.50 C419.88,510.45 420.38,510.45 421.00,511.20 C421.62,511.95 422.25,512.87 423.00,514.00 C423.75,515.13 424.67,516.90 425.50,518.00 C426.33,519.10 427.17,519.77 428.00,520.60 C428.83,521.43 429.58,522.23 430.50,523.00 C431.42,523.77 432.42,524.50 433.50,525.20 C434.58,525.90 435.75,526.68 437.00,527.20 C438.25,527.72 439.67,527.97 441.00,528.30 C442.33,528.63 443.67,529.00 445.00,529.20 C446.33,529.40 447.67,529.60 449.00,529.50 C450.33,529.40 451.67,529.27 453.00,528.60 C454.33,527.93 455.80,527.10 457.00,525.50 C458.20,523.90 459.20,521.42 460.20,519.00 C461.20,516.58 462.12,512.97 463.00,511.00 C463.88,509.03 464.80,507.77 465.50,507.20 C466.20,506.63 466.57,506.72 467.20,507.60 C467.83,508.48 468.58,510.27 469.30,512.50 C470.02,514.73 470.72,518.25 471.50,521.00 C472.28,523.75 473.00,526.98 474.00,529.00 C475.00,531.02 476.33,532.42 477.50,533.10 C478.67,533.78 475.05,533.10 481.00,533.10 C486.95,533.10 507.83,533.10 513.20,533.10 L513.20,533.20 L391.20,533.20 Z" fill="#fff" stroke="none"/>
<path d="M391.20,533.10 C392.92,533.10 399.28,533.10 401.50,533.10 C403.72,533.10 403.50,533.37 404.50,533.10 C405.50,532.83 406.58,533.18 407.50,531.50 C408.42,529.82 409.20,526.92 410.00,523.00 C410.80,519.08 411.58,511.60 412.30,508.00 C413.02,504.40 413.72,502.47 414.30,501.40 C414.88,500.33 415.27,500.92 415.80,501.60 C416.33,502.28 416.92,504.18 417.50,505.50 C418.08,506.82 418.72,508.55 419.30,509.50 C419.88,510.45 420.38,510.45 421.00,511.20 C421.62,511.95 422.25,512.87 423.00,514.00 C423.75,515.13 424.67,516.90 425.50,518.00 C426.33,519.10 427.17,519.77 428.00,520.60 C428.83,521.43 429.58,522.23 430.50,523.00 C431.42,523.77 432.42,524.50 433.50,525.20 C434.58,525.90 435.75,526.68 437.00,527.20 C438.25,527.72 439.67,527.97 441.00,528.30 C442.33,528.63 443.67,529.00 445.00,529.20 C446.33,529.40 447.67,529.60 449.00,529.50 C450.33,529.40 451.67,529.27 453.00,528.60 C454.33,527.93 455.80,527.10 457.00,525.50 C458.20,523.90 459.20,521.42 460.20,519.00 C461.20,516.58 462.12,512.97 463.00,511.00 C463.88,509.03 464.80,507.77 465.50,507.20 C466.20,506.63 466.57,506.72 467.20,507.60 C467.83,508.48 468.58,510.27 469.30,512.50 C470.02,514.73 470.72,518.25 471.50,521.00 C472.28,523.75 473.00,526.98 474.00,529.00 C475.00,531.02 476.33,532.42 477.50,533.10 C478.67,533.78 475.05,533.10 481.00,533.10 C486.95,533.10 507.83,533.10 513.20,533.10" fill="none" stroke="#000" stroke-width="1.3" stroke-linejoin="round"/>
<path d="M391.20,557.90 C392.75,557.90 398.45,557.90 400.50,557.90 C402.55,557.90 402.50,558.22 403.50,557.90 C404.50,557.58 405.58,557.82 406.50,556.00 C407.42,554.18 408.22,551.50 409.00,547.00 C409.78,542.50 410.53,533.83 411.20,529.00 C411.87,524.17 412.47,519.83 413.00,518.00 C413.53,516.17 413.90,517.00 414.40,518.00 C414.90,519.00 415.40,521.83 416.00,524.00 C416.60,526.17 417.28,529.08 418.00,531.00 C418.72,532.92 419.47,533.92 420.30,535.50 C421.13,537.08 422.05,538.92 423.00,540.50 C423.95,542.08 425.00,543.78 426.00,545.00 C427.00,546.22 428.00,546.97 429.00,547.80 C430.00,548.63 430.83,549.37 432.00,550.00 C433.17,550.63 434.67,551.17 436.00,551.60 C437.33,552.03 438.67,552.33 440.00,552.60 C441.33,552.87 442.50,553.08 444.00,553.20 C445.50,553.32 447.50,553.50 449.00,553.30 C450.50,553.10 451.67,552.97 453.00,552.00 C454.33,551.03 455.78,549.92 457.00,547.50 C458.22,545.08 459.30,540.67 460.30,537.50 C461.30,534.33 462.17,530.47 463.00,528.50 C463.83,526.53 464.58,525.98 465.30,525.70 C466.02,525.42 466.60,525.50 467.30,526.80 C468.00,528.10 468.75,530.47 469.50,533.50 C470.25,536.53 471.00,541.50 471.80,545.00 C472.60,548.50 473.27,552.35 474.30,554.50 C475.33,556.65 476.80,557.33 478.00,557.90 C479.20,558.47 475.63,557.90 481.50,557.90 C487.37,557.90 507.92,557.90 513.20,557.90 L513.20,558.00 L391.20,558.00 Z" fill="#fff" stroke="none"/>
<path d="M391.20,557.90 C392.75,557.90 398.45,557.90 400.50,557.90 C402.55,557.90 402.50,558.22 403.50,557.90 C404.50,557.58 405.58,557.82 406.50,556.00 C407.42,554.18 408.22,551.50 409.00,547.00 C409.78,542.50 410.53,533.83 411.20,529.00 C411.87,524.17 412.47,519.83 413.00,518.00 C413.53,516.17 413.90,517.00 414.40,518.00 C414.90,519.00 415.40,521.83 416.00,524.00 C416.60,526.17 417.28,529.08 418.00,531.00 C418.72,532.92 419.47,533.92 420.30,535.50 C421.13,537.08 422.05,538.92 423.00,540.50 C423.95,542.08 425.00,543.78 426.00,545.00 C427.00,546.22 428.00,546.97 429.00,547.80 C430.00,548.63 430.83,549.37 432.00,550.00 C433.17,550.63 434.67,551.17 436.00,551.60 C437.33,552.03 438.67,552.33 440.00,552.60 C441.33,552.87 442.50,553.08 444.00,553.20 C445.50,553.32 447.50,553.50 449.00,553.30 C450.50,553.10 451.67,552.97 453.00,552.00 C454.33,551.03 455.78,549.92 457.00,547.50 C458.22,545.08 459.30,540.67 460.30,537.50 C461.30,534.33 462.17,530.47 463.00,528.50 C463.83,526.53 464.58,525.98 465.30,525.70 C466.02,525.42 466.60,525.50 467.30,526.80 C468.00,528.10 468.75,530.47 469.50,533.50 C470.25,536.53 471.00,541.50 471.80,545.00 C472.60,548.50 473.27,552.35 474.30,554.50 C475.33,556.65 476.80,557.33 478.00,557.90 C479.20,558.47 475.63,557.90 481.50,557.90 C487.37,557.90 507.92,557.90 513.20,557.90" fill="none" stroke="#000" stroke-width="1.3" stroke-linejoin="round"/>
<path d="M391.20,582.90 C392.92,582.90 399.28,582.90 401.50,582.90 C403.72,582.90 403.50,583.22 404.50,582.90 C405.50,582.58 406.58,582.82 407.50,581.00 C408.42,579.18 409.22,576.67 410.00,572.00 C410.78,567.33 411.53,558.20 412.20,553.00 C412.87,547.80 413.47,542.88 414.00,540.80 C414.53,538.72 414.90,539.80 415.40,540.50 C415.90,541.20 416.40,542.83 417.00,545.00 C417.60,547.17 418.33,550.92 419.00,553.50 C419.67,556.08 420.25,558.17 421.00,560.50 C421.75,562.83 422.67,565.42 423.50,567.50 C424.33,569.58 425.08,571.50 426.00,573.00 C426.92,574.50 427.83,575.57 429.00,576.50 C430.17,577.43 431.50,578.07 433.00,578.60 C434.50,579.13 436.17,579.40 438.00,579.70 C439.83,580.00 442.00,580.28 444.00,580.40 C446.00,580.52 448.17,580.57 450.00,580.40 C451.83,580.23 453.50,580.13 455.00,579.40 C456.50,578.67 457.78,577.57 459.00,576.00 C460.22,574.43 461.33,571.67 462.30,570.00 C463.27,568.33 464.08,566.73 464.80,566.00 C465.52,565.27 465.97,565.27 466.60,565.60 C467.23,565.93 467.87,566.47 468.60,568.00 C469.33,569.53 470.10,572.70 471.00,574.80 C471.90,576.90 472.83,579.25 474.00,580.60 C475.17,581.95 476.75,582.52 478.00,582.90 C479.25,583.28 475.63,582.90 481.50,582.90 C487.37,582.90 507.92,582.90 513.20,582.90 L513.20,583.00 L391.20,583.00 Z" fill="#fff" stroke="none"/>
<path d="M391.20,582.90 C392.92,582.90 399.28,582.90 401.50,582.90 C403.72,582.90 403.50,583.22 404.50,582.90 C405.50,582.58 406.58,582.82 407.50,581.00 C408.42,579.18 409.22,576.67 410.00,572.00 C410.78,567.33 411.53,558.20 412.20,553.00 C412.87,547.80 413.47,542.88 414.00,540.80 C414.53,538.72 414.90,539.80 415.40,540.50 C415.90,541.20 416.40,542.83 417.00,545.00 C417.60,547.17 418.33,550.92 419.00,553.50 C419.67,556.08 420.25,558.17 421.00,560.50 C421.75,562.83 422.67,565.42 423.50,567.50 C424.33,569.58 425.08,571.50 426.00,573.00 C426.92,574.50 427.83,575.57 429.00,576.50 C430.17,577.43 431.50,578.07 433.00,578.60 C434.50,579.13 436.17,579.40 438.00,579.70 C439.83,580.00 442.00,580.28 444.00,580.40 C446.00,580.52 448.17,580.57 450.00,580.40 C451.83,580.23 453.50,580.13 455.00,579.40 C456.50,578.67 457.78,577.57 459.00,576.00 C460.22,574.43 461.33,571.67 462.30,570.00 C463.27,568.33 464.08,566.73 464.80,566.00 C465.52,565.27 465.97,565.27 466.60,565.60 C467.23,565.93 467.87,566.47 468.60,568.00 C469.33,569.53 470.10,572.70 471.00,574.80 C471.90,576.90 472.83,579.25 474.00,580.60 C475.17,581.95 476.75,582.52 478.00,582.90 C479.25,583.28 475.63,582.90 481.50,582.90 C487.37,582.90 507.92,582.90 513.20,582.90" fill="none" stroke="#000" stroke-width="1.3" stroke-linejoin="round"/>
<rect x="391.20" y="461.90" width="122.00" height="120.90" fill="none" stroke="#000" stroke-width="1.0"/>
<text x="479.60" y="504.30" font-size="6.3" text-anchor="start" fill="#111" stroke="#111" stroke-width="0.12" >Treg</text>
<text x="479.60" y="528.20" font-size="6.3" text-anchor="start" fill="#111" stroke="#111" stroke-width="0.12" >+PMPs A</text>
<text x="479.60" y="552.50" font-size="6.3" text-anchor="start" fill="#111" stroke="#111" stroke-width="0.12" >+PMPs B</text>
<text x="479.60" y="576.70" font-size="6.3" text-anchor="start" fill="#111" stroke="#111" stroke-width="0.12" >+PMPs C</text>
<text x="453.20" y="454.60" font-size="8.8" text-anchor="middle" fill="#000" font-weight="bold" stroke="#000" stroke-width="0.3" >CCR6<tspan dy="-3" font-size="5.5">+</tspan><tspan dy="3">HLA-DR</tspan><tspan dy="-3" font-size="5.5">+</tspan><tspan dy="3"> Treg</tspan></text>
<line x1="390.70" y1="583.50" x2="513.70" y2="583.50" stroke="#000" stroke-width="1.3" />
<line x1="428.00" y1="582.80" x2="428.00" y2="587.40" stroke="#000" stroke-width="0.8" />
<line x1="457.60" y1="582.80" x2="457.60" y2="587.40" stroke="#000" stroke-width="0.8" />
<line x1="486.00" y1="582.80" x2="486.00" y2="587.40" stroke="#000" stroke-width="0.8" />
<line x1="513.20" y1="582.80" x2="513.20" y2="587.40" stroke="#000" stroke-width="0.8" />
<line x1="436.91" y1="582.80" x2="436.91" y2="586.00" stroke="#000" stroke-width="0.5" />
<line x1="442.12" y1="582.80" x2="442.12" y2="586.00" stroke="#000" stroke-width="0.5" />
<line x1="445.82" y1="582.80" x2="445.82" y2="586.00" stroke="#000" stroke-width="0.5" />
<line x1="448.69" y1="582.80" x2="448.69" y2="586.00" stroke="#000" stroke-width="0.5" />
<line x1="451.03" y1="582.80" x2="451.03" y2="586.00" stroke="#000" stroke-width="0.5" />
<line x1="453.01" y1="582.80" x2="453.01" y2="586.00" stroke="#000" stroke-width="0.5" />
<line x1="454.73" y1="582.80" x2="454.73" y2="586.00" stroke="#000" stroke-width="0.5" />
<line x1="456.25" y1="582.80" x2="456.25" y2="586.00" stroke="#000" stroke-width="0.5" />
<line x1="466.15" y1="582.80" x2="466.15" y2="586.00" stroke="#000" stroke-width="0.5" />
<line x1="471.15" y1="582.80" x2="471.15" y2="586.00" stroke="#000" stroke-width="0.5" />
<line x1="474.70" y1="582.80" x2="474.70" y2="586.00" stroke="#000" stroke-width="0.5" />
<line x1="477.45" y1="582.80" x2="477.45" y2="586.00" stroke="#000" stroke-width="0.5" />
<line x1="479.70" y1="582.80" x2="479.70" y2="586.00" stroke="#000" stroke-width="0.5" />
<line x1="481.60" y1="582.80" x2="481.60" y2="586.00" stroke="#000" stroke-width="0.5" />
<line x1="483.25" y1="582.80" x2="483.25" y2="586.00" stroke="#000" stroke-width="0.5" />
<line x1="484.70" y1="582.80" x2="484.70" y2="586.00" stroke="#000" stroke-width="0.5" />
<line x1="494.19" y1="582.80" x2="494.19" y2="586.00" stroke="#000" stroke-width="0.5" />
<line x1="498.98" y1="582.80" x2="498.98" y2="586.00" stroke="#000" stroke-width="0.5" />
<line x1="502.38" y1="582.80" x2="502.38" y2="586.00" stroke="#000" stroke-width="0.5" />
<line x1="505.01" y1="582.80" x2="505.01" y2="586.00" stroke="#000" stroke-width="0.5" />
<line x1="507.17" y1="582.80" x2="507.17" y2="586.00" stroke="#000" stroke-width="0.5" />
<line x1="508.99" y1="582.80" x2="508.99" y2="586.00" stroke="#000" stroke-width="0.5" />
<line x1="510.56" y1="582.80" x2="510.56" y2="586.00" stroke="#000" stroke-width="0.5" />
<line x1="511.96" y1="582.80" x2="511.96" y2="586.00" stroke="#000" stroke-width="0.5" />
<line x1="393.40" y1="582.80" x2="393.40" y2="586.00" stroke="#000" stroke-width="0.5" />
<line x1="395.15" y1="582.80" x2="395.15" y2="586.00" stroke="#000" stroke-width="0.5" />
<line x1="396.90" y1="582.80" x2="396.90" y2="586.00" stroke="#000" stroke-width="0.5" />
<line x1="398.65" y1="582.80" x2="398.65" y2="586.00" stroke="#000" stroke-width="0.5" />
<line x1="400.40" y1="582.80" x2="400.40" y2="586.00" stroke="#000" stroke-width="0.5" />
<line x1="402.15" y1="582.80" x2="402.15" y2="586.00" stroke="#000" stroke-width="0.5" />
<line x1="403.90" y1="582.80" x2="403.90" y2="586.00" stroke="#000" stroke-width="0.5" />
<line x1="405.65" y1="582.80" x2="405.65" y2="586.00" stroke="#000" stroke-width="0.5" />
<line x1="407.40" y1="582.80" x2="407.40" y2="586.00" stroke="#000" stroke-width="0.5" />
<line x1="409.15" y1="582.80" x2="409.15" y2="586.00" stroke="#000" stroke-width="0.5" />
<line x1="410.90" y1="582.80" x2="410.90" y2="586.00" stroke="#000" stroke-width="0.5" />
<line x1="412.65" y1="582.80" x2="412.65" y2="586.00" stroke="#000" stroke-width="0.5" />
<line x1="414.40" y1="582.80" x2="414.40" y2="586.00" stroke="#000" stroke-width="0.5" />
<line x1="416.15" y1="582.80" x2="416.15" y2="586.00" stroke="#000" stroke-width="0.5" />
<line x1="417.90" y1="582.80" x2="417.90" y2="586.00" stroke="#000" stroke-width="0.5" />
<line x1="419.65" y1="582.80" x2="419.65" y2="586.00" stroke="#000" stroke-width="0.5" />
<line x1="421.40" y1="582.80" x2="421.40" y2="586.00" stroke="#000" stroke-width="0.5" />
<line x1="423.15" y1="582.80" x2="423.15" y2="586.00" stroke="#000" stroke-width="0.5" />
<line x1="424.90" y1="582.80" x2="424.90" y2="586.00" stroke="#000" stroke-width="0.5" />
<line x1="426.65" y1="582.80" x2="426.65" y2="586.00" stroke="#000" stroke-width="0.5" />
<rect x="400.80" y="582.80" width="3.2" height="3.6" fill="#000"/>
<rect x="405.60" y="582.80" width="1.3" height="3.4" fill="#000"/>
<text x="409.70" y="599.30" font-size="5.9" text-anchor="middle" fill="#111" stroke="#111" stroke-width="0.12" stroke="#111" stroke-width="0.15">0</text>
<text x="425.30" y="599.4" font-size="5.9" text-anchor="start" fill="#111" stroke="#111" stroke-width="0.15" textLength="5.6" lengthAdjust="spacingAndGlyphs">10</text>
<text x="431.60" y="595.4" font-size="5.2" text-anchor="start" fill="#111" stroke="#111" stroke-width="0.12">3</text>
<text x="454.90" y="599.4" font-size="5.9" text-anchor="start" fill="#111" stroke="#111" stroke-width="0.15" textLength="5.6" lengthAdjust="spacingAndGlyphs">10</text>
<text x="461.20" y="595.4" font-size="5.2" text-anchor="start" fill="#111" stroke="#111" stroke-width="0.12">4</text>
<text x="483.30" y="599.4" font-size="5.9" text-anchor="start" fill="#111" stroke="#111" stroke-width="0.15" textLength="5.6" lengthAdjust="spacingAndGlyphs">10</text>
<text x="489.60" y="595.4" font-size="5.2" text-anchor="start" fill="#111" stroke="#111" stroke-width="0.12">5</text>
<text x="510.50" y="599.4" font-size="5.9" text-anchor="start" fill="#111" stroke="#111" stroke-width="0.15" textLength="5.6" lengthAdjust="spacingAndGlyphs">10</text>
<text x="516.80" y="595.4" font-size="5.2" text-anchor="start" fill="#111" stroke="#111" stroke-width="0.12">6</text>
<text x="453.40" y="609.70" font-size="7.8" text-anchor="middle" fill="#222" stroke="#222" stroke-width="0.12" >PBSE</text>
<text x="332.70" y="491.10" font-size="7.25" text-anchor="start" fill="#222" stroke="#222" stroke-width="0.12" >Div. Index : 1.30</text>
<text x="332.70" y="499.40" font-size="7.25" text-anchor="start" fill="#222" stroke="#222" stroke-width="0.12" >Prol. Index : 2.97</text>
<text x="332.70" y="507.70" font-size="7.25" text-anchor="start" fill="#222" stroke="#222" stroke-width="0.12" >%Divided : 43.7</text>
<text x="332.70" y="516.00" font-size="7.25" text-anchor="start" fill="#222" stroke="#222" stroke-width="0.12" >Div. Index : 0.407</text>
<text x="332.70" y="524.30" font-size="7.25" text-anchor="start" fill="#222" stroke="#222" stroke-width="0.12" >Prol. Index : 2.25</text>
<text x="332.70" y="532.60" font-size="7.25" text-anchor="start" fill="#222" stroke="#222" stroke-width="0.12" >%Divided : 18.1</text>
<text x="332.70" y="540.90" font-size="7.25" text-anchor="start" fill="#222" stroke="#222" stroke-width="0.12" >Div. Index : 0.329</text>
<text x="332.70" y="549.20" font-size="7.25" text-anchor="start" fill="#222" stroke="#222" stroke-width="0.12" >Prol. Index : 2.38</text>
<text x="332.70" y="557.50" font-size="7.25" text-anchor="start" fill="#222" stroke="#222" stroke-width="0.12" >%Divided : 13.8</text>
<text x="332.70" y="565.80" font-size="7.25" text-anchor="start" fill="#222" stroke="#222" stroke-width="0.12" >Div. Index : 0.493</text>
<text x="332.70" y="574.10" font-size="7.25" text-anchor="start" fill="#222" stroke="#222" stroke-width="0.12" >Prol. Index : 2.71</text>
<text x="332.70" y="582.40" font-size="7.25" text-anchor="start" fill="#222" stroke="#222" stroke-width="0.12" >%Divided : 18.2</text>
</svg>
</body></html>
